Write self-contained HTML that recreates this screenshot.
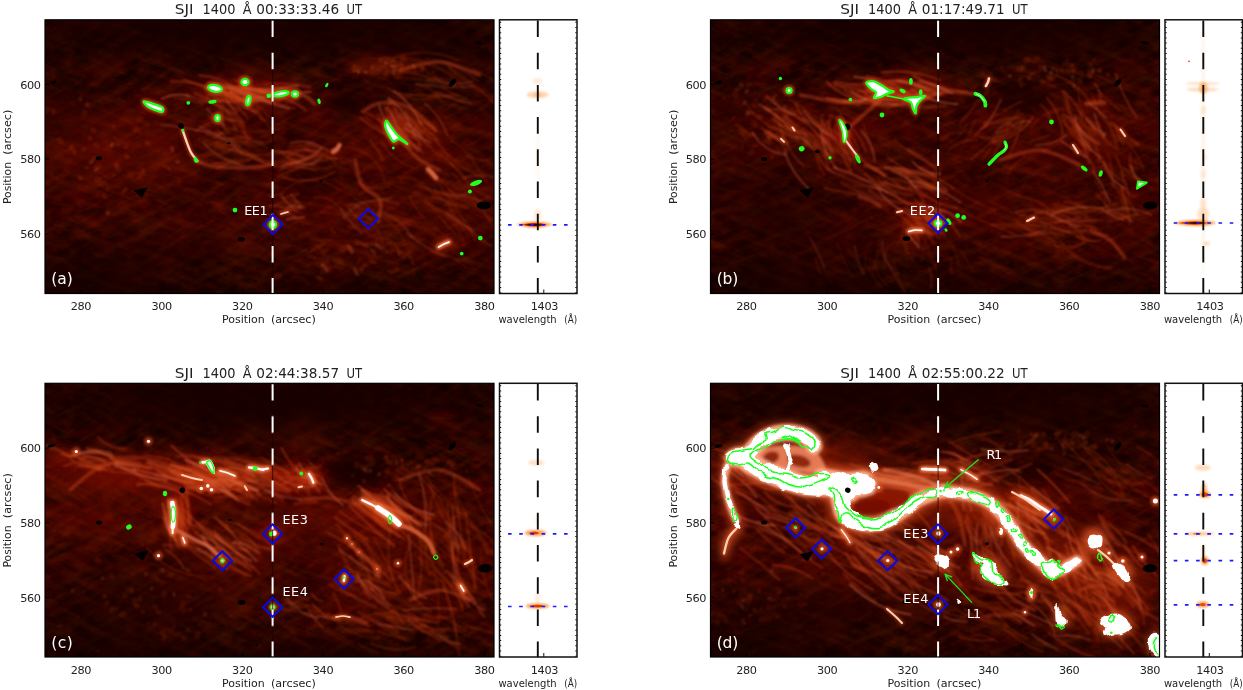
<!DOCTYPE html>
<html><head><meta charset="utf-8"><title>SJI 1400 figure</title>
<style>
html,body{margin:0;padding:0;background:#fff;overflow:hidden}
svg{display:block;font-family:"DejaVu Sans","Liberation Sans",sans-serif}
</style></head><body>
<svg width="1243" height="690" viewBox="0 0 1243 690">
<defs>
<clipPath id="clipI"><rect x="45.0" y="19.8" width="449.0" height="273.7"/></clipPath>
<clipPath id="clipS"><rect x="499.5" y="19.8" width="77.5" height="273.7"/></clipPath>
<linearGradient id="bg0" x1="0" y1="0" x2="0" y2="1"><stop offset="0" stop-color="#0f0000"/><stop offset="0.2" stop-color="#130000"/><stop offset="0.4" stop-color="#240000"/><stop offset="0.75" stop-color="#200000"/><stop offset="1" stop-color="#140000"/></linearGradient>
<filter id="bL" x="-30%" y="-30%" width="160%" height="160%"><feGaussianBlur stdDeviation="11"/></filter>
<filter id="bM" x="-20%" y="-20%" width="140%" height="140%"><feGaussianBlur stdDeviation="4.5"/></filter>
<filter id="bF" x="-10%" y="-10%" width="120%" height="120%"><feGaussianBlur stdDeviation="1.25"/></filter>
<filter id="bS" x="-10%" y="-10%" width="120%" height="120%"><feGaussianBlur stdDeviation="1.6"/></filter>
<filter id="bT" x="-5%" y="-5%" width="110%" height="110%"><feGaussianBlur stdDeviation="0.5"/></filter>
<filter id="bSp" x="-30%" y="-30%" width="160%" height="160%"><feGaussianBlur stdDeviation="1.3"/></filter>
<filter id="wigW" x="-5%" y="-5%" width="110%" height="110%"><feTurbulence type="fractalNoise" baseFrequency="0.09" numOctaves="2" seed="4" result="n"/><feDisplacementMap in="SourceGraphic" in2="n" scale="7" xChannelSelector="R" yChannelSelector="G"/><feGaussianBlur stdDeviation="0.6"/></filter>
<filter id="wigG" x="-5%" y="-5%" width="110%" height="110%"><feTurbulence type="fractalNoise" baseFrequency="0.075" numOctaves="1" seed="9" result="n"/><feDisplacementMap in="SourceGraphic" in2="n" scale="9" xChannelSelector="R" yChannelSelector="G"/></filter>
<filter id="tex" x="0" y="0" width="100%" height="100%"><feTurbulence type="fractalNoise" baseFrequency="0.08 0.12" numOctaves="3" seed="7"/><feColorMatrix values="0 0 0 0 0.5  0 0 0 0 0.015  0 0 0 0 0  1.8 0 0 0 -0.62"/></filter>
<filter id="tex2" x="0" y="0" width="100%" height="100%"><feTurbulence type="fractalNoise" baseFrequency="0.02 0.035" numOctaves="2" seed="21"/><feColorMatrix values="0 0 0 0 0.07  0 0 0 0 0.0  0 0 0 0 0  0 2.2 0 0 -0.9"/></filter>
<filter id="fib" x="0" y="0" width="100%" height="100%"><feTurbulence type="fractalNoise" baseFrequency="0.02 0.12" numOctaves="3" seed="3"/><feColorMatrix values="0 0 0 0 0.75  0 0 0 0 0.09  0 0 0 0 0.0  2.6 0 0 0 -1.12"/></filter>
<filter id="fib2" x="0" y="0" width="100%" height="100%"><feTurbulence type="fractalNoise" baseFrequency="0.022 0.13" numOctaves="3" seed="11"/><feColorMatrix values="0 0 0 0 0.75  0 0 0 0 0.09  0 0 0 0 0.0  2.6 0 0 0 -1.12"/></filter>
<radialGradient id="rg0c0000"><stop offset="0" stop-color="#0c0000" stop-opacity="1"/><stop offset="0.2" stop-color="#0c0000" stop-opacity="0.9"/><stop offset="0.4" stop-color="#0c0000" stop-opacity="0.66"/><stop offset="0.6" stop-color="#0c0000" stop-opacity="0.36"/><stop offset="0.8" stop-color="#0c0000" stop-opacity="0.12"/><stop offset="1" stop-color="#0c0000" stop-opacity="0"/></radialGradient><radialGradient id="rg160000"><stop offset="0" stop-color="#160000" stop-opacity="1"/><stop offset="0.2" stop-color="#160000" stop-opacity="0.9"/><stop offset="0.4" stop-color="#160000" stop-opacity="0.66"/><stop offset="0.6" stop-color="#160000" stop-opacity="0.36"/><stop offset="0.8" stop-color="#160000" stop-opacity="0.12"/><stop offset="1" stop-color="#160000" stop-opacity="0"/></radialGradient><radialGradient id="rga01200"><stop offset="0" stop-color="#a01200" stop-opacity="1"/><stop offset="0.2" stop-color="#a01200" stop-opacity="0.9"/><stop offset="0.4" stop-color="#a01200" stop-opacity="0.66"/><stop offset="0.6" stop-color="#a01200" stop-opacity="0.36"/><stop offset="0.8" stop-color="#a01200" stop-opacity="0.12"/><stop offset="1" stop-color="#a01200" stop-opacity="0"/></radialGradient><radialGradient id="rgb82404"><stop offset="0" stop-color="#b82404" stop-opacity="1"/><stop offset="0.2" stop-color="#b82404" stop-opacity="0.9"/><stop offset="0.4" stop-color="#b82404" stop-opacity="0.66"/><stop offset="0.6" stop-color="#b82404" stop-opacity="0.36"/><stop offset="0.8" stop-color="#b82404" stop-opacity="0.12"/><stop offset="1" stop-color="#b82404" stop-opacity="0"/></radialGradient>
</defs>
<rect width="1243" height="690" fill="#fff"/>
<g transform="translate(0,0)">
<g clip-path="url(#clipI)">
<rect x="45.0" y="19.8" width="449.0" height="273.7" fill="url(#bg0)"/><rect x="45.0" y="19.8" width="449.0" height="273.7" filter="url(#tex)" opacity="0.25"/><rect x="45.0" y="19.8" width="449.0" height="273.7" filter="url(#tex2)" opacity="0.6"/><g transform="rotate(18 270 156)"><rect x="-40" y="-120" width="640" height="560" filter="url(#fib)" opacity="0.12"/></g><g transform="rotate(-28 270 156)"><rect x="-40" y="-120" width="640" height="560" filter="url(#fib2)" opacity="0.1"/></g><g><ellipse cx="60" cy="290" rx="135" ry="39" fill="url(#rg0c0000)" opacity="0.6"/><ellipse cx="270" cy="296" rx="390" ry="18" fill="url(#rg0c0000)" opacity="0.5"/></g>
<g transform="translate(0,0)"><g><ellipse cx="250" cy="30" rx="450" ry="57" fill="url(#rg160000)" opacity="0.9"/><ellipse cx="70" cy="110" rx="75" ry="90" fill="url(#rg160000)" opacity="0.3"/><ellipse cx="445" cy="58" rx="112.5" ry="60" fill="url(#rg160000)" opacity="0.4"/><ellipse cx="110" cy="268" rx="225" ry="54" fill="url(#rg160000)" opacity="0.55"/><ellipse cx="380" cy="285" rx="210" ry="21" fill="url(#rg160000)" opacity="0.4"/><ellipse cx="250" cy="95" rx="105" ry="33" fill="url(#rga01200)" opacity="0.31"/><ellipse cx="400" cy="135" rx="82.5" ry="45" fill="url(#rga01200)" opacity="0.25"/><ellipse cx="120" cy="150" rx="112.5" ry="75" fill="url(#rga01200)" opacity="0.26"/><ellipse cx="330" cy="225" rx="180" ry="67.5" fill="url(#rga01200)" opacity="0.13"/><ellipse cx="440" cy="200" rx="75" ry="90" fill="url(#rga01200)" opacity="0.13"/></g>
<g filter="url(#bM)"><ellipse cx="347" cy="104" rx="18" ry="16" fill="#160000" opacity="0.6"/><ellipse cx="310" cy="185" rx="22" ry="14" fill="#160000" opacity="0.4"/><ellipse cx="385" cy="66" rx="40" ry="10" fill="#a01200" opacity="0.35"/><ellipse cx="255" cy="93" rx="40" ry="9" fill="#b41c00" opacity="0.42"/><ellipse cx="395" cy="132" rx="16" ry="10" fill="#b41c00" opacity="0.42" transform="rotate(45 395 132)"/><ellipse cx="215" cy="90" rx="14" ry="7" fill="#b41c00" opacity="0.35"/><ellipse cx="153" cy="107" rx="14" ry="6" fill="#b41c00" opacity="0.35" transform="rotate(20 153 107)"/><path d="M438.6 247.1C439.5 246.6 442.3 244.8 444 244C445.7 243.2 448.2 242.3 449 242" fill="none" stroke="#b83208" stroke-width="9.6" stroke-linecap="round" stroke-linejoin="round" opacity="0.7"/></g>
<g filter="url(#bF)"><path d="M183.5 79Q207 88.5 232 93.3M205 88.8Q223 87.7 237.8 98.1M174.2 99Q189.4 98.1 203.3 104.6M253.1 97Q274.1 101.6 294.5 108.6M206.5 88.2Q234.4 89.3 262.3 90.2M224.4 93.3Q237.5 104.6 254.5 100.9M234.9 80Q253.6 94 277.1 93.7M237 90.5Q247.1 99.1 260.4 98.1M198.8 101.8Q214.5 102.7 230 100.6M240 95.6Q256.2 100.6 272.1 94.8M259.2 90.7Q276 89.1 292.9 88.4" fill="none" stroke="#d04818" stroke-width="1.5" stroke-linecap="round" opacity="0.32"/><path d="M230.1 87.5Q244.2 89.6 258.5 89.4M255.4 92.2Q284 92.5 306.2 110.5M230.1 85.8Q257.4 87.9 284.2 93.8M238.2 98.9Q248.2 101.4 258.6 101.8M222.1 87.4Q237.6 92.5 252.8 86.3M199.4 74.9Q222.7 77.6 241.6 91.5M215 88.8Q228.7 92.2 241 99M214.8 98.2Q226.5 103.1 239.1 102.2M170.7 81.6Q193.5 79.3 213.1 91.2M194.5 92.8Q218.8 105.9 245.7 99.5M229.4 91.7Q243.7 87.5 256.1 95.7" fill="none" stroke="#d04818" stroke-width="2" stroke-linecap="round" opacity="0.40"/><path d="M208.6 82.5Q230.2 87.3 252.1 90.2M245.2 92.6Q258.8 96.3 272.2 101M226.4 91.9Q247.6 95.3 268.5 99.9M233.2 93.6Q257.8 88.7 280.3 99.9M206.9 95.5Q222.9 94.7 238.7 97.6M243 98.8Q269.9 90.1 297.3 97.2M242.6 86.4Q268 94.3 293.4 102.6M220.8 96.3Q245.7 102.4 271.2 99.5M243.3 88.1Q259.4 99.9 279.2 101.9M186.4 95.1Q214.3 107.5 241 92.8M264.9 83.8Q287.4 82.2 309.4 87" fill="none" stroke="#d04818" stroke-width="3" stroke-linecap="round" opacity="0.26"/><path d="M230.1 91.8Q248.4 94.6 266.7 97.4M259.9 91.4Q285.4 94.8 311 91.7M227.1 87.4Q251.4 93.4 274.2 103.9M245.3 89.1Q272.1 90 298.4 85.5M251.5 98Q270.3 103.8 289.3 108.6M161.6 98.9Q174.9 92.3 189.2 96.2" fill="none" stroke="#ec7446" stroke-width="1.5" stroke-linecap="round" opacity="0.50"/><path d="M255.8 97Q256.5 115.1 269.9 127.3M207.5 99.7Q222.8 107 230.3 122.3M207.3 113.8Q212.6 122.2 222.2 124.3M210.1 93.3Q223.3 108.5 224 128.6M237.9 96.7Q256.4 101.5 268.7 116.1" fill="none" stroke="#d04818" stroke-width="1.5" stroke-linecap="round" opacity="0.24"/><path d="M221 90Q236.3 102 247.5 118M224.5 94.2Q228.3 106.1 240 110.5M231.1 112.2Q241.2 116.2 244.5 126.5M217.6 99.5Q230 112.7 236.1 129.8M209.1 102.3Q221.4 105.8 231.8 113.2" fill="none" stroke="#d04818" stroke-width="2" stroke-linecap="round" opacity="0.30"/><path d="M231.2 94.5Q246 100.4 255.3 113.3M219.4 107.1Q240.2 116.4 246.8 138.1M209.8 116.8Q221.3 121.9 228.4 132.5M218.4 114.2Q229.1 120.6 241.4 122.8M236.6 96.8Q251.4 104.7 261.3 118.3" fill="none" stroke="#d04818" stroke-width="3" stroke-linecap="round" opacity="0.20"/><path d="M239 103.9Q247.2 109.6 257 111.9M226.6 101.8Q231.7 107.6 236.7 113.6M207.1 108.9Q214.6 117.9 224.2 124.7" fill="none" stroke="#ec7446" stroke-width="1.5" stroke-linecap="round" opacity="0.38"/><path d="M214.1 138.1Q232.4 139.8 250.1 134.8M219.6 133.3Q246.4 131.9 267.4 148.6M193.3 129.5Q207.5 131.4 220.5 137.4M199.6 163.5Q217.8 159 233.2 148.5M206 126Q231.2 122.7 251.5 138M223.9 128.9Q254.6 135.6 284.9 127.3M213.8 163.9Q231.3 160 249.3 159.9" fill="none" stroke="#d04818" stroke-width="1.5" stroke-linecap="round" opacity="0.22"/><path d="M205.9 133.7Q233.8 143.1 263.2 142M195.9 131.2Q215.6 115.1 240.4 121.1M215.1 143.2Q231.2 135.7 248.7 138.6M216.5 145.4Q241.6 151.5 264.8 163M212 162.6Q227.5 164.3 243.1 165.1M217 129.2Q238.4 149.1 264.5 161.9M277.9 153.8Q292.7 148.3 308.4 149.8" fill="none" stroke="#d04818" stroke-width="2" stroke-linecap="round" opacity="0.28"/><path d="M204.6 140.1Q220.3 146.9 237 143.4M190.3 154.7Q223.7 158.7 250.8 138.8M217.4 168.1Q233.4 161.8 250.5 160.1M198.8 139.4Q216.1 150.2 236.6 150M236.8 151.9Q258.2 159.6 279.1 150.6M227.9 139Q249.7 150.2 272.3 140.8M233.7 146.2Q258.7 164.4 289.4 168.4" fill="none" stroke="#d04818" stroke-width="3" stroke-linecap="round" opacity="0.18"/><path d="M199 126.4Q223.2 136 242.7 153.3M203.8 143.4Q218.8 159.2 239.9 164.1M160.8 124.3Q191.4 128.8 221.7 134.6" fill="none" stroke="#ec7446" stroke-width="1.5" stroke-linecap="round" opacity="0.35"/><path d="M285.3 161.7Q307.4 173.4 331.4 166.5M288.1 147.6Q304.9 143.2 321.5 148.4M299.4 144.6Q318.3 159.8 342.5 158.2M269.5 164Q281.5 160 294 159.4M283.2 160.4Q303.7 161.8 323.1 168.9M267.5 161.2Q290.1 163.2 312.9 164.3" fill="none" stroke="#d04818" stroke-width="1.5" stroke-linecap="round" opacity="0.24"/><path d="M285.4 163.4Q303.3 164.1 317.9 153.9M285.8 152Q297.9 151.8 306.3 160.5M282.4 176.9Q309.7 186.4 334.6 171.6M277.6 175.8Q296.1 168.1 315.5 162.9M287.2 156.5Q301.4 147.2 317.8 151.9M281 151.9Q288.9 160.6 300.5 160.6" fill="none" stroke="#d04818" stroke-width="2" stroke-linecap="round" opacity="0.30"/><path d="M274 150.6Q297 154.6 319.7 160.1M312.1 165Q323.6 158.2 337 158.3M278.8 171.3Q297.2 158.4 319.6 156.1M305.9 149.1Q323.4 149.9 335.4 162.6M282.8 166.2Q300.2 164.9 316.6 170.5M291 161.5Q314.4 161.7 333.8 148.6" fill="none" stroke="#d04818" stroke-width="3" stroke-linecap="round" opacity="0.20"/><path d="M295.6 163.4Q309.6 166.4 321.3 158.2M281 165.4Q304.4 163.2 322.4 148M290.4 143.3Q308.2 137.9 323.6 148.5M306 142.3Q317.7 144.7 328.2 150.1" fill="none" stroke="#ec7446" stroke-width="1.5" stroke-linecap="round" opacity="0.38"/><path d="M385.8 106.8Q396 118.8 403.8 132.6M389.7 102.4Q414.9 110.9 427.4 134.3M411.4 113.1Q421.3 118.1 429.1 126.1M391.7 101.7Q401.9 118.4 413.7 134.1M365.7 117.3Q382.9 130.1 397 146.1M396.4 125.4Q404.9 137.1 419.1 139.8M399.5 137Q410.6 144.7 421.7 152.6M400.8 112.7Q416.6 132.1 439.1 143.1M391.1 110.1Q408 128.8 432.6 134.4M381.5 141.6Q392.2 160.6 412.9 167.5M393.2 120.7Q400.8 144.9 424.6 153.6" fill="none" stroke="#d04818" stroke-width="1.5" stroke-linecap="round" opacity="0.27"/><path d="M394.6 109Q398.3 124.6 412.2 132.6M424.7 103.1Q441.1 116.4 447.9 136.3M395.5 113.4Q415.1 124.2 419.4 146.1M360.1 117.5Q379.1 134.3 403.6 141.1M414.8 127Q418.6 141.2 431.8 147.6M387.8 105.6Q393.3 118.5 405.1 126.2M377.7 119.2Q384.8 125.5 393.8 128.6M419.6 121.7Q430.1 122.8 436 131.4M388.9 116.2Q409.4 125.8 421.5 145M405.5 111.2Q412.5 123.6 424 132.1M385.9 107.6Q396.2 119 406.7 130.2" fill="none" stroke="#d04818" stroke-width="2" stroke-linecap="round" opacity="0.34"/><path d="M405.3 114.4Q421.2 124.7 435.1 137.4M365.1 112.6Q388 120.3 396.4 143.1M388.2 99.3Q398.4 115.6 409.4 131.4M384.8 108.2Q392.2 121.7 403.1 132.6M378 114.7Q385.4 124.5 397.3 127.9M370.5 141.1Q378.2 149.5 383.1 159.8M391.2 122.8Q402.8 131.6 415.6 138.9M386.5 115.2Q403.4 131.7 417.8 150.6M397.4 113.1Q414.5 118 421.2 134.5M417.9 120.5Q427 130.8 437.5 139.7M389.3 117.3Q398.7 134.1 410.4 149.4" fill="none" stroke="#d04818" stroke-width="3" stroke-linecap="round" opacity="0.22"/><path d="M403.8 128.4Q417.1 136 430.7 143M390.9 112.9Q399.7 136.5 421 149.8M393.6 90.8Q412.2 103.3 421.2 124M378.9 104.2Q384.4 126.6 404.1 138.7M405.6 123.5Q417.4 130.3 425.4 141.3M388.2 97.6Q408.2 112.2 414.6 136.2" fill="none" stroke="#ec7446" stroke-width="1.5" stroke-linecap="round" opacity="0.43"/><path d="M432.7 70.9Q443.7 94.2 468.8 99.6M413.4 79Q437.5 82.5 457.7 95.9M423.2 67.6Q434.7 81.7 452.7 84.1M393.8 91.9Q422.5 97.4 451.8 96.7M448.2 66.5Q473.2 82 493.9 102.8" fill="none" stroke="#d04818" stroke-width="1.5" stroke-linecap="round" opacity="0.18"/><path d="M388 88.5Q411.5 104.5 438.9 97M392.7 69.6Q424.2 74.8 454.3 85.3M394 57.5Q427.2 46.3 459.1 60.7M472.4 69.1Q493.6 77.4 509 94.1M407.2 94.9Q433 95.2 458.9 95.5" fill="none" stroke="#d04818" stroke-width="2" stroke-linecap="round" opacity="0.22"/><path d="M398 77.7Q426.1 80 454.2 79.2M401.6 57.8Q438.4 60.3 463.9 87M415.6 83.9Q433.1 86.9 442.3 102M426.5 58.9Q455.7 61.4 477.6 81M447.8 66Q471.2 91.9 505.2 99.6" fill="none" stroke="#d04818" stroke-width="3" stroke-linecap="round" opacity="0.14"/><path d="M416.4 83.9Q445 88.6 473.9 86.2M435.4 92Q452.3 99.9 470.7 102.9M426.9 79.4Q449.7 87.3 473 81.6" fill="none" stroke="#ec7446" stroke-width="1.5" stroke-linecap="round" opacity="0.28"/><path d="M443.5 205.7Q474.2 200.4 500.7 216.9M471.7 198.8Q479.3 215.1 496.7 220M447.8 193.8Q454.1 204.3 465.9 207.3M446.1 156.5Q463.4 181.5 487.8 199.7M430.9 220.8Q442.7 236 458 247.7M414.4 184.7Q443.7 194.5 473.5 202.7M409.1 196.2Q419.6 217.4 438.4 231.8M470.3 157.5Q479.4 170.6 487.9 184.1M450.9 140.9Q473.8 153.1 482 177.8M429.5 252Q452.1 252.8 467.7 269.1" fill="none" stroke="#d04818" stroke-width="1.5" stroke-linecap="round" opacity="0.18"/><path d="M418.8 185.6Q442.9 192.2 454.6 214.1M435.2 138.7Q451 164 478.5 175.3M432.4 197.6Q445.1 199.1 456.1 205.7M422.8 201Q446.2 211.6 464.5 229.7M433 150.8Q451.9 161.2 465.3 178.1M473.7 194.9Q484.6 212.1 495.3 229.2M428.5 169.3Q443.7 182.8 457.4 197.8M466.3 155.9Q477.2 159.9 488.6 161.2M445.4 211.9Q468.6 228.9 491.5 246.2M448.9 209.2Q457.9 221.8 471.4 229.3" fill="none" stroke="#d04818" stroke-width="2" stroke-linecap="round" opacity="0.22"/><path d="M435.2 176.5Q449.8 203.9 470.4 227.3M425.5 198.8Q441.1 220.2 460 238.6M433.1 194.4Q448.7 206 468 207.6M453.1 173.5Q461.1 181.8 465.6 192.4M437.3 210.7Q459 221.7 464.3 245.4M425.9 172.1Q443.5 180.9 460.7 190.2M450 201.8Q465.5 219 475.1 240.2M441.4 181.6Q469 182.3 491.2 198.7M437.8 159.5Q460.1 169.5 484.3 172.9M441 179.2Q470.2 188.4 500.4 192.7" fill="none" stroke="#d04818" stroke-width="3" stroke-linecap="round" opacity="0.14"/><path d="M406 232.3Q424.2 247.4 445.9 256.8M446.9 212.9Q459.4 222.6 472.9 230.8M434.5 189.9Q452.7 199.3 472.1 192.2M448.9 195.2Q466.6 194.5 482.8 201.6M463.9 177.5Q487.9 172.1 509.9 183" fill="none" stroke="#ec7446" stroke-width="1.5" stroke-linecap="round" opacity="0.28"/><path d="M350.6 160.2Q356.8 188.8 382.5 202.8M365.2 211Q393.4 216.2 404.8 242.5M338.5 200.8Q355.8 209.3 358.3 228.5M373.5 208.8Q400.6 221 430.2 224.1M309.9 240.1Q331 240.1 352.1 241.5M335.1 210.1Q354.9 228.4 379.7 238.7M361.5 177.2Q370.9 193.8 388.6 200.8" fill="none" stroke="#d04818" stroke-width="1.5" stroke-linecap="round" opacity="0.16"/><path d="M285.4 188.8Q312.5 171.4 339.2 189.3M357.6 183.1Q373.4 191.2 390.5 186.5M384.3 237.9Q398.1 241.7 399.4 256M314.1 197.4Q337 195.5 344.6 217.3M355.3 205.4Q373.4 218.9 382.3 239.6M346.2 204.1Q367.4 235.1 403.1 223.4M353.6 198.3Q369.2 202.9 376.1 217.7" fill="none" stroke="#d04818" stroke-width="2" stroke-linecap="round" opacity="0.20"/><path d="M355.2 205.5Q382.5 215.3 409.9 224.8M397.3 177.5Q418.4 175.3 431.2 192.3M350.6 204.3Q363.2 218.5 381.6 222.8M355.9 243.9Q383.3 244.5 410.7 244.1M344.7 147.5Q376.8 149.9 385.1 181M320.5 211.7Q344.3 215.1 368.3 217M359 194.3Q381 180.4 407 182.2" fill="none" stroke="#d04818" stroke-width="3" stroke-linecap="round" opacity="0.13"/><path d="M341.4 208.8Q349.9 222.4 361.6 233.4M348.7 204.9Q370.3 200.8 392.1 197.7M384.5 213.1Q402.9 220.8 412.8 238M343.9 217.2Q367.2 192.1 399.2 204" fill="none" stroke="#ec7446" stroke-width="1.5" stroke-linecap="round" opacity="0.25"/><path d="M113.3 175.1Q113.8 174.8 114.5 174.6M114.6 138.1Q115.6 138.7 116.6 139.3M85.6 167.9Q86.9 167.3 88.3 167.8M69.6 149.4Q70 148.5 70.5 147.6M52.9 113Q53.2 112 54.2 111.5M146.6 141.8Q147.3 142.7 147.4 143.8M163.7 165.6Q164.8 166.1 165.6 167M139.2 132.3Q140.1 132.2 140.9 132.2M53.7 110.5Q53.9 111.1 54.5 111.5M141.5 173.9Q142.7 173.6 143.9 173.3M179.1 182.1Q179.2 182.7 178.9 183.3M99 184.6Q99.5 184.8 100 185M107.3 188.4Q107.7 189 107.9 189.8M125.8 187.7Q125.9 188.9 126.9 189.7M113.1 125.7Q113.8 126.7 113.9 127.9" fill="none" stroke="#d04818" stroke-width="3" stroke-linecap="round" opacity="0.17"/><path d="M142.7 169.7Q142.7 170.6 143.3 171.2M71.3 146.5Q71.7 146.9 72.2 147.3M168.5 168.2Q169.4 168.9 169.6 169.9M122.9 192.4Q123.2 191.1 124.5 190.5M103.3 195.9Q104.1 196.6 105.1 196.7M89.6 137.8Q90.1 138 90.6 138.4M126.2 155.5Q127.2 156.4 127.7 157.6M82.8 149.7Q83.8 149.6 84.6 149.2M134.5 130.5Q135.3 129.3 136.8 129.1M116.3 164.8Q116.4 165.7 116.3 166.5M87.1 103.7Q87.3 104.6 87.2 105.4M79.1 177.4Q79.8 178.3 80.9 178.6M80.5 98.1Q80.3 99 80.9 99.8M94 157.5Q94.5 157.3 95.1 157.4M73.7 150.8Q74 151.6 74.6 152.2" fill="none" stroke="#d04818" stroke-width="3.9" stroke-linecap="round" opacity="0.21"/><path d="M130.3 174Q131.1 174.1 131.9 173.9M118.4 143.2Q119.4 142.6 120.5 142.6M102.8 184.1Q103.7 183.7 104.7 183.5M117.3 167.2Q118.2 168 119 168.9M96.6 179.7Q97.7 180 98.9 179.7M59.9 140.1Q60.2 141.1 60.9 142M125.8 144.6Q126.2 145.2 126.4 145.9M138.9 119.6Q139.8 119.5 140.8 119.5M93 130.7Q93.6 130.9 93.9 131.4M147.5 143.1Q148.3 143.5 149.3 143.4M97 166.7Q98.1 166 99.2 165.2M145.6 124.1Q146.6 124.4 147.6 124.4M95.4 145.4Q96 146.3 97.1 146.3M139 174.5Q139.3 174.9 139.4 175.6M84.6 112.6Q84.3 113.5 84.6 114.3" fill="none" stroke="#d04818" stroke-width="6" stroke-linecap="round" opacity="0.14"/><path d="M172 148.6Q172.2 149.7 172.5 150.8M107.3 212.4Q107.8 212.9 108 213.6M171.9 147.7Q172.4 148.7 172.8 149.7M111.5 146Q111.5 144.7 112.4 143.7M90.5 162.8Q91.3 161.7 92.3 160.9M176.9 161.6Q177.7 162.1 178.6 162.1M95.4 170.3Q96.1 169.2 97.4 168.9" fill="none" stroke="#ec7446" stroke-width="3" stroke-linecap="round" opacity="0.26"/><path d="M385.1 66.7Q385.5 67.5 386.1 68.2M390.1 66.1Q390.5 65.3 390.6 64.4M390.7 61Q391.3 61.1 391.9 61.4M385.2 62.4Q385.9 63 385.9 64M399.7 72.4Q400.4 72.7 400.7 73.3M399.7 68.9Q400.6 68.5 401.1 67.7M377.5 69Q378 68.8 378.6 69M389.1 71.3Q389.8 71.3 390.5 71.1M379.9 62Q380.5 62.3 381 62.6M387.3 58.5Q387.5 58.2 387.8 57.9M414.9 71.9Q415.6 72 416.3 72.2M381 66.5Q381.7 67 381.8 67.9" fill="none" stroke="#d04818" stroke-width="2.8" stroke-linecap="round" opacity="0.18"/><path d="M386.4 70.6Q387.1 71 387.9 71.4M353.8 66.6Q354.6 66.7 355.3 66.9M399.6 64Q399.9 63.6 400.3 63.5M384.4 74Q385.1 74.4 385.7 74.6M353.6 71.1Q353.8 70.7 354 70.2M394.7 70.7Q395.2 70.4 395.5 69.9M393.4 60.5Q394.1 61.2 395.1 61.4M391.3 66.6Q392.3 66.4 393.4 66.6M379.9 60.2Q380.3 60 380.7 59.8M371.8 66.1Q372.3 66.8 372.3 67.7M401.7 66Q402.2 65.6 402.4 64.9M422.3 66.8Q422.1 67.5 422.4 68.3" fill="none" stroke="#d04818" stroke-width="3.6" stroke-linecap="round" opacity="0.22"/><path d="M358 69.7Q359 69.4 359.5 68.6M422.1 70.3Q422.3 69.5 423 68.9M390.6 58.8Q390.6 59.6 390.9 60.3M374.6 67.3Q375.4 67.7 376.2 68M378.4 71.6Q378.6 71.2 379 70.9M373 68.8Q373.4 68.2 373.9 67.7M395.8 76.5Q396.7 76.3 397.6 76M381 66.9Q381.6 66.6 382.4 66.6M403 59.5Q403.1 58.9 403.5 58.5M383.4 58.6Q384.3 58.4 385.2 58.4M375.3 65.5Q376 65.5 376.6 65.9M373 71.3Q373.5 71 373.7 70.4" fill="none" stroke="#d04818" stroke-width="5.6" stroke-linecap="round" opacity="0.14"/><path d="M364.8 71.9Q365.6 71.6 366.4 72.1M385.2 63Q386.1 63.2 387.1 62.9M392.9 66.2Q393.4 66.6 394.1 66.4M396.2 66Q396.7 66.1 397.1 65.8M393.3 72.3Q393.5 72.7 393.7 73.1M412.9 65.5Q413.7 66.1 414.1 67.1M357.9 71Q358.4 71.9 358.7 72.9" fill="none" stroke="#ec7446" stroke-width="2.8" stroke-linecap="round" opacity="0.28"/><path d="M410.5 257.4Q412.5 260.3 413.2 263.7M357.3 262.7Q359.2 260.3 361.5 258.2M311.2 251.1Q312.7 250.1 314.2 249.3M307.8 256.3Q311.9 255.9 315.2 258.3M382 246.7Q385.7 248.4 387.5 252.1M330.9 228.1Q331.8 231 334.4 232.5M322.3 265.4Q325.9 263.6 328.3 260.5M387.9 242.4Q389.4 243.3 391.1 243.2M397.9 251.5Q400.5 252 402.6 253.6M348.4 226.1Q350.8 227.5 353.6 227.5" fill="none" stroke="#d04818" stroke-width="3" stroke-linecap="round" opacity="0.16"/><path d="M320.3 246.7Q321.3 245 323.2 244.4M391.5 272.7Q394.6 271.6 397.1 269.6M370.5 260.9Q373.1 261 375.1 262.7M388.5 270.9Q389.9 272 391.5 272.7M361.4 243.1Q363.7 245.6 367 246.3M317.8 277.5Q320.1 277.9 321.4 279.7M407.4 253.2Q409.3 253.2 410.7 251.9M361.3 269.9Q362.3 266 366 264.5M316.9 245.5Q318.9 246.6 319.7 248.8M355.4 241Q357.2 241 358.5 242.3" fill="none" stroke="#d04818" stroke-width="3.9" stroke-linecap="round" opacity="0.20"/><path d="M335.3 260.1Q337.7 260.6 340.2 261.1M367.9 244.1Q371.6 243.7 375.5 243.6M323.3 252.2Q324.5 250.7 326 249.6M342.2 249.2Q344 249.3 345.6 248.2M275.4 277Q277.4 275.7 279.8 275.2M322.3 271.5Q325.6 269.6 329.3 268.6M338 264.3Q340 265.5 342.3 265.1M346.1 247.4Q349.4 248.4 352.2 250.7M399.6 253.1Q402.4 253.6 403.7 256.1M318.2 264.3Q319.4 265.7 321.2 265.7" fill="none" stroke="#d04818" stroke-width="6" stroke-linecap="round" opacity="0.13"/><path d="M371.1 249.9Q373.5 250.5 374.5 252.9M322.1 264.5Q325.6 266.9 327.3 270.9M354.6 268.7Q355.7 271.7 357.3 274.5M348.4 245.7Q351.1 248.7 351.9 252.6M376.2 245.2Q379 246.9 381.5 248.9" fill="none" stroke="#ec7446" stroke-width="3" stroke-linecap="round" opacity="0.25"/><path d="M276.9 205.7Q287.6 207.8 297.8 211.9M275.5 203.4Q285.7 203 295.8 204.3M267.8 195.3Q276.5 196.7 284 192M280.6 193.7Q283.6 197.6 286.5 201.7" fill="none" stroke="#d04818" stroke-width="1.5" stroke-linecap="round" opacity="0.28"/><path d="M291.2 193.7Q296.2 200.9 301.4 208M280.6 196.3Q287.8 202.8 294.8 209.6M280.4 211Q291.5 211.9 301.4 206.8M269.1 205.7Q278.8 205.7 288.1 208.1" fill="none" stroke="#d04818" stroke-width="2" stroke-linecap="round" opacity="0.35"/><path d="M290.1 200.1Q298.5 201.4 304.7 207.3M284.6 198Q290.9 194.8 298 193.9M268.1 213.6Q275.1 220 283.7 223.9M285.5 210.7Q289.7 214.2 294.7 216.4" fill="none" stroke="#d04818" stroke-width="3" stroke-linecap="round" opacity="0.23"/><path d="M286.6 219.5Q295.2 217.5 304 217.3M287.9 207.2Q294.9 205.2 301.9 207.2" fill="none" stroke="#ec7446" stroke-width="1.5" stroke-linecap="round" opacity="0.44"/><path d="M428 169C428.7 169.7 430.7 171.5 432 173C433.3 174.5 435.3 177.2 436 178" fill="none" stroke="#ffd0b8" stroke-width="2.8" stroke-linecap="round" stroke-linejoin="round" opacity="0.95"/><path d="M333 152C333.7 151.5 335.9 150.2 337 149C338.1 147.8 339.1 145.7 339.5 145" fill="none" stroke="#ffd0b8" stroke-width="2.7" stroke-linecap="round" stroke-linejoin="round" opacity="0.95"/></g>
<g filter="url(#bS)"><path d="M182.5 130C183.1 131.7 184.6 136.2 186 140C187.4 143.8 189.1 149 191 152.5C192.9 156 196.4 159.6 197.5 161" fill="none" stroke="#c84010" stroke-width="4.6" stroke-linecap="round" stroke-linejoin="round" opacity="0.65"/><path d="M197.5 161C199.2 161.7 202.9 163.9 207.5 165C212.1 166.1 217.9 167.1 225 167.5C232.1 167.9 242.5 167.9 250 167.5C257.5 167.1 266.7 165.4 270 165" fill="none" stroke="#d04c1c" stroke-width="2.7" stroke-linecap="round" stroke-linejoin="round" opacity="0.6"/><path d="M438.6 247.1C439.5 246.6 442.3 244.8 444 244C445.7 243.2 448.2 242.3 449 242" fill="none" stroke="#ff8a5a" stroke-width="4.6" stroke-linecap="round" stroke-linejoin="round" opacity="0.9"/><path d="M428 169C428.7 169.7 430.7 171.5 432 173C433.3 174.5 435.3 177.2 436 178" fill="none" stroke="#c84010" stroke-width="5.1" stroke-linecap="round" stroke-linejoin="round" opacity="0.7"/><path d="M333 152C333.7 151.5 335.9 150.2 337 149C338.1 147.8 339.1 145.7 339.5 145" fill="none" stroke="#c84010" stroke-width="5" stroke-linecap="round" stroke-linejoin="round" opacity="0.7"/><path d="M222 92C224.2 92.8 231 95.2 235 97C239 98.8 244.2 102 246 103" fill="none" stroke="#d04c1c" stroke-width="2.7" stroke-linecap="round" stroke-linejoin="round" opacity="0.6"/><path d="M225 86C228.3 86.7 237.8 89 245 90C252.2 91 264.2 91.7 268 92" fill="none" stroke="#d04c1c" stroke-width="2.7" stroke-linecap="round" stroke-linejoin="round" opacity="0.6"/><path d="M290 92C292.5 92.7 300.8 94 305 96C309.2 98 313.3 102.7 315 104" fill="none" stroke="#d04c1c" stroke-width="2.7" stroke-linecap="round" stroke-linejoin="round" opacity="0.6"/><path d="M362 112C365 110.5 372.3 103.8 380 103C387.7 102.2 398.7 102.5 408 107C417.3 111.5 431.3 126.2 436 130" fill="none" stroke="#d04c1c" stroke-width="2.5" stroke-linecap="round" stroke-linejoin="round" opacity="0.6"/><path d="M400 70C406.7 68.7 426.7 61.2 440 62C453.3 62.8 473.3 72.8 480 75" fill="none" stroke="#d04c1c" stroke-width="2.5" stroke-linecap="round" stroke-linejoin="round" opacity="0.6"/><path d="M281 214C281.5 213.8 282.8 213.3 284 213C285.2 212.7 287.3 212.2 288 212" fill="none" stroke="#c84010" stroke-width="4" stroke-linecap="round" stroke-linejoin="round" opacity="0.65"/><path d="M405 145C407.5 147.5 414.2 155.8 420 160C425.8 164.2 436.7 168.3 440 170" fill="none" stroke="#d04c1c" stroke-width="2.5" stroke-linecap="round" stroke-linejoin="round" opacity="0.6"/><path d="M355 160C356.2 164.2 357.8 178.3 362 185C366.2 191.7 377.3 193.8 380 200C382.7 206.2 378.3 218.3 378 222" fill="none" stroke="#d04c1c" stroke-width="2.5" stroke-linecap="round" stroke-linejoin="round" opacity="0.6"/><path d="M143.8 101.3C144.7 100.9 149.9 102.8 153 103.8C156.1 104.8 161 106.1 162.5 107.5C164 108.9 163.4 111.7 162 112C160.6 112.3 156.4 110.5 154 109.6C151.6 108.6 149.2 107.7 147.5 106.3C145.8 104.9 142.9 101.7 143.8 101.3Z" fill="#ff8a5a" stroke="#d04a18" stroke-width="5" stroke-linejoin="round" opacity="0.8"/><ellipse cx="215" cy="88.3" rx="10" ry="6.3" fill="#d8541e" opacity="0.75" transform="rotate(10 215 88.3)"/><ellipse cx="245" cy="82" rx="6.6" ry="6.2" fill="#d8541e" opacity="0.75"/><ellipse cx="248.3" cy="100.5" rx="5" ry="7.8" fill="#d8541e" opacity="0.75" transform="rotate(12 248.3 100.5)"/><ellipse cx="217.5" cy="118" rx="5.2" ry="6" fill="#d8541e" opacity="0.75"/><ellipse cx="281" cy="93.8" rx="10.6" ry="5.3" fill="#d8541e" opacity="0.75" transform="rotate(-10 281 93.8)"/><ellipse cx="295" cy="94" rx="6" ry="5.6" fill="#d8541e" opacity="0.75"/><path d="M386.4 120.6C387.2 120.4 388.2 122.9 389.9 125.2C391.6 127.5 393.9 131.4 396.8 134.5C399.7 137.6 406.8 143 407.2 143.8C407.6 144.6 401.4 139.5 399.1 139.1C396.8 138.7 395 142.2 393.3 141.4C391.6 140.6 390.1 137 388.7 134.5C387.3 132 385.6 128.7 385.2 126.4C384.8 124.1 385.6 120.8 386.4 120.6Z" fill="#ff8a5a" stroke="#d04a18" stroke-width="5" stroke-linejoin="round" opacity="0.8"/><ellipse cx="272.9" cy="224.6" rx="6.2" ry="6.2" fill="#d8541e" opacity="0.75"/></g>
<g filter="url(#bT)"><path d="M182.5 130C183.1 131.7 184.6 136.2 186 140C187.4 143.8 189.1 149 191 152.5C192.9 156 196.4 159.6 197.5 161" fill="none" stroke="#ffd8c4" stroke-width="2.3" stroke-linecap="round" stroke-linejoin="round" opacity="0.95"/><path d="M438.6 247.1C439.5 246.6 442.3 244.8 444 244C445.7 243.2 448.2 242.3 449 242" fill="none" stroke="#fff" stroke-width="1.6" stroke-linecap="round" stroke-linejoin="round"/><path d="M281 214C281.5 213.8 282.8 213.3 284 213C285.2 212.7 287.3 212.2 288 212" fill="none" stroke="#ffd8c4" stroke-width="1.7" stroke-linecap="round" stroke-linejoin="round" opacity="0.95"/></g>
<g><ellipse cx="181" cy="126" rx="3" ry="2.5" fill="#000" transform="rotate(30 181 126)"/><ellipse cx="228.8" cy="143.3" rx="2" ry="1" fill="#000"/><ellipse cx="98.8" cy="158.3" rx="3" ry="2" fill="#000"/><ellipse cx="53.8" cy="82.5" rx="3" ry="1.5" fill="#000" transform="rotate(-15 53.8 82.5)"/><path d="M133.5 190.6L147.5 187.6L141.9 197.6L139.1 195.6Z" fill="#000"/><ellipse cx="241.3" cy="239.2" rx="3.5" ry="2.3" fill="#000"/><ellipse cx="255.8" cy="281" rx="1.2" ry="1" fill="#000"/><ellipse cx="452.5" cy="82.8" rx="5" ry="2.3" fill="#000" transform="rotate(-50 452.5 82.8)"/><ellipse cx="479.1" cy="42.9" rx="3" ry="1.4" fill="#000" transform="rotate(10 479.1 42.9)"/><ellipse cx="483.8" cy="205.4" rx="7" ry="4" fill="#000"/><ellipse cx="320.8" cy="181" rx="1.5" ry="1.5" fill="#000"/></g>
<g><path d="M143.8 101.3C144.7 100.9 149.9 102.8 153 103.8C156.1 104.8 161 106.1 162.5 107.5C164 108.9 163.4 111.7 162 112C160.6 112.3 156.4 110.5 154 109.6C151.6 108.6 149.2 107.7 147.5 106.3C145.8 104.9 142.9 101.7 143.8 101.3Z" fill="#fff" stroke="#1eff1e" stroke-width="2.3" stroke-linejoin="round"/><ellipse cx="188.3" cy="102.8" rx="1.9" ry="1.9" fill="#1eff1e"/><ellipse cx="215" cy="88.3" rx="7" ry="3.3" fill="#fff" stroke="#1eff1e" stroke-width="2.2" transform="rotate(10 215 88.3)"/><ellipse cx="212.5" cy="101.8" rx="4.2" ry="1.9" fill="#1eff1e" transform="rotate(-8 212.5 101.8)"/><ellipse cx="245" cy="82" rx="3.6" ry="3.2" fill="#fff" stroke="#1eff1e" stroke-width="2.2"/><ellipse cx="248.3" cy="100.5" rx="2" ry="4.8" fill="#fff" stroke="#1eff1e" stroke-width="2.2" transform="rotate(12 248.3 100.5)"/><ellipse cx="217.5" cy="118" rx="2.2" ry="3" fill="#fff" stroke="#1eff1e" stroke-width="2.2"/><ellipse cx="281" cy="93.8" rx="7.6" ry="2.3" fill="#fff" stroke="#1eff1e" stroke-width="2.2" transform="rotate(-10 281 93.8)"/><ellipse cx="268.8" cy="95.8" rx="2.4" ry="2.4" fill="#1eff1e"/><ellipse cx="295" cy="94" rx="3" ry="2.6" fill="#fff" stroke="#1eff1e" stroke-width="2.2"/><ellipse cx="195.8" cy="160" rx="1.9" ry="2.9" fill="#1eff1e" transform="rotate(-20 195.8 160)"/><ellipse cx="183" cy="130.5" rx="1.4" ry="1.4" fill="#1eff1e"/><ellipse cx="326.8" cy="85.1" rx="1.4" ry="2.4" fill="#1eff1e" transform="rotate(30 326.8 85.1)"/><ellipse cx="319.1" cy="101.3" rx="1.6" ry="2.9" fill="#1eff1e" transform="rotate(-15 319.1 101.3)"/><path d="M386.4 120.6C387.2 120.4 388.2 122.9 389.9 125.2C391.6 127.5 393.9 131.4 396.8 134.5C399.7 137.6 406.8 143 407.2 143.8C407.6 144.6 401.4 139.5 399.1 139.1C396.8 138.7 395 142.2 393.3 141.4C391.6 140.6 390.1 137 388.7 134.5C387.3 132 385.6 128.7 385.2 126.4C384.8 124.1 385.6 120.8 386.4 120.6Z" fill="#fff" stroke="#1eff1e" stroke-width="2.3" stroke-linejoin="round"/><ellipse cx="393.3" cy="148" rx="1.4" ry="1.4" fill="#1eff1e"/><ellipse cx="476.1" cy="182.9" rx="6.4" ry="2.4" fill="#1eff1e" transform="rotate(-20 476.1 182.9)"/><ellipse cx="469.9" cy="191.5" rx="2" ry="2" fill="#1eff1e"/><ellipse cx="480.3" cy="238.1" rx="2.4" ry="2.4" fill="#1eff1e"/><ellipse cx="461.7" cy="253.6" rx="1.9" ry="1.9" fill="#1eff1e"/><ellipse cx="235" cy="210.1" rx="2.4" ry="2.4" fill="#1eff1e"/><ellipse cx="272.9" cy="224.6" rx="3.2" ry="3.2" fill="#fff" stroke="#1eff1e" stroke-width="2.2"/></g></g>
</g>
<line x1="272.6" y1="19.8" x2="272.6" y2="293.5" stroke="#1a0300" stroke-width="1.2" opacity="0.6"/>
<line x1="272.6" y1="20.5" x2="272.6" y2="293.5" stroke="#fff" stroke-width="2" stroke-dasharray="16.6 15.6"/>
<g transform="translate(0,0)"><path d="M263.3 224.6L272.9 215L282.5 224.6L272.9 234.2Z" fill="none" stroke="#0a0ae6" stroke-width="2" stroke-linejoin="miter"/><path d="M358.7 218.8L368.3 209.2L377.9 218.8L368.3 228.4Z" fill="none" stroke="#0a0ae6" stroke-width="2" stroke-linejoin="miter"/><text x="244.2" y="214.8" font-size="12.8" fill="#fff" textLength="23.5" lengthAdjust="spacing">EE1</text></g>
<rect x="45.0" y="19.8" width="449.0" height="273.7" fill="none" stroke="#000" stroke-width="1.2"/>
<rect x="499.5" y="19.8" width="77.5" height="273.7" fill="#fff" stroke="none"/>
<g clip-path="url(#clipS)"><g transform="translate(0,0)"><g filter="url(#bSp)"><ellipse cx="537.6" cy="81.1" rx="5" ry="3" fill="#ff8a28" opacity="0.18"/><ellipse cx="537.6" cy="94.8" rx="11" ry="3.5" fill="#ff8a28" opacity="0.35"/><ellipse cx="537.6" cy="94.8" rx="4" ry="2.5" fill="#ff8a28" opacity="0.3"/><ellipse cx="537.8" cy="215" rx="4" ry="6" fill="#ff8a28" opacity="0.18"/><ellipse cx="537.8" cy="160" rx="2" ry="30" fill="#ff8a28" opacity="0.06"/><path d="M516 224.6Q535 218.2 553 224.6Q535 231 516 224.6Z" fill="#ff8a28" opacity="0.9"/></g><g filter="url(#bT)"><path d="M522 224.7Q535 220.9 547 224.7Q535 228.5 522 224.7Z" fill="#d63a00" opacity="1"/><path d="M524.5 224.8Q534.5 222.6 543.5 224.8Q534.5 227 524.5 224.8Z" fill="#3a0400" opacity="1"/></g><line x1="508" y1="224.8" x2="568" y2="224.8" stroke="#1a1aff" stroke-width="1.7" stroke-dasharray="3.6 7.6"/></g></g>
<line x1="537.8" y1="20.5" x2="537.8" y2="293.5" stroke="#0c0c0c" stroke-width="1.9" stroke-dasharray="16.6 15.6"/>
<rect x="499.5" y="19.8" width="77.5" height="273.7" fill="none" stroke="#111" stroke-width="1.5"/>
<line x1="500.5" y1="21.8" x2="500.5" y2="293.5" stroke="#111" stroke-width="1.4" stroke-dasharray="1 4.2"/>
<line x1="576.0" y1="21.8" x2="576.0" y2="293.5" stroke="#111" stroke-width="1.4" stroke-dasharray="1 4.2"/>
<line x1="543.8" y1="289.5" x2="543.8" y2="293.5" stroke="#111" stroke-width="1"/>
<text x="174.8" y="14.4" font-size="13.6" text-anchor="start" fill="#222" textLength="18.8" lengthAdjust="spacingAndGlyphs">SJI</text>
<text x="202.6" y="14.4" font-size="13.6" text-anchor="start" fill="#222" textLength="33" lengthAdjust="spacingAndGlyphs">1400</text>
<text x="242.8" y="14.4" font-size="13.6" text-anchor="start" fill="#222" textLength="8.8" lengthAdjust="spacingAndGlyphs">Å</text>
<text x="256.3" y="14.4" font-size="13.6" text-anchor="start" fill="#222" textLength="82.8" lengthAdjust="spacingAndGlyphs">00:33:33.46</text>
<text x="346.6" y="14.4" font-size="13.6" text-anchor="start" fill="#222" textLength="15.6" lengthAdjust="spacingAndGlyphs">UT</text>
<text x="41" y="88.6" font-size="11.3" text-anchor="end" fill="#222" textLength="20.8" lengthAdjust="spacing">600</text>
<line x1="45.0" y1="84.6" x2="49.0" y2="84.6" stroke="#000" stroke-width="1"/>
<text x="41" y="163.3" font-size="11.3" text-anchor="end" fill="#222" textLength="20.8" lengthAdjust="spacing">580</text>
<line x1="45.0" y1="159.3" x2="49.0" y2="159.3" stroke="#000" stroke-width="1"/>
<text x="41" y="238" font-size="11.3" text-anchor="end" fill="#222" textLength="20.8" lengthAdjust="spacing">560</text>
<line x1="45.0" y1="234" x2="49.0" y2="234" stroke="#000" stroke-width="1"/>
<text x="81.1" y="310.3" font-size="11.3" text-anchor="middle" fill="#222" textLength="20.8" lengthAdjust="spacing">280</text>
<line x1="81.1" y1="293.5" x2="81.1" y2="289.5" stroke="#000" stroke-width="1"/>
<text x="161.8" y="310.3" font-size="11.3" text-anchor="middle" fill="#222" textLength="20.8" lengthAdjust="spacing">300</text>
<line x1="161.8" y1="293.5" x2="161.8" y2="289.5" stroke="#000" stroke-width="1"/>
<text x="242.5" y="310.3" font-size="11.3" text-anchor="middle" fill="#222" textLength="20.8" lengthAdjust="spacing">320</text>
<line x1="242.5" y1="293.5" x2="242.5" y2="289.5" stroke="#000" stroke-width="1"/>
<text x="323.2" y="310.3" font-size="11.3" text-anchor="middle" fill="#222" textLength="20.8" lengthAdjust="spacing">340</text>
<line x1="323.2" y1="293.5" x2="323.2" y2="289.5" stroke="#000" stroke-width="1"/>
<text x="403.9" y="310.3" font-size="11.3" text-anchor="middle" fill="#222" textLength="20.8" lengthAdjust="spacing">360</text>
<line x1="403.9" y1="293.5" x2="403.9" y2="289.5" stroke="#000" stroke-width="1"/>
<text x="484.6" y="310.3" font-size="11.3" text-anchor="middle" fill="#222" textLength="20.8" lengthAdjust="spacing">380</text>
<line x1="484.6" y1="293.5" x2="484.6" y2="289.5" stroke="#000" stroke-width="1"/>
<text x="222" y="323.4" font-size="11" text-anchor="start" fill="#222" textLength="42.8" lengthAdjust="spacingAndGlyphs">Position</text>
<text x="270.9" y="323.4" font-size="11" text-anchor="start" fill="#222" textLength="45" lengthAdjust="spacingAndGlyphs">(arcsec)</text>
<g transform="translate(11.4,204) rotate(-90)"><text x="0" y="0" font-size="11" fill="#222" textLength="42" lengthAdjust="spacingAndGlyphs">Position</text><text x="49.3" y="0" font-size="11" fill="#222" textLength="45" lengthAdjust="spacingAndGlyphs">(arcsec)</text></g>
<text x="544.6" y="310.3" font-size="11.3" text-anchor="middle" fill="#222" textLength="27.6" lengthAdjust="spacing">1403</text>
<text x="498.4" y="323.4" font-size="11" text-anchor="start" fill="#222" textLength="58.3" lengthAdjust="spacingAndGlyphs">wavelength</text>
<text x="564.2" y="323.4" font-size="11" text-anchor="start" fill="#222" textLength="12.9" lengthAdjust="spacingAndGlyphs">(Å)</text>
<text x="51.2" y="284.4" font-size="15.5" text-anchor="start" fill="#fff" textLength="21.5" lengthAdjust="spacing">(a)</text>
</g>
<g transform="translate(665.5,0)">
<g clip-path="url(#clipI)">
<rect x="45.0" y="19.8" width="449.0" height="273.7" fill="url(#bg0)"/><rect x="45.0" y="19.8" width="449.0" height="273.7" filter="url(#tex)" opacity="0.25"/><rect x="45.0" y="19.8" width="449.0" height="273.7" filter="url(#tex2)" opacity="0.6"/><g transform="rotate(22 270 156)"><rect x="-40" y="-120" width="640" height="560" filter="url(#fib)" opacity="0.12"/></g><g transform="rotate(-24 270 156)"><rect x="-40" y="-120" width="640" height="560" filter="url(#fib2)" opacity="0.1"/></g><g><ellipse cx="60" cy="290" rx="135" ry="39" fill="url(#rg0c0000)" opacity="0.6"/><ellipse cx="270" cy="296" rx="390" ry="18" fill="url(#rg0c0000)" opacity="0.5"/></g>
<g transform="translate(-665.5,0)"><g><ellipse cx="940" cy="30" rx="450" ry="54" fill="url(#rg160000)" opacity="0.9"/><ellipse cx="775" cy="215" rx="112.5" ry="82.5" fill="url(#rg160000)" opacity="0.55"/><ellipse cx="830" cy="275" rx="240" ry="39" fill="url(#rg160000)" opacity="0.5"/><ellipse cx="1080" cy="282" rx="150" ry="24" fill="url(#rg160000)" opacity="0.4"/><ellipse cx="725" cy="110" rx="45" ry="90" fill="url(#rg160000)" opacity="0.3"/><ellipse cx="900" cy="92" rx="90" ry="30" fill="url(#rga01200)" opacity="0.31"/><ellipse cx="840" cy="135" rx="75" ry="45" fill="url(#rga01200)" opacity="0.17"/><ellipse cx="1080" cy="130" rx="105" ry="60" fill="url(#rga01200)" opacity="0.17"/><ellipse cx="930" cy="215" rx="75" ry="45" fill="url(#rga01200)" opacity="0.17"/><ellipse cx="1050" cy="220" rx="135" ry="60" fill="url(#rga01200)" opacity="0.11"/><ellipse cx="760" cy="110" rx="60" ry="60" fill="url(#rga01200)" opacity="0.08"/></g>
<g filter="url(#bM)"><ellipse cx="1022" cy="97" rx="24" ry="14" fill="#160000" opacity="0.6"/><ellipse cx="852" cy="53" rx="60" ry="10" fill="#160000" opacity="0.35"/><ellipse cx="895" cy="92" rx="34" ry="9" fill="#b41c00" opacity="0.45"/><ellipse cx="935" cy="89" rx="12" ry="6" fill="#b41c00" opacity="0.35"/><ellipse cx="1095" cy="104" rx="14" ry="5" fill="#b41c00" opacity="0.35"/><ellipse cx="925" cy="222" rx="22" ry="14" fill="#b41c00" opacity="0.32"/><ellipse cx="845" cy="132" rx="8" ry="12" fill="#b41c00" opacity="0.32"/><path d="M908.7 231.5C909.8 231.2 912.8 230.2 915 230C917.2 229.8 920.6 230.3 921.7 230.4" fill="none" stroke="#b83208" stroke-width="9.6" stroke-linecap="round" stroke-linejoin="round" opacity="0.7"/></g>
<g filter="url(#bF)"><path d="M898.5 89Q917 93.8 934.9 100.3M897.3 102.3Q914 96.7 931.4 99.6M868 91.8Q883.1 90.7 898.1 88.2M883.9 93.7Q906.1 95.2 928.4 96.3M840.4 86.5Q857.5 85.1 874 89.6M856.7 95.6Q884.8 105.8 910.8 90.9M881.8 94.8Q899.3 93.1 916.8 94.3M871.6 98.4Q884.5 101.3 897.5 99.5M833.2 98.5Q854 102.4 875.1 103.2M887.3 108.6Q902.3 100.9 918.5 105.9M889.4 85.3Q909.7 98.2 933.6 96.3M815.5 98.4Q841.4 107.7 867.7 99.3" fill="none" stroke="#d04818" stroke-width="1.5" stroke-linecap="round" opacity="0.36"/><path d="M826.7 98.2Q850.3 105.8 873 95.6M848.5 96.7Q858 103.4 869.6 103.4M872.9 103.8Q888.5 109.4 904.2 103.7M886.7 81.3Q912.7 78 935.1 91.7M826.7 82Q850 104.5 882.1 99.4M883.9 91.9Q910.9 104 938.9 94.1M913.2 75.9Q938.5 89.6 967.2 91.9M864.4 94.2Q887.4 103.9 910.3 94M866.6 75.8Q888.7 80.6 908.1 92.4M881.7 72.4Q911.9 68.4 940 80.1M858.5 91.2Q875.6 93.5 891.8 87.8M834.5 82.1Q854.1 86.3 873.8 83.1" fill="none" stroke="#d04818" stroke-width="2" stroke-linecap="round" opacity="0.45"/><path d="M876.4 83.6Q896.6 76.4 916.5 84.6M891.6 80.1Q919.3 86.5 947.3 91.4M870.3 87.9Q896.1 77.4 922.6 86.3M871.4 106.2Q890.1 97.1 910.6 100.8M885.5 99.2Q899.7 105 914.9 102.4M835.6 84.9Q863.7 92.5 892.8 94.4M895 82.1Q908.5 83.9 922 85.4M844.6 90.2Q864.7 103.2 888.1 98M915.7 88Q927.8 92.7 940.8 94.3M890.7 91.8Q908 101.1 927.5 98.9M867.8 88.2Q886.5 94.2 906.2 93.1M887.2 102.5Q916.1 109.7 945.7 105.8" fill="none" stroke="#d04818" stroke-width="3" stroke-linecap="round" opacity="0.29"/><path d="M843.2 101.1Q855.4 103.1 867.2 99.8M853.8 77.1Q876.2 78.1 893.6 92.1M918.9 80.9Q936.4 85.2 952.5 93.1M897.1 80.5Q914.2 83.1 929.6 91.3M911.3 89Q932.1 103.3 957.4 103.9M851.1 91Q871.8 105.8 897.1 104M896.5 96.5Q908.3 100.5 919.5 94.9" fill="none" stroke="#ec7446" stroke-width="1.5" stroke-linecap="round" opacity="0.56"/><path d="M863.7 123.2Q864.6 133.2 870.2 141.5M823.7 137.8Q835 152.6 851.4 161.2M842.3 137.4Q846.2 150.1 850.5 162.7M814.7 115Q828.1 125.1 835.1 140.3M829.9 114.2Q827.3 139 844 157.4M815.3 140.1Q813.5 159.5 824.7 175.6M814.8 131.1Q824.6 142.5 826.9 157.3M836.7 108.6Q850.2 126 848.7 147.9" fill="none" stroke="#d04818" stroke-width="1.5" stroke-linecap="round" opacity="0.28"/><path d="M832.3 129.7Q844.5 137.2 850.4 150.2M819.6 128.6Q842.6 138.5 851.2 162M835.6 124.6Q834 136.1 841.1 145.3M827.2 120.9Q833.6 143.9 851.8 159.4M795.4 103.6Q806.5 126.6 826.8 142M843.3 122.9Q852 143 855.3 164.7M817.8 154.9Q822.7 166.9 833.9 173.3M841.4 137.2Q841 156.7 851.7 173" fill="none" stroke="#d04818" stroke-width="2" stroke-linecap="round" opacity="0.35"/><path d="M779.7 123.7Q784.8 148.6 803.4 165.8M802.6 129.8Q814.3 147.6 833.6 157M831.2 115.3Q857.2 124.7 865.5 151M802.7 128.7Q824 143 828.3 168.3M824.7 125.4Q829.7 135 830.4 145.8M785.3 115.1Q797.5 134.8 814.9 150.2M821.8 114.8Q821.7 134.7 832.6 151.3M839.4 120.1Q852.9 132.5 858.1 150" fill="none" stroke="#d04818" stroke-width="3" stroke-linecap="round" opacity="0.23"/><path d="M784.5 151.6Q791.7 173.6 808.9 189.1M861.1 130.6Q872.9 143.7 875 161.3M821 129.5Q822.6 143.1 832.8 152.2M803.7 110.9Q813.5 124.8 827.3 134.6M821 130.7Q822.8 152.7 837.2 169.4" fill="none" stroke="#ec7446" stroke-width="1.5" stroke-linecap="round" opacity="0.44"/><path d="M771.6 108.8Q790.2 111.1 805.2 122.4M777.8 128.7Q791.6 140.4 808.8 146.3M767.4 131.2Q777.8 140.8 792 141.2M806.6 114.8Q817.2 122.2 827.7 129.5M747.3 105.7Q761.4 126.5 786.2 130.7M788.6 131.2Q812 130.4 830.5 144.7M771.1 118Q789 132.2 809.4 142.4" fill="none" stroke="#d04818" stroke-width="1.5" stroke-linecap="round" opacity="0.26"/><path d="M784.7 117.1Q801.1 124.9 806.8 142M779.2 124.4Q793 129.8 806.9 134.6M797.9 118.1Q819 122.5 833.1 138.9M782.4 115.8Q790 129.1 804 135.4M763.9 106.4Q773.1 114.5 783.5 121.1M760.8 127.9Q777.8 136 787.4 152.2M768.2 126.7Q783.8 131.2 797.8 139.2" fill="none" stroke="#d04818" stroke-width="2" stroke-linecap="round" opacity="0.33"/><path d="M765.3 109.4Q789.2 107.7 806.7 124M789.5 99Q808.3 109.1 820.1 127M773.2 99.1Q780.5 110.9 794.3 112.3M804.1 133.4Q809 142.9 818.6 147.6M774.4 119.3Q786.9 129.8 799 140.7M736.1 124.7Q745.1 128.6 749.5 137.3M774.6 113.7Q785.8 124 797.7 133.3" fill="none" stroke="#d04818" stroke-width="3" stroke-linecap="round" opacity="0.21"/><path d="M752.6 132.6Q763.8 151.9 785.9 154.8M795.3 136Q806.4 139.3 812.9 148.8M758.8 104.2Q777.6 114.2 791 130.7M767.2 96.4Q779.1 109.5 795.8 115.1" fill="none" stroke="#ec7446" stroke-width="1.5" stroke-linecap="round" opacity="0.41"/><path d="M895.5 172.1Q916 176.4 933.7 187.6M882.6 183.7Q905.3 185.5 925 196.7M893.7 139.7Q915.8 157.9 941.8 170M862.6 174Q877.1 181.4 893.1 184.5M898.7 199.6Q911.1 204.1 923.1 209.7M922.9 181.2Q930.9 196.1 947.6 198.8M853.5 186.2Q885.4 183.4 908 206M858.6 178.5Q886.3 181.2 904 202.7M907.7 172.6Q920.3 186.5 938.7 189.7M885.1 181.1Q895.2 188.5 907.7 188.7" fill="none" stroke="#d04818" stroke-width="1.5" stroke-linecap="round" opacity="0.29"/><path d="M876.8 169.8Q888.2 178.1 900.1 185.7M894.6 166.7Q909.9 170.4 921.6 181M889.9 193Q903.9 202.3 919.7 208M864.9 173.8Q885.9 194.3 913.2 205.4M905.8 174.5Q924 202.6 957 208.2M872.8 168.3Q895.4 166.9 916 176.2M892.9 178.8Q913.4 184.7 934 190.4M919.9 167.2Q936.8 177.7 953.7 188.2M917.2 181.4Q932 185.5 946.5 191M887.4 157.5Q909.2 171.2 930.8 185.3" fill="none" stroke="#d04818" stroke-width="2" stroke-linecap="round" opacity="0.36"/><path d="M844.5 149.8Q861.4 158.2 875.7 170.5M885.6 182.8Q898.1 188.9 912 189.6M899.3 172.6Q927 170.6 947.1 189.7M908 149.3Q925.9 159 940 173.6M878.8 180.8Q893 194.2 912.6 195M827 168.7Q853.1 182.7 881.8 189.9M909.5 187Q927.9 183.7 943 194.6M841.2 182.7Q868 198.8 899.1 202.4M869.1 190.4Q891.4 205.8 918.4 203.3M824.8 188.4Q847.3 193.1 870.1 196.6" fill="none" stroke="#d04818" stroke-width="3" stroke-linecap="round" opacity="0.23"/><path d="M910.9 180.8Q938 186.4 960.6 202.3M891.8 170.8Q907.2 175.2 915.8 188.8M912.4 161.4Q923.4 174.4 940.4 173.9M877.9 188.9Q893.8 211.5 920.5 218.6M833.5 167.3Q862.2 176.7 887.7 192.9" fill="none" stroke="#ec7446" stroke-width="1.5" stroke-linecap="round" opacity="0.45"/><path d="M949.6 142.4Q962.5 137 966.7 123.6M992.1 135.4Q1006.7 129.9 1021.3 124.5M963.2 142.5Q977.7 136.7 985.8 123.2M981.7 160.2Q993.3 148.2 996.1 131.7M965.7 141.8Q970.6 130.8 975.5 119.8M1008 174Q1013.8 162.7 1024.9 156.4M1031.2 128.3Q1041 113.3 1058.4 108.7" fill="none" stroke="#d04818" stroke-width="1.5" stroke-linecap="round" opacity="0.22"/><path d="M993.4 141.7Q1018.8 138.2 1033.1 116.9M1009.6 154.9Q1017.9 136.4 1024.2 117.1M980.8 137.1Q1002 141.3 1018.7 127.6M993.8 155.8Q999.6 141.9 1008.8 130M971 159.5Q988.3 146 1002.7 129.3M981.5 129.1Q999 116.6 1020.4 118.2M1003.8 110.5Q1012.4 105.8 1021.3 101.6" fill="none" stroke="#d04818" stroke-width="2" stroke-linecap="round" opacity="0.28"/><path d="M994.4 143.8Q1007.1 127.9 1018.8 111.3M960.2 123.7Q973.4 106.5 988.1 90.7M984.9 121.7Q1005.1 125.9 1022 114.1M977.1 133.1Q985.6 122.6 996.6 114.6M942.2 139.2Q950.2 132 960.9 132.7M949.5 149.3Q961.1 138.9 976.5 140M1029.7 141.8Q1039.5 138.8 1049.2 135.6" fill="none" stroke="#d04818" stroke-width="3" stroke-linecap="round" opacity="0.18"/><path d="M1035.7 145.1Q1052.9 145.9 1066.3 135.1M984.8 126.8Q994.4 113.9 1001 99.2M996.2 132.5Q1001.2 124.8 1010.1 122.5M1011.8 125.9Q1020.4 120.2 1030.5 121.6" fill="none" stroke="#ec7446" stroke-width="1.5" stroke-linecap="round" opacity="0.35"/><path d="M1063.1 89.8Q1065.7 115.1 1080.3 135.9M1079.2 110.8Q1088.3 120.7 1099.8 127.6M1062.6 114.1Q1074.8 119 1081.4 130.2M1098.1 90.2Q1108.8 100.7 1119.8 110.8M1080.5 126.8Q1082.2 136.5 1087.8 144.7M1091.9 93Q1095.6 110.1 1106.7 123.5M1078.2 88.2Q1078.7 112.5 1095 130.6M1062 121Q1077.9 134.9 1090.4 151.9M1108.8 123.5Q1118.4 125.9 1123.5 134.4M1070.3 116.6Q1072.4 132.5 1082.6 144.9" fill="none" stroke="#d04818" stroke-width="1.5" stroke-linecap="round" opacity="0.27"/><path d="M1046.7 97.4Q1060.8 113.4 1062.8 134.6M1074.6 126Q1088.4 134.7 1090.3 150.8M1075.4 147.9Q1086.2 152.1 1089.3 163.3M1074.9 129.5Q1087.3 142.9 1088.2 161.2M1115.6 73.6Q1122.6 97.3 1136.9 117.5M1115.6 125Q1117.4 135.4 1123.6 143.9M1066.1 92.3Q1067.2 111.2 1077.5 127.1M1077.5 130.5Q1083.5 150.5 1094.5 168.3M1094.8 83.6Q1101.3 91.3 1100.6 101.3M1062 91.5Q1077.7 100.6 1081.9 118.2" fill="none" stroke="#d04818" stroke-width="2" stroke-linecap="round" opacity="0.34"/><path d="M1061.9 115.7Q1069.6 134.9 1086.3 147.1M1090.7 121.6Q1100.7 138 1116.5 149M1080.2 121.7Q1096.5 138.5 1099.3 161.8M1107.4 121Q1114.3 134.5 1117.8 149.2M1056.2 75.6Q1078 83.3 1090.3 103M1111.1 122.4Q1124.3 134.1 1138.3 144.8M1040.8 104.8Q1049.5 111 1050.6 121.7M1081.5 121.1Q1086.2 129.7 1095.2 133.8M1063.8 114.8Q1082 128.5 1096.3 146.2M1074.7 115.4Q1086.9 130.1 1105.5 134.5" fill="none" stroke="#d04818" stroke-width="3" stroke-linecap="round" opacity="0.22"/><path d="M1075.3 117.9Q1079.7 143.4 1101.2 157.9M1085.9 118.8Q1094 128.5 1104.9 134.6M1094.3 113.6Q1097.8 126.2 1104.5 137.5M1061.2 140.9Q1073.4 149.8 1086.3 157.5M1089.5 103.6Q1098.6 110 1106.2 118M1074.6 119Q1081.9 136.4 1099.3 144" fill="none" stroke="#ec7446" stroke-width="1.5" stroke-linecap="round" opacity="0.43"/><path d="M1078.3 221.3Q1108.8 221.8 1138 213.1M1056 222.1Q1077.5 218.8 1096.5 229.1M1106.6 222.8Q1127.2 217 1148.1 212.2M950.4 186.8Q971.5 201.5 995.6 210.4M1011.2 212.6Q1039.5 216.5 1058.1 238.3M988.6 200.3Q1011.7 212.5 1035.8 222.6M967.9 214.2Q991.9 224.7 1016 235.2M1014.1 219.7Q1026.8 227.5 1038.7 236.6M1053.5 204.7Q1077.5 205.7 1093.7 223.5M1030.2 214.5Q1048.6 225.8 1069.1 232.5M1050 216.3Q1067.2 206.2 1087 208.2" fill="none" stroke="#d04818" stroke-width="1.5" stroke-linecap="round" opacity="0.24"/><path d="M1042.5 223.5Q1061.5 222.7 1079.7 217.3M1071.9 220.5Q1084.3 221.8 1096.7 219.7M1063.8 201.5Q1076 203.1 1086.7 209.3M1034.2 213.7Q1056.3 207.8 1078.2 214.3M991.6 225.1Q1019.2 222.9 1046.5 227M1050.3 227Q1068 235.7 1086.9 230M1100.8 212Q1119.1 208.9 1132.7 221.5M1057.6 218.4Q1075.5 224.3 1086 239.9M1028.6 236.3Q1046.1 230.5 1064 235.1M1015.7 211.9Q1043.4 205.7 1069.4 217.4M1077 236.5Q1087.8 242.4 1100 240.7" fill="none" stroke="#d04818" stroke-width="2" stroke-linecap="round" opacity="0.30"/><path d="M1069.1 226.9Q1082.9 223.7 1096.3 228.2M1056.7 209.8Q1087.5 215.7 1116.6 203.7M1060.9 242.2Q1080.6 267 1112.2 267.9M1035.6 211.9Q1053.2 214.1 1069.8 220M1032.4 216.7Q1048.2 218 1063.5 222.2M1107.2 213.2Q1120.3 213.3 1131.3 220.3M1049.2 210Q1061 206 1073.1 209.6M1069.7 225.3Q1087.3 234.5 1107.2 235.3M1001.6 228.1Q1031.2 222.9 1054.4 241.8M1017 195.6Q1037.9 198.3 1053 212.9M1055.3 245.4Q1070.2 250.9 1083.9 243" fill="none" stroke="#d04818" stroke-width="3" stroke-linecap="round" opacity="0.20"/><path d="M1046.3 212.6Q1062 221.6 1079.4 226.4M1052.1 214.3Q1076.7 202.9 1103.3 208.5M1108.1 210.5Q1130.5 205 1151.4 215M1001.1 237Q1024.1 237 1046 230.1M1100.6 207.5Q1110.6 216.6 1123.9 219.6" fill="none" stroke="#ec7446" stroke-width="1.5" stroke-linecap="round" opacity="0.38"/><path d="M921.4 201Q925.8 218 942 225M925.6 229.6Q928.3 237 933.8 242.6M915.6 189.6Q927.3 202.3 929.4 219.5M935.9 212Q951.7 220.9 960.2 236.9M911.8 225.1Q922.9 233.7 936.9 233.5M914.6 199Q923.5 211.1 937.2 217.2M921.3 208Q923.7 214.7 929.3 219" fill="none" stroke="#d04818" stroke-width="1.5" stroke-linecap="round" opacity="0.34"/><path d="M923.4 215.6Q930.7 226.3 941.3 233.7M920.3 212.8Q935.6 223.3 954.1 223.3M916.5 223.2Q924.3 227.7 931.2 233.5M904.5 208.1Q910.6 212.2 917.8 214.4M911.1 208.4Q923.5 213.4 932.1 223.9M929.6 205.5Q934.9 221.6 938.5 238.2M913.3 218.7Q925 226.7 939.3 227" fill="none" stroke="#d04818" stroke-width="2" stroke-linecap="round" opacity="0.42"/><path d="M917.9 217.6Q928.1 218.2 935.6 225.1M938 203.5Q938.9 211.5 942.4 218.8M918.5 228.8Q925.6 232.1 932.7 235.5M922 206.4Q926.6 214.1 931.1 221.8M900.3 215.6Q909.8 222.8 916.5 232.7M923.3 209.4Q938.1 218.2 944 234.4M912 227.2Q916.9 234.4 919 242.8" fill="none" stroke="#d04818" stroke-width="3" stroke-linecap="round" opacity="0.27"/><path d="M929.1 208.7Q947.9 208.3 961 221.7M919.4 204.2Q936 208.6 946.4 222.2M909.5 236.4Q915 241.6 919.3 247.8" fill="none" stroke="#ec7446" stroke-width="1.5" stroke-linecap="round" opacity="0.53"/><path d="M1122.9 137.9Q1138.1 151.9 1144.2 171.5M1116.5 180.7Q1123.4 191.2 1134.4 197.2M1094.5 180.7Q1100.6 193 1111.8 200.9M1104.7 192.9Q1104.5 203.1 1107.5 212.9M1108.2 153.7Q1112.7 169.7 1113.1 186.2" fill="none" stroke="#d04818" stroke-width="1.5" stroke-linecap="round" opacity="0.24"/><path d="M1124.2 178.9Q1126.1 187.4 1129.3 195.5M1123.6 167.2Q1131 176.8 1142.4 181M1120.8 187.1Q1128.2 205.2 1129.7 224.6M1115.9 156.6Q1123.2 168.3 1123.2 182.2M1099.5 155.9Q1108.2 174.5 1126.8 183.3" fill="none" stroke="#d04818" stroke-width="2" stroke-linecap="round" opacity="0.30"/><path d="M1130.5 153.4Q1127.6 169.2 1138.5 181.1M1108.1 172.3Q1118.4 190.2 1128.1 208.5M1111.2 183.6Q1127 196.5 1136.9 214.1M1122.5 186.7Q1121.1 199.6 1125 212M1097.1 194.7Q1103.6 201.6 1109.1 209.3" fill="none" stroke="#d04818" stroke-width="3" stroke-linecap="round" opacity="0.20"/><path d="M1103.5 161.4Q1108.7 180 1125.9 188.9M1092.7 171Q1103.4 185.7 1109.7 202.7M1130.7 165.5Q1134 178.4 1145.8 184.7" fill="none" stroke="#ec7446" stroke-width="1.5" stroke-linecap="round" opacity="0.38"/><path d="M754 145.7Q755.4 145.5 756.7 145.9M771.5 156.5Q771.9 157.3 772.5 158M723.1 98.1Q723.6 98.2 724.1 98.4M775.4 135.1Q775.9 134.4 776.5 133.8M753.9 104.5Q754.2 105.8 754.4 107.1M776.1 109.1Q776.9 109.1 777.7 108.7M732.8 118.5Q733.5 117.8 734 116.9M769.2 131.6Q769.9 131.4 770.5 131.7M775 117.5Q775.4 116.6 776.2 116M755 99.9Q756 100.6 757.1 100.7M742.4 146.2Q742.2 147.6 742.3 148.9M745.2 138.1Q746 139.1 746.4 140.4" fill="none" stroke="#d04818" stroke-width="3" stroke-linecap="round" opacity="0.14"/><path d="M767.4 142.3Q768.7 142.5 769.4 143.7M764.4 141Q764.8 142 765.7 142.4M751.3 133.7Q752.4 134.2 753.7 133.9M746.3 113.7Q747.1 113.7 747.8 113.9M781.5 136.8Q782.3 136.9 783.1 137.2M773.8 97.2Q774.2 95.8 775.3 95M742.7 134.3Q743.3 135.3 744.3 135.7M769.7 137.7Q769.8 138.5 770.3 139M764.6 99Q765.3 98.6 766 98.2M758.9 116.1Q760 116.5 760.7 117.3M736.4 89.5Q737.4 88.5 738.7 88.1M751.2 112Q751.9 112.6 752.8 112.8" fill="none" stroke="#d04818" stroke-width="3.9" stroke-linecap="round" opacity="0.18"/><path d="M777.5 123.9Q777.2 124.9 777 126M750.1 153.2Q750.8 152.2 752 151.7M803.8 144Q805.2 144.2 806.4 143.6M740.6 130.8Q741.2 131.7 741.6 132.6M753.5 123.3Q754.5 123.8 755.1 124.6M748.5 84.4Q749 84.6 749.6 84.8M734.9 95Q735.5 95.9 736.5 96.1M785.6 113.5Q786.6 114.4 788 114.7M797.5 113.3Q798.1 113.7 798.8 113.5M778.4 147.9Q778.4 148.7 779 149.3M774.9 120.3Q775.9 120.8 777.1 120.8M788 124.1Q788.8 124.4 789.5 124.1" fill="none" stroke="#d04818" stroke-width="6" stroke-linecap="round" opacity="0.12"/><path d="M767.3 136.7Q768.5 137.3 768.9 138.6M743.8 104Q744.8 103.3 745 102.1M746.1 91.9Q746.7 90.9 747.5 90M740.4 84.5Q741.4 84.9 742 85.8M767.8 110Q768.4 110.2 769.1 110.2M785.2 106.3Q784.6 107 784.6 107.8M747.8 111.4Q748.3 112.6 748.6 113.8" fill="none" stroke="#ec7446" stroke-width="3" stroke-linecap="round" opacity="0.22"/><path d="M1032.7 61.9Q1033.2 62 1033.6 61.7M1039.5 65.3Q1039.9 66 1039.8 66.7M990.6 73.9Q991.1 73.6 991.6 73.8M1008.3 76.7Q1008.4 76.1 1008.7 75.6M1061.1 69.7Q1061.7 70.3 1062.3 71M1067.1 59.2Q1067.7 59.5 1067.8 60.2M1088 76.5Q1088.7 75.8 1089.3 75M1099.2 70.9Q1099.6 71.4 1099.6 72M1093.8 60Q1094.5 60.3 1095.2 60.4M1050.1 73Q1050.7 73.1 1051.1 73.4M1029.8 61.1Q1029.8 60.2 1029.9 59.4M1032.6 74Q1032.8 73.2 1033.1 72.5M1068.1 70.5Q1068.6 70.6 1069 70.9M1029.4 73.1Q1029.8 73.1 1030.2 73.2M1001.3 67.3Q1001.9 66.6 1002.9 66.6" fill="none" stroke="#d04818" stroke-width="2.8" stroke-linecap="round" opacity="0.17"/><path d="M1041.5 81Q1042.6 80.9 1043.4 81.6M1090.1 77.4Q1090.7 76.9 1090.9 76.2M1052.7 68.9Q1052.8 68.4 1053.1 68.1M1028 78.8Q1028.7 78.3 1029.5 77.7M1021.8 67.4Q1021.7 68.3 1022 69.1M1070.3 66.1Q1071.3 66.5 1072.3 65.9M1107.4 74Q1108.2 74.4 1108.7 75.1M1049 78.6Q1049.6 78.1 1050.4 78M1079.6 82.8Q1080.2 82.2 1080.7 81.4M1099.3 70.7Q1100.1 70.5 1100.5 69.9M1090.5 64.5Q1090.5 65.1 1090.7 65.6M1072.1 70.9Q1072.6 71.2 1073.2 71M1047.1 77.4Q1047.3 76.7 1047.9 76.4M1056.4 70.1Q1056.8 71.1 1056.9 72.2M1071.6 64.2Q1072 64.6 1072.2 65.1" fill="none" stroke="#d04818" stroke-width="3.6" stroke-linecap="round" opacity="0.21"/><path d="M1080.2 72.9Q1080.9 73.3 1081.5 73.7M1020.1 80.7Q1020.4 81.3 1020.8 81.7M1021.5 83.8Q1021.7 84.4 1021.9 84.9M1036.4 58.9Q1037.1 58.2 1037.4 57.4M1018.6 68.1Q1018.7 68.8 1018.9 69.5M1024 67.7Q1023.9 68.4 1024.2 68.9M1074.1 70.5Q1074.3 71.3 1074.8 72M1026.4 60.7Q1026.8 59.9 1027 59M1089.2 73.8Q1089.6 74.1 1090.1 74.3M1051.2 77.6Q1051.3 78.7 1052.2 79.2M1042.5 68.9Q1042.7 68.1 1043.2 67.6M1064.8 63.7Q1065.6 64.2 1066.5 64.1M1089.4 70.7Q1089.7 71.4 1090 72.1M993.3 78.8Q993.5 79.3 993.7 79.8M1052.4 77.6Q1052.4 76.7 1052.6 75.8" fill="none" stroke="#d04818" stroke-width="5.6" stroke-linecap="round" opacity="0.14"/><path d="M1050.1 72.6Q1050.9 72.9 1051.7 72.4M1045.7 70.3Q1045.8 70.7 1045.8 71.2M1093 71.5Q1093.2 70.5 1093.2 69.5M1073.5 85.3Q1074 86 1074.5 86.7M1072.4 77.8Q1072.6 77.3 1072.8 76.9M1009.8 75.9Q1010.3 76.2 1010.8 76.6M1044.4 67.1Q1044.4 67.7 1044.8 68.1" fill="none" stroke="#ec7446" stroke-width="2.8" stroke-linecap="round" opacity="0.26"/><path d="M875.1 264.7Q877.8 278.8 889.7 286.9M923.4 239.9Q933.3 252.7 936.7 268.5M864.1 251.5Q866.9 260.2 864 268.9M903.6 221.6Q904 234.4 897.3 245.3M925.3 238.3Q927.9 252 936.5 263.2M959.6 249.3Q967.8 259.9 972.8 272.3M837.6 243.5Q842 261.3 852.6 276.2" fill="none" stroke="#d04818" stroke-width="2" stroke-linecap="round" opacity="0.10"/><path d="M885.3 259.6Q894.4 274.5 902.8 289.6M894.1 260.5Q893.3 268.5 899 274.2M895.2 272.9Q901.5 282.1 905.1 292.6M887.8 247.5Q883 257.6 884.4 268.7M901.4 238.8Q906 250.7 913.1 261.3M951 258.5Q949.9 266.2 952 273.7M815.3 258.8Q817.7 265.9 820 273.1" fill="none" stroke="#d04818" stroke-width="2.6" stroke-linecap="round" opacity="0.13"/><path d="M923.5 244.8Q924.4 252.8 921.3 260.2M848.6 250.2Q854.9 256.1 856.8 264.6M944.7 237.2Q956 247.2 958.3 262.2M906.4 238Q905.8 248.5 906.6 258.9M868.6 267.9Q872.6 277.3 879.3 284.9M879.6 238.1Q879.7 253.9 873.2 268.4M922.6 245.3Q931 257.8 937.6 271.3" fill="none" stroke="#d04818" stroke-width="4" stroke-linecap="round" opacity="0.08"/><path d="M882.8 239.7Q880.6 257.5 893.3 270M809.7 237.5Q818.6 251.9 824.3 267.8M929.4 268Q933.1 277.7 931 287.9M854.7 245.7Q857 260.8 863.9 274.3" fill="none" stroke="#ec7446" stroke-width="2" stroke-linecap="round" opacity="0.16"/></g>
<g filter="url(#bS)"><path d="M792.5 127.5L794.5 130.5" fill="none" stroke="#c84010" stroke-width="4.4" stroke-linecap="round" stroke-linejoin="round" opacity="0.65"/><path d="M781 138.8L784 141.8" fill="none" stroke="#c84010" stroke-width="4.2" stroke-linecap="round" stroke-linejoin="round" opacity="0.65"/><path d="M765 132C766.7 132.8 771.2 135 775 137C778.8 139 785.8 142.8 788 144" fill="none" stroke="#d04c1c" stroke-width="2.5" stroke-linecap="round" stroke-linejoin="round" opacity="0.6"/><path d="M845.7 140.4C846.8 141.8 849.8 146.1 852 149C854.2 151.9 857.6 156.3 858.7 157.8" fill="none" stroke="#c84010" stroke-width="4.3" stroke-linecap="round" stroke-linejoin="round" opacity="0.65"/><path d="M908.7 231.5C909.8 231.2 912.8 230.2 915 230C917.2 229.8 920.6 230.3 921.7 230.4" fill="none" stroke="#ff8a5a" stroke-width="4.6" stroke-linecap="round" stroke-linejoin="round" opacity="0.9"/><path d="M897 212.2L902 211" fill="none" stroke="#c84010" stroke-width="4.4" stroke-linecap="round" stroke-linejoin="round" opacity="0.65"/><path d="M858.7 196.7C860.6 197.2 866.4 198.4 870 200C873.6 201.6 878.7 205.4 880.4 206.5" fill="none" stroke="#d04c1c" stroke-width="2.7" stroke-linecap="round" stroke-linejoin="round" opacity="0.6"/><path d="M865.2 165.2C866.8 165.8 871.7 167.2 875 169C878.3 170.8 883.2 174.8 884.8 176" fill="none" stroke="#d04c1c" stroke-width="2.7" stroke-linecap="round" stroke-linejoin="round" opacity="0.6"/><path d="M885 167C889.2 167.7 901.7 169.5 910 171C918.3 172.5 930.8 175.2 935 176" fill="none" stroke="#d04c1c" stroke-width="2.7" stroke-linecap="round" stroke-linejoin="round" opacity="0.6"/><path d="M985.9 86C986.2 85.3 987.5 83.2 988 82C988.5 80.8 988.8 79.1 989 78.5" fill="none" stroke="#c84010" stroke-width="4.8" stroke-linecap="round" stroke-linejoin="round" opacity="0.65"/><path d="M1086 104C1087.5 103.8 1091.8 103.2 1095 103C1098.2 102.8 1103.3 102.6 1105 102.5" fill="none" stroke="#d04c1c" stroke-width="3.5" stroke-linecap="round" stroke-linejoin="round" opacity="0.6"/><path d="M1120.5 129.5L1125 136" fill="none" stroke="#c84010" stroke-width="4.4" stroke-linecap="round" stroke-linejoin="round" opacity="0.65"/><path d="M1073 145L1078 153" fill="none" stroke="#c84010" stroke-width="4.4" stroke-linecap="round" stroke-linejoin="round" opacity="0.65"/><path d="M1027 221C1027.7 220.7 1029.8 219.6 1031 219C1032.2 218.4 1033.5 217.8 1034 217.5" fill="none" stroke="#c84010" stroke-width="4.4" stroke-linecap="round" stroke-linejoin="round" opacity="0.65"/><path d="M800 95C805 95.8 820 98.5 830 100C840 101.5 855 103.3 860 104" fill="none" stroke="#d04c1c" stroke-width="2.5" stroke-linecap="round" stroke-linejoin="round" opacity="0.6"/><path d="M880 100C876.7 103 865.3 113.3 860 118C854.7 122.7 850 126.3 848 128" fill="none" stroke="#d04c1c" stroke-width="2.5" stroke-linecap="round" stroke-linejoin="round" opacity="0.6"/><path d="M925 96C929.2 95.3 941.7 92.3 950 92C958.3 91.7 970.8 93.7 975 94" fill="none" stroke="#d04c1c" stroke-width="2.7" stroke-linecap="round" stroke-linejoin="round" opacity="0.6"/><path d="M1000 160C1006.7 158.3 1026.7 149.2 1040 150C1053.3 150.8 1073.3 162.5 1080 165" fill="none" stroke="#d04c1c" stroke-width="2.5" stroke-linecap="round" stroke-linejoin="round" opacity="0.6"/><path d="M1090 230C1093.3 231.7 1104.2 235.3 1110 240C1115.8 244.7 1122.5 255 1125 258" fill="none" stroke="#d04c1c" stroke-width="2.5" stroke-linecap="round" stroke-linejoin="round" opacity="0.6"/><ellipse cx="789.1" cy="90.4" rx="5.4" ry="5.4" fill="#d8541e" opacity="0.75"/><path d="M866.3 82.8C866.7 81.5 871.2 80.8 873.9 81.3C876.6 81.8 880.1 84.6 882.6 86.1C885.1 87.6 887.3 89.5 889.1 90.4C890.9 91.3 893.9 91 893.5 91.5C893.1 92 889.2 92.8 887 93.7C884.8 94.6 882.6 96.3 880.4 97C878.2 97.7 874.6 98.7 873.9 98C873.2 97.3 876.5 94 876.1 92.6C875.7 91.1 873.3 90.9 871.7 89.3C870.1 87.7 865.9 84.1 866.3 82.8Z" fill="#ff8a5a" stroke="#d04a18" stroke-width="5" stroke-linejoin="round" opacity="0.8"/><path d="M904.3 98.7C905.4 97.8 913.9 97.5 917.4 97C920.9 96.5 924.6 95.2 925 95.9C925.4 96.6 921.1 99.5 919.6 101.3C918.1 103.1 916.9 104.7 916.3 106.7C915.6 108.7 916.2 112.9 915.7 113.3C915.2 113.7 913.8 110.7 913 108.9C912.2 107.1 912.4 104.1 910.9 102.4C909.4 100.7 903.2 99.6 904.3 98.7Z" fill="#ff8a5a" stroke="#d04a18" stroke-width="5" stroke-linejoin="round" opacity="0.8"/><path d="M839.1 120.4C839.1 118.8 841.1 120.1 842.4 122C843.7 123.9 846.2 128.6 846.7 131.7C847.2 134.8 846.2 138.8 845.7 140.4C845.2 142 844 142.9 843.5 141.5C843 140.1 843.1 135.2 842.4 131.7C841.7 128.2 839.1 122 839.1 120.4Z" fill="#ff8a5a" stroke="#d04a18" stroke-width="5" stroke-linejoin="round" opacity="0.8"/><ellipse cx="938" cy="223.3" rx="6.4" ry="5.6" fill="#d8541e" opacity="0.75"/></g>
<g filter="url(#bT)"><path d="M792.5 127.5L794.5 130.5" fill="none" stroke="#ffd8c4" stroke-width="2.1" stroke-linecap="round" stroke-linejoin="round" opacity="0.95"/><path d="M781 138.8L784 141.8" fill="none" stroke="#ffd8c4" stroke-width="1.9" stroke-linecap="round" stroke-linejoin="round" opacity="0.95"/><path d="M845.7 140.4C846.8 141.8 849.8 146.1 852 149C854.2 151.9 857.6 156.3 858.7 157.8" fill="none" stroke="#ffd8c4" stroke-width="2" stroke-linecap="round" stroke-linejoin="round" opacity="0.95"/><path d="M908.7 231.5C909.8 231.2 912.8 230.2 915 230C917.2 229.8 920.6 230.3 921.7 230.4" fill="none" stroke="#fff" stroke-width="1.6" stroke-linecap="round" stroke-linejoin="round"/><path d="M897 212.2L902 211" fill="none" stroke="#ffd8c4" stroke-width="2.1" stroke-linecap="round" stroke-linejoin="round" opacity="0.95"/><path d="M985.9 86C986.2 85.3 987.5 83.2 988 82C988.5 80.8 988.8 79.1 989 78.5" fill="none" stroke="#ffd8c4" stroke-width="2.5" stroke-linecap="round" stroke-linejoin="round" opacity="0.95"/><path d="M1120.5 129.5L1125 136" fill="none" stroke="#ffd8c4" stroke-width="2.1" stroke-linecap="round" stroke-linejoin="round" opacity="0.95"/><path d="M1073 145L1078 153" fill="none" stroke="#ffd8c4" stroke-width="2.1" stroke-linecap="round" stroke-linejoin="round" opacity="0.95"/><path d="M1027 221C1027.7 220.7 1029.8 219.6 1031 219C1032.2 218.4 1033.5 217.8 1034 217.5" fill="none" stroke="#ffd8c4" stroke-width="2.1" stroke-linecap="round" stroke-linejoin="round" opacity="0.95"/></g>
<g><ellipse cx="847.8" cy="126.7" rx="2.6" ry="3.4" fill="#000" transform="rotate(-20 847.8 126.7)"/><ellipse cx="718.5" cy="82.4" rx="4" ry="1.8" fill="#000" transform="rotate(-15 718.5 82.4)"/><ellipse cx="764.1" cy="159.1" rx="3" ry="2" fill="#000"/><path d="M799.5 190.4L813.5 187.4L807.9 197.4L805.1 195.4Z" fill="#000"/><ellipse cx="906.5" cy="238.7" rx="3.8" ry="2.4" fill="#000"/><ellipse cx="1117.8" cy="82.8" rx="5" ry="2.3" fill="#000" transform="rotate(-50 1117.8 82.8)"/><ellipse cx="1145" cy="42.6" rx="3.5" ry="1.3" fill="#000" transform="rotate(10 1145 42.6)"/><ellipse cx="1150" cy="205.4" rx="7" ry="4" fill="#000"/><ellipse cx="987" cy="180.9" rx="1.4" ry="1.4" fill="#000"/><ellipse cx="817" cy="151.5" rx="2.5" ry="1.5" fill="#000"/></g>
<g><ellipse cx="780.4" cy="78.5" rx="1.7" ry="1.7" fill="#1eff1e"/><ellipse cx="789.1" cy="90.4" rx="2.4" ry="2.4" fill="#fff" stroke="#1eff1e" stroke-width="2.2"/><ellipse cx="850.4" cy="99.6" rx="1.9" ry="1.9" fill="#1eff1e"/><path d="M866.3 82.8C866.7 81.5 871.2 80.8 873.9 81.3C876.6 81.8 880.1 84.6 882.6 86.1C885.1 87.6 887.3 89.5 889.1 90.4C890.9 91.3 893.9 91 893.5 91.5C893.1 92 889.2 92.8 887 93.7C884.8 94.6 882.6 96.3 880.4 97C878.2 97.7 874.6 98.7 873.9 98C873.2 97.3 876.5 94 876.1 92.6C875.7 91.1 873.3 90.9 871.7 89.3C870.1 87.7 865.9 84.1 866.3 82.8Z" fill="#fff" stroke="#1eff1e" stroke-width="2.3" stroke-linejoin="round"/><path d="M887 95.9C888.5 96.2 893.1 97 896 97.5C898.9 98 902.9 98.8 904.3 99.1" fill="none" stroke="#1eff1e" stroke-width="1.6" stroke-linecap="round" stroke-linejoin="round"/><path d="M904.3 98.7C905.4 97.8 913.9 97.5 917.4 97C920.9 96.5 924.6 95.2 925 95.9C925.4 96.6 921.1 99.5 919.6 101.3C918.1 103.1 916.9 104.7 916.3 106.7C915.6 108.7 916.2 112.9 915.7 113.3C915.2 113.7 913.8 110.7 913 108.9C912.2 107.1 912.4 104.1 910.9 102.4C909.4 100.7 903.2 99.6 904.3 98.7Z" fill="#fff" stroke="#1eff1e" stroke-width="2.3" stroke-linejoin="round"/><ellipse cx="910.9" cy="81.3" rx="1.9" ry="3.4" fill="#1eff1e"/><ellipse cx="902.6" cy="90.9" rx="3.4" ry="1.9" fill="#1eff1e" transform="rotate(30 902.6 90.9)"/><ellipse cx="920.7" cy="92.2" rx="1.9" ry="2.9" fill="#1eff1e"/><ellipse cx="882" cy="115" rx="2.4" ry="2.4" fill="#1eff1e"/><path d="M839.1 120.4C839.1 118.8 841.1 120.1 842.4 122C843.7 123.9 846.2 128.6 846.7 131.7C847.2 134.8 846.2 138.8 845.7 140.4C845.2 142 844 142.9 843.5 141.5C843 140.1 843.1 135.2 842.4 131.7C841.7 128.2 839.1 122 839.1 120.4Z" fill="#fff" stroke="#1eff1e" stroke-width="1.6" stroke-linejoin="round"/><ellipse cx="801.7" cy="148.7" rx="2.9" ry="2.6" fill="#1eff1e" transform="rotate(-20 801.7 148.7)"/><ellipse cx="830" cy="157.7" rx="1.7" ry="1.7" fill="#1eff1e"/><ellipse cx="857.9" cy="159" rx="1.9" ry="4.9" fill="#1eff1e" transform="rotate(-25 857.9 159)"/><path d="M975.4 93.7C976.2 94.1 978.8 94.6 980.4 95.9C982 97.2 984 99.7 984.8 101.3C985.6 102.9 985.3 105 985.4 105.7" fill="none" stroke="#1eff1e" stroke-width="3.8" stroke-linecap="round" stroke-linejoin="round"/><path d="M976.5 94.2C977.1 94.5 979.1 95 980.4 96.2C981.7 97.4 983.6 100.5 984.3 101.3" fill="none" stroke="#fff" stroke-width="0.9" stroke-linecap="round" stroke-linejoin="round"/><ellipse cx="1051.5" cy="122" rx="2.4" ry="2.4" fill="#1eff1e"/><path d="M1005 142.2C1005.2 143 1006.8 145.5 1006.5 147C1006.2 148.5 1004.8 149.9 1003.3 151.3C1001.8 152.7 1000.2 153.1 997.8 155.2C995.4 157.3 990.5 162.6 989.1 164.1" fill="none" stroke="#1eff1e" stroke-width="3.4" stroke-linecap="round" stroke-linejoin="round"/><path d="M1005.5 144C1005.6 144.6 1006.3 146.4 1006 147.5C1005.7 148.6 1003.9 150 1003.5 150.5" fill="none" stroke="#fff" stroke-width="0.8" stroke-linecap="round" stroke-linejoin="round"/><ellipse cx="1084.2" cy="168.5" rx="3.9" ry="1.9" fill="#1eff1e" transform="rotate(38 1084.2 168.5)"/><ellipse cx="1100.7" cy="173.5" rx="1.9" ry="3.4" fill="#1eff1e" transform="rotate(15 1100.7 173.5)"/><path d="M1138 181.5L1146.7 182.6L1137 188.7Z" fill="#fff" stroke="#1eff1e" stroke-width="2" stroke-linejoin="round"/><ellipse cx="957.6" cy="215.7" rx="2.4" ry="2.4" fill="#1eff1e"/><ellipse cx="963.7" cy="217.4" rx="2.4" ry="2.4" fill="#1eff1e"/><ellipse cx="948.9" cy="221.7" rx="1.9" ry="3.6" fill="#1eff1e" transform="rotate(-30 948.9 221.7)"/><ellipse cx="946" cy="230" rx="1.4" ry="1.9" fill="#1eff1e" transform="rotate(-30 946 230)"/><ellipse cx="938" cy="223.3" rx="3.4" ry="2.6" fill="#fff" stroke="#1eff1e" stroke-width="2"/></g></g>
</g>
<line x1="272.6" y1="19.8" x2="272.6" y2="293.5" stroke="#1a0300" stroke-width="1.2" opacity="0.6"/>
<line x1="272.6" y1="20.5" x2="272.6" y2="293.5" stroke="#fff" stroke-width="2" stroke-dasharray="16.6 15.6"/>
<g transform="translate(-665.5,0)"><path d="M928.4 223.3L938 213.7L947.6 223.3L938 232.9Z" fill="none" stroke="#0a0ae6" stroke-width="2" stroke-linejoin="miter"/><text x="909.8" y="214.8" font-size="12.8" fill="#fff" textLength="25.4" lengthAdjust="spacing">EE2</text></g>
<rect x="45.0" y="19.8" width="449.0" height="273.7" fill="none" stroke="#000" stroke-width="1.2"/>
<rect x="499.5" y="19.8" width="77.5" height="273.7" fill="#fff" stroke="none"/>
<g clip-path="url(#clipS)"><g transform="translate(-665.5,0)"><g filter="url(#bSp)"><ellipse cx="1203.3" cy="150" rx="1.6" ry="125" fill="#ff8a28" opacity="0.12"/><ellipse cx="1202.3" cy="83.5" rx="17" ry="1.6" fill="#ff8a28" opacity="0.25"/><ellipse cx="1202.3" cy="89.5" rx="16" ry="2" fill="#ff8a28" opacity="0.3"/><ellipse cx="1203.3" cy="88" rx="4.5" ry="6" fill="#ff8a28" opacity="0.5"/><ellipse cx="1203.3" cy="110" rx="3" ry="4" fill="#ff8a28" opacity="0.15"/><ellipse cx="1205.3" cy="157.6" rx="3" ry="3" fill="#ff8a28" opacity="0.1"/><ellipse cx="1203.3" cy="174" rx="3.5" ry="4" fill="#ff8a28" opacity="0.12"/><ellipse cx="1203.3" cy="203" rx="3.5" ry="5" fill="#ff8a28" opacity="0.16"/><ellipse cx="1206.3" cy="243.5" rx="3.5" ry="2" fill="#ff8a28" opacity="0.3"/><ellipse cx="1203.3" cy="214" rx="6" ry="7" fill="#ff8a28" opacity="0.25"/><path d="M1173 223Q1198 217 1217 223Q1198 229 1173 223Z" fill="#ff8a28" opacity="0.9"/></g><g filter="url(#bT)"><ellipse cx="1189" cy="61.3" rx="0.9" ry="0.9" fill="#d63a00" opacity="0.9"/><path d="M1178 223Q1197 219.4 1208 223Q1197 226.6 1178 223Z" fill="#d63a00" opacity="1"/><path d="M1186.5 223Q1197 220.8 1205 223Q1197 225.2 1186.5 223Z" fill="#3a0400" opacity="1"/></g><line x1="1173.7" y1="223" x2="1234" y2="223" stroke="#1a1aff" stroke-width="1.7" stroke-dasharray="3.6 7.6"/></g></g>
<line x1="537.8" y1="20.5" x2="537.8" y2="293.5" stroke="#0c0c0c" stroke-width="1.9" stroke-dasharray="16.6 15.6"/>
<rect x="499.5" y="19.8" width="77.5" height="273.7" fill="none" stroke="#111" stroke-width="1.5"/>
<line x1="500.5" y1="21.8" x2="500.5" y2="293.5" stroke="#111" stroke-width="1.4" stroke-dasharray="1 4.2"/>
<line x1="576.0" y1="21.8" x2="576.0" y2="293.5" stroke="#111" stroke-width="1.4" stroke-dasharray="1 4.2"/>
<line x1="543.8" y1="289.5" x2="543.8" y2="293.5" stroke="#111" stroke-width="1"/>
<text x="174.8" y="14.4" font-size="13.6" text-anchor="start" fill="#222" textLength="18.8" lengthAdjust="spacingAndGlyphs">SJI</text>
<text x="202.6" y="14.4" font-size="13.6" text-anchor="start" fill="#222" textLength="33" lengthAdjust="spacingAndGlyphs">1400</text>
<text x="242.8" y="14.4" font-size="13.6" text-anchor="start" fill="#222" textLength="8.8" lengthAdjust="spacingAndGlyphs">Å</text>
<text x="256.3" y="14.4" font-size="13.6" text-anchor="start" fill="#222" textLength="82.8" lengthAdjust="spacingAndGlyphs">01:17:49.71</text>
<text x="346.6" y="14.4" font-size="13.6" text-anchor="start" fill="#222" textLength="15.6" lengthAdjust="spacingAndGlyphs">UT</text>
<text x="41" y="88.6" font-size="11.3" text-anchor="end" fill="#222" textLength="20.8" lengthAdjust="spacing">600</text>
<line x1="45.0" y1="84.6" x2="49.0" y2="84.6" stroke="#000" stroke-width="1"/>
<text x="41" y="163.3" font-size="11.3" text-anchor="end" fill="#222" textLength="20.8" lengthAdjust="spacing">580</text>
<line x1="45.0" y1="159.3" x2="49.0" y2="159.3" stroke="#000" stroke-width="1"/>
<text x="41" y="238" font-size="11.3" text-anchor="end" fill="#222" textLength="20.8" lengthAdjust="spacing">560</text>
<line x1="45.0" y1="234" x2="49.0" y2="234" stroke="#000" stroke-width="1"/>
<text x="81.1" y="310.3" font-size="11.3" text-anchor="middle" fill="#222" textLength="20.8" lengthAdjust="spacing">280</text>
<line x1="81.1" y1="293.5" x2="81.1" y2="289.5" stroke="#000" stroke-width="1"/>
<text x="161.8" y="310.3" font-size="11.3" text-anchor="middle" fill="#222" textLength="20.8" lengthAdjust="spacing">300</text>
<line x1="161.8" y1="293.5" x2="161.8" y2="289.5" stroke="#000" stroke-width="1"/>
<text x="242.5" y="310.3" font-size="11.3" text-anchor="middle" fill="#222" textLength="20.8" lengthAdjust="spacing">320</text>
<line x1="242.5" y1="293.5" x2="242.5" y2="289.5" stroke="#000" stroke-width="1"/>
<text x="323.2" y="310.3" font-size="11.3" text-anchor="middle" fill="#222" textLength="20.8" lengthAdjust="spacing">340</text>
<line x1="323.2" y1="293.5" x2="323.2" y2="289.5" stroke="#000" stroke-width="1"/>
<text x="403.9" y="310.3" font-size="11.3" text-anchor="middle" fill="#222" textLength="20.8" lengthAdjust="spacing">360</text>
<line x1="403.9" y1="293.5" x2="403.9" y2="289.5" stroke="#000" stroke-width="1"/>
<text x="484.6" y="310.3" font-size="11.3" text-anchor="middle" fill="#222" textLength="20.8" lengthAdjust="spacing">380</text>
<line x1="484.6" y1="293.5" x2="484.6" y2="289.5" stroke="#000" stroke-width="1"/>
<text x="222" y="323.4" font-size="11" text-anchor="start" fill="#222" textLength="42.8" lengthAdjust="spacingAndGlyphs">Position</text>
<text x="270.9" y="323.4" font-size="11" text-anchor="start" fill="#222" textLength="45" lengthAdjust="spacingAndGlyphs">(arcsec)</text>
<g transform="translate(11.4,204) rotate(-90)"><text x="0" y="0" font-size="11" fill="#222" textLength="42" lengthAdjust="spacingAndGlyphs">Position</text><text x="49.3" y="0" font-size="11" fill="#222" textLength="45" lengthAdjust="spacingAndGlyphs">(arcsec)</text></g>
<text x="544.6" y="310.3" font-size="11.3" text-anchor="middle" fill="#222" textLength="27.6" lengthAdjust="spacing">1403</text>
<text x="498.4" y="323.4" font-size="11" text-anchor="start" fill="#222" textLength="58.3" lengthAdjust="spacingAndGlyphs">wavelength</text>
<text x="564.2" y="323.4" font-size="11" text-anchor="start" fill="#222" textLength="12.9" lengthAdjust="spacingAndGlyphs">(Å)</text>
<text x="51.2" y="284.4" font-size="15.5" text-anchor="start" fill="#fff" textLength="21.5" lengthAdjust="spacing">(b)</text>
</g>
<g transform="translate(0,363.5)">
<g clip-path="url(#clipI)">
<rect x="45.0" y="19.8" width="449.0" height="273.7" fill="url(#bg0)"/><rect x="45.0" y="19.8" width="449.0" height="273.7" filter="url(#tex)" opacity="0.25"/><rect x="45.0" y="19.8" width="449.0" height="273.7" filter="url(#tex2)" opacity="0.6"/><g transform="rotate(24 270 156)"><rect x="-40" y="-120" width="640" height="560" filter="url(#fib)" opacity="0.12"/></g><g transform="rotate(-30 270 156)"><rect x="-40" y="-120" width="640" height="560" filter="url(#fib2)" opacity="0.1"/></g><g><ellipse cx="60" cy="290" rx="135" ry="39" fill="url(#rg0c0000)" opacity="0.6"/><ellipse cx="270" cy="296" rx="390" ry="18" fill="url(#rg0c0000)" opacity="0.5"/></g>
<g transform="translate(0,-363.5)"><g><ellipse cx="270" cy="400" rx="450" ry="66" fill="url(#rg160000)" opacity="0.95"/><ellipse cx="120" cy="610" rx="180" ry="82.5" fill="url(#rg160000)" opacity="0.55"/><ellipse cx="300" cy="650" rx="330" ry="24" fill="url(#rg160000)" opacity="0.45"/><ellipse cx="200" cy="480" rx="135" ry="42" fill="url(#rga01200)" opacity="0.31"/><ellipse cx="100" cy="475" rx="105" ry="39" fill="url(#rga01200)" opacity="0.3"/><ellipse cx="110" cy="520" rx="105" ry="36" fill="url(#rga01200)" opacity="0.22"/><ellipse cx="330" cy="520" rx="135" ry="60" fill="url(#rga01200)" opacity="0.22"/><ellipse cx="420" cy="560" rx="105" ry="75" fill="url(#rga01200)" opacity="0.17"/><ellipse cx="230" cy="560" rx="90" ry="60" fill="url(#rga01200)" opacity="0.17"/><ellipse cx="360" cy="600" rx="120" ry="45" fill="url(#rga01200)" opacity="0.14"/><ellipse cx="305" cy="440" rx="45" ry="36" fill="url(#rga01200)" opacity="0.16"/><ellipse cx="130" cy="470" rx="142.5" ry="27" fill="url(#rga01200)" opacity="0.25"/></g>
<g filter="url(#bM)"><ellipse cx="356" cy="473" rx="28" ry="16" fill="#160000" opacity="0.85"/><ellipse cx="305" cy="585" rx="20" ry="14" fill="#160000" opacity="0.4"/><ellipse cx="215" cy="477" rx="40" ry="10" fill="#b41c00" opacity="0.49"/><ellipse cx="180" cy="515" rx="12" ry="22" fill="#b41c00" opacity="0.49"/><ellipse cx="385" cy="513" rx="26" ry="12" fill="#b41c00" opacity="0.49" transform="rotate(35 385 513)"/><ellipse cx="295" cy="478" rx="28" ry="14" fill="#b41c00" opacity="0.5"/><ellipse cx="62" cy="455" rx="16" ry="8" fill="#b41c00" opacity="0.35"/><ellipse cx="272" cy="535" rx="14" ry="10" fill="#b41c00" opacity="0.32"/><ellipse cx="440" cy="418" rx="14" ry="4" fill="#a01200" opacity="0.35"/><path d="M202.4 462.4C203 462.3 204.9 462 206 462C207.1 462 208.4 462.2 208.9 462.2" fill="none" stroke="#b83208" stroke-width="10.6" stroke-linecap="round" stroke-linejoin="round" opacity="0.7"/><path d="M249.1 467.4C250.2 467.6 253.6 468 256 468.4C258.4 468.8 262.1 469.6 263.3 469.8" fill="none" stroke="#b83208" stroke-width="10.4" stroke-linecap="round" stroke-linejoin="round" opacity="0.7"/><path d="M219.8 470.7C221.2 471.1 225.5 472.1 228 473C230.5 473.9 233.8 475.5 235 476" fill="none" stroke="#b83208" stroke-width="9.5" stroke-linecap="round" stroke-linejoin="round" opacity="0.7"/><path d="M172.3 503C172.5 504.5 173.3 508.8 173.5 512C173.7 515.2 173.4 519.5 173.3 522C173.2 524.5 172.9 526.2 172.8 527" fill="none" stroke="#b83208" stroke-width="12.6" stroke-linecap="round" stroke-linejoin="round" opacity="0.7"/><path d="M172.8 524L172.6 533" fill="none" stroke="#b83208" stroke-width="10" stroke-linecap="round" stroke-linejoin="round" opacity="0.7"/><path d="M182.8 537.5L184.8 543" fill="none" stroke="#b83208" stroke-width="9.4" stroke-linecap="round" stroke-linejoin="round" opacity="0.7"/><path d="M262.2 469.6L268 468.5" fill="none" stroke="#b83208" stroke-width="10" stroke-linecap="round" stroke-linejoin="round" opacity="0.7"/><path d="M309 474C309.4 474.7 310.8 476.6 311.5 478C312.2 479.4 313 481.8 313.3 482.6" fill="none" stroke="#b83208" stroke-width="10.2" stroke-linecap="round" stroke-linejoin="round" opacity="0.7"/><path d="M362.2 500C364.7 501.3 372.7 504.9 377.4 507.6C382.1 510.3 388.2 514.8 390.4 516.3" fill="none" stroke="#b83208" stroke-width="10.2" stroke-linecap="round" stroke-linejoin="round" opacity="0.7"/><path d="M378 508C380.1 509.4 386.9 513.6 390.4 516.3C393.9 519 397.6 522.7 399 524" fill="none" stroke="#b83208" stroke-width="13.5" stroke-linecap="round" stroke-linejoin="round" opacity="0.7"/><path d="M460.5 585.5L463.8 591" fill="none" stroke="#b83208" stroke-width="9.5" stroke-linecap="round" stroke-linejoin="round" opacity="0.7"/><path d="M344.5 576L343.8 581" fill="none" stroke="#b83208" stroke-width="10.2" stroke-linecap="round" stroke-linejoin="round" opacity="0.7"/></g>
<g filter="url(#bF)"><path d="M109.7 458.5Q121.6 459.1 133.4 458.4M108.7 455.4Q122.6 461.7 137.5 458.9M72.4 452.7Q88.6 470.2 112.4 470M64.1 455.7Q85 455.2 100.2 469.4M91 462.4Q103.1 467.4 116.1 468.5M74.9 466.6Q85.1 464.7 94.6 468.7M70.1 451.2Q86 455.6 102 459.4" fill="none" stroke="#d04818" stroke-width="1.5" stroke-linecap="round" opacity="0.32"/><path d="M70.6 459.7Q86.9 468.4 105.3 469.1M86.5 448Q103.4 451 116.5 462.2M64.2 466.1Q84.2 457.8 105.5 462.2M76.7 463.6Q89.9 462.5 102.1 467.6M114.8 464.9Q126.5 463.5 136.2 470.3M61.1 453.8Q83.7 455.9 100.1 471.4M77 457.5Q92.5 455 107.2 460.8" fill="none" stroke="#d04818" stroke-width="2" stroke-linecap="round" opacity="0.40"/><path d="M97.8 465.3Q116.4 461.2 134.9 465.1M79.1 465.6Q93 467.4 106.7 470.1M31.7 446.6Q52.3 442.7 68.3 456.2M87.3 451.3Q99.7 452.1 111.5 456M98 437.6Q109.4 448.9 125.5 449.1M112.3 459.7Q126.2 461.1 140.1 463.2M84.2 457.6Q99.1 455.8 109.6 466.5" fill="none" stroke="#d04818" stroke-width="3" stroke-linecap="round" opacity="0.26"/><path d="M116.8 461.8Q128.1 465.2 139.9 466.9M115 462.7Q124.1 469 134.9 470.8M69.7 457Q89.7 446.8 111.3 452.9M70.6 456.1Q92.2 449.8 113.9 455.7" fill="none" stroke="#ec7446" stroke-width="1.5" stroke-linecap="round" opacity="0.50"/><path d="M203.7 473.3Q230.1 494.5 263.1 487.7M211 471.5Q234.7 466.6 253.5 481.8M185.7 484Q203.4 498.7 226.4 496.8M109.6 471.9Q147 471.6 179 491M210.2 491.1Q223.8 491.9 235.7 498.5M167.9 458.2Q187.5 475.7 212.5 483.7M169.1 471.9Q195.9 479.5 223.6 481.2M192.3 464.1Q214.7 495.5 253.2 498.5M218.8 460.6Q232.6 462.1 243.1 471.1M134.8 467Q153.4 465.3 167.7 477.4M173.2 470.4Q184.6 477.5 196 484.5M187 474Q221.6 480.8 252 498.7M184.4 474.4Q197.1 484.4 213.3 483M180.2 453.1Q208.1 459.4 235.7 466.8M145.7 455.3Q169.6 457.5 190.4 469.6M137.3 482.7Q164.9 487.4 192.2 493.8M224.8 496.6Q238.2 496 250.3 501.7" fill="none" stroke="#d04818" stroke-width="1.5" stroke-linecap="round" opacity="0.36"/><path d="M187.5 466.1Q215 485.1 248.3 487M175.6 477.8Q195.1 483.5 213.9 491M211 472.7Q236.7 476.2 252.9 496.3M177.9 470.4Q207.9 495.8 246.3 487.8M216.5 472.4Q235 481.4 253 491.4M170.7 464.1Q199.8 472 228.3 481.9M225.2 459.6Q259.4 470.7 289.2 490.9M170.1 471Q187.3 467.7 202.7 476M155.2 475.2Q179.6 478.9 200.5 491.8M199.6 474.7Q234.8 472.1 260.9 495.9M204.1 487.7Q221.9 486.7 236 497.6M171.6 445.7Q195.2 468.8 227.1 477.3M146.4 480.4Q158.9 484.8 171.2 489.6M136.5 485.4Q161.3 480.3 182.1 494.6M157 471.3Q186.4 479.7 214.4 491.8M168.5 468.5Q191 492 223.6 491.4M172.4 474.3Q207.7 481 241.8 491.8" fill="none" stroke="#d04818" stroke-width="2" stroke-linecap="round" opacity="0.45"/><path d="M188.9 462.1Q222.1 471.1 246.6 495.3M224.4 463.2Q239.6 462.8 250.1 473.8M214.5 457.6Q247.7 457.6 276.6 473.8M165.2 481.9Q188.9 491.4 210.9 504.3M156.7 467.1Q167.9 479.7 184.4 483.2M110.3 458.9Q147.8 450.8 179.2 472.7M205.3 472.1Q229 477.5 248.6 491.8M193.6 473.8Q227.3 482.1 257.4 499.4M191.8 467.2Q216.5 474.7 241.5 481.3M135.4 457.3Q172.3 459 197.2 486.1M150.7 466.6Q180.6 476 211.3 481.9M204.5 462.7Q219.8 475.1 239.2 478.9M176.3 456.2Q209.8 456.3 242 465.6M134.8 472.1Q146.2 482.8 161.5 486.3M172.5 466.4Q200.5 468.1 225.3 481.3M192.4 477Q208.5 480.4 218.9 493.3M186.9 461.7Q205.8 472.4 226.1 480.6" fill="none" stroke="#d04818" stroke-width="3" stroke-linecap="round" opacity="0.29"/><path d="M197 476.2Q218.4 487.9 238.9 500.9M133.8 469.2Q163.1 475.7 192.2 483.2M179 474.7Q204 474.1 225.1 487.7M204.7 462.9Q220.6 479.7 242.9 486.1M184.9 459.8Q210.5 468.6 230.6 486.5M114.5 465.5Q139.9 476.4 167.1 480.5M205.1 481.7Q233.9 474.9 258.5 491.3M170.3 464.9Q202.5 472.8 229.7 491.8M209.2 480.1Q219.5 490.2 233 494.8" fill="none" stroke="#ec7446" stroke-width="1.5" stroke-linecap="round" opacity="0.56"/><path d="M174 508.1Q178.1 521.4 178.9 535.3M174.5 499.4Q175.6 513.5 183.4 525.3M182.2 516.9Q180.5 528.2 180.6 539.6M178.8 507.8Q182.6 520.7 176.7 532.7M181.1 516.7Q187.8 529.1 187 543.1M187.5 491.2Q187.7 509.5 189.3 527.6" fill="none" stroke="#d04818" stroke-width="1.5" stroke-linecap="round" opacity="0.32"/><path d="M183.5 494.6Q189.3 507.3 188.6 521.2M182.5 503.6Q182.1 514.4 188.1 523.3M183.7 509.5Q181.3 517 183.3 524.6M167.2 512.9Q165.6 530.6 177.8 543.6M177.9 507.2Q183.8 524.8 183.3 543.2M184.7 497.4Q188.8 510.5 191.6 524" fill="none" stroke="#d04818" stroke-width="2" stroke-linecap="round" opacity="0.40"/><path d="M182.9 492.1Q177.2 511.4 186.9 529M164.5 511Q170.4 523 177.9 534.2M168 499.9Q179.9 512.7 181.9 530.1M186.4 478.8Q184.5 492.6 189 505.8M170.3 528.3Q175.7 536.5 178.9 545.6M174.3 516.3Q167.8 532.3 171.4 549.1" fill="none" stroke="#d04818" stroke-width="3" stroke-linecap="round" opacity="0.26"/><path d="M162.8 503.2Q165.2 523.9 176.3 541.7M168.2 499.1Q167 515.5 177 528.6M163.9 517.1Q165.6 528 173 536.1" fill="none" stroke="#ec7446" stroke-width="1.5" stroke-linecap="round" opacity="0.50"/><path d="M200.3 534.2Q208.9 553.9 229.2 560.6M202.7 532.9Q214.8 537.9 227.2 542.3M146.9 547.4Q167.7 573.6 201 576.4M222.5 523.6Q247.4 530.2 260.9 552.1M180.4 542.9Q204.3 547.5 224.4 561.1M220.3 520.5Q251.6 524.8 273.5 547.5M227.1 529.6Q246.5 532.9 257.4 549.4M185.6 539Q205.3 547.7 217.3 565.6M220.5 542.4Q231.8 562.2 253.9 567.9M186.7 518.2Q198.4 543.2 225.5 548.8M199.5 525.7Q226.8 539.6 247.1 562.5" fill="none" stroke="#d04818" stroke-width="1.5" stroke-linecap="round" opacity="0.30"/><path d="M188.1 522.3Q209.5 532.1 221.5 552.4M226.1 524.7Q238.1 545.6 260.8 553.7M211.4 553.2Q233.8 556.7 251.3 571M214.4 530.9Q226.4 547.4 246.7 550.6M165 549.7Q177.4 555.9 183.8 568.2M183.1 509.2Q200.8 526 217.5 543.9M209.4 532.8Q219.3 543.4 233.5 546.1M197.3 540.9Q216.7 550 237.7 554.5M237.7 523.3Q247.8 532.1 259.5 538.5M216.1 517.2Q224.1 527.4 234.2 535.5M203.7 537.4Q221 564.5 250.9 576.1" fill="none" stroke="#d04818" stroke-width="2" stroke-linecap="round" opacity="0.38"/><path d="M241 537.6Q254.6 547 270.9 549.1M215.2 536.2Q239.5 552.4 259.6 573.6M195.9 532.6Q204.8 541.8 214.1 550.5M186.6 541Q215.2 543.2 235 563.9M163.4 545.1Q195 543.3 219.1 563.7M167.9 528.7Q189.6 550.4 215.1 567.6M197.4 522.8Q222.1 538 247.7 551.6M214 517Q224.3 525.1 233.8 534.2M197.2 523.3Q210.5 536.1 228.8 539.1M215.9 547.7Q231.4 556.2 247.2 564.2M210.4 558.3Q228.2 566.3 245.8 574.8" fill="none" stroke="#d04818" stroke-width="3" stroke-linecap="round" opacity="0.25"/><path d="M202.7 537.1Q207.7 551.2 221.9 555.7M214.4 534.9Q230.9 551 251.7 561M232 542.8Q246.9 541.5 257.7 551.8M235 541.2Q246.8 549.9 256.6 560.9M201.9 536Q221.2 542.8 231.8 560.3M197.2 549.1Q214.6 556.1 227.4 569.7" fill="none" stroke="#ec7446" stroke-width="1.5" stroke-linecap="round" opacity="0.47"/><path d="M237.8 478.7Q259.7 481.2 281.8 480.8M288.3 472.6Q296.6 477.4 306 478.5M273.2 470.8Q283 476 293.5 472.8M246.1 493.8Q262.3 495.5 276.5 503.5M259.8 483.9Q276.6 486.9 291.1 496M256.4 494.5Q266.8 491.6 277.6 491.6M300 471.4Q309.8 474 319.8 475.5M237.7 479Q255.1 479.1 272.4 477.1" fill="none" stroke="#d04818" stroke-width="1.5" stroke-linecap="round" opacity="0.29"/><path d="M228.6 494.1Q239 499.8 249.6 505.2M216.4 473.2Q228.1 478.5 240.8 477.1M241.3 473.2Q262.4 485.8 286.9 483.6M245.1 473.7Q260.7 475 274 483.4M246.4 478.9Q258.6 486.2 272.9 486.2M245.2 471.7Q252.8 480.9 264.8 480.4M261.7 458Q274.7 466.2 289 472.2M242.9 477.8Q256.7 476.8 270.4 474.5" fill="none" stroke="#d04818" stroke-width="2" stroke-linecap="round" opacity="0.36"/><path d="M230.4 467Q239.5 470.1 248.8 472.5M249.9 468.3Q268.4 463.1 285.6 471.7M244.3 477.7Q263.3 489.6 283.2 499.8M251.5 487Q271 489.3 290.6 491.1M263.9 473Q275.9 477.9 288.8 477.7M242.2 477.3Q253.9 480.2 263.9 487.1M229.6 471.9Q252.8 471.2 275.9 473.9M249.9 485.3Q270.9 482.5 291 489" fill="none" stroke="#d04818" stroke-width="3" stroke-linecap="round" opacity="0.23"/><path d="M277.8 476.5Q293.2 488.5 312.6 486.7M218.4 472.5Q237 483.9 257.7 490.5M229.7 486.1Q243.2 479 258.1 482.2M226.4 468.3Q242.1 466.5 254.7 475.8M264.2 489.3Q281.1 498.2 300.2 498.9" fill="none" stroke="#ec7446" stroke-width="1.5" stroke-linecap="round" opacity="0.45"/><path d="M293.5 481.8Q303.9 483.2 310.3 491.4M307 467.7Q314.8 470.1 321.7 465.6M297.1 474.8Q307.1 466.9 319.8 466.8M299.5 471Q307.9 480.9 320.6 483.7M310.9 472Q318.7 486.1 331.9 495.5M307.9 459.6Q311.7 465.3 317.2 469.5" fill="none" stroke="#d04818" stroke-width="1.5" stroke-linecap="round" opacity="0.32"/><path d="M281.2 447.7Q289.1 462.9 301.4 475M285.7 472.3Q292.9 480 303.1 482.3M284.2 482.4Q291.6 480.1 299.1 478.1M293 477.2Q301.3 480.7 309.2 476.2M300.8 469.9Q310.5 480.2 320.1 490.6M285.6 477Q297.4 480.6 309.5 483.2" fill="none" stroke="#d04818" stroke-width="2" stroke-linecap="round" opacity="0.40"/><path d="M292.4 469.7Q301.4 473.4 304.1 482.9M295.2 484.3Q304.4 486.2 309.1 494.4M292.8 476.9Q308.9 480.7 319.9 493M290.9 480Q292.8 486.8 297.9 491.6M294.2 503.9Q305.3 502.5 316.5 502M300.4 479.6Q310.1 480.1 315.6 488" fill="none" stroke="#d04818" stroke-width="3" stroke-linecap="round" opacity="0.26"/><path d="M321.7 478.2Q329 494.5 343.2 505.3M299 462.8Q305.9 478.6 322.1 484.6M296.7 466.1Q298.3 474.2 305.3 478.5M296.3 468.8Q301.5 473.7 306.5 478.9" fill="none" stroke="#ec7446" stroke-width="1.5" stroke-linecap="round" opacity="0.50"/><path d="M361 493.2Q377.8 508.7 394 524.9M361.3 505.4Q374.1 519.7 392.8 523.5M386.3 491.9Q395.2 501.9 407.3 507.7M350.1 499.1Q368.6 513.5 387.7 527.1M379.1 503.9Q391.2 512.7 405.3 517.6M365.3 501Q380.3 525 404.6 539.3M339.3 511Q359.4 526.8 383.4 535.9M379.9 492.2Q399.2 507.9 418.4 523.5M361.6 489Q386.5 502.8 408.6 520.7" fill="none" stroke="#d04818" stroke-width="1.5" stroke-linecap="round" opacity="0.40"/><path d="M373.1 516Q379.7 525.9 390.2 531.4M383.7 496.6Q401.7 516 426.5 525.3M365 503.8Q374.4 515.8 389.4 518.4M357.8 485.7Q381.6 501.1 403.8 518.5M366.5 501.2Q395.8 502.5 412.6 526.5M375 493.9Q396.1 499.8 406.1 519.3M377.8 496.7Q398.9 508.8 417 525.1M366.3 496.4Q396 505.8 414.3 531M384 489.1Q405.3 507.4 430.8 518.9" fill="none" stroke="#d04818" stroke-width="2" stroke-linecap="round" opacity="0.50"/><path d="M377.6 500.6Q391.1 510.5 406 518.3M352.1 498Q373 520.9 399.8 536.6M335.2 517.6Q350.2 528.6 365.5 539M376.6 509.7Q386.6 522 402 525.4M349.2 505.5Q370.2 527.3 394.2 545.8M353.6 496.4Q376.2 511.1 396.7 528.6M379 503.9Q391.8 510.8 404.6 517.8M363.8 495.6Q380.6 510.2 401.5 517.7M353.4 504.5Q372.3 521.9 397.7 526.3" fill="none" stroke="#d04818" stroke-width="3" stroke-linecap="round" opacity="0.33"/><path d="M387.3 495.5Q394.9 511.9 412.3 516.7M372.4 501.5Q398.9 510.1 421.8 526M361.6 490.3Q379.2 502.1 391.5 519.3M395.2 493.6Q411.1 510.6 434 514.9" fill="none" stroke="#ec7446" stroke-width="1.5" stroke-linecap="round" opacity="0.62"/><path d="M461.4 511.9Q480.9 527.8 487.7 552M481.7 537Q492.4 561.4 518.4 567.8M468.3 477.3Q478.8 507 497.2 532.7M441.2 541.3Q462.9 565.3 486.8 587M453 487.2Q469.3 522.2 489.1 555.3M480.9 548.3Q480 576.2 493.3 600.7M432.2 562.4Q441 594 438.2 626.7M447.4 528.8Q455.4 565.9 464.1 602.8M437.9 496.8Q450.3 519.9 462 543.4M418 522.7Q435.3 553 468.1 564.8M422.6 488.4Q426.4 521.5 425.1 554.8M442.1 582Q453.9 608.9 457.4 638.2M419.9 558.3Q450.7 576.2 463.1 609.5M430.2 482.9Q459.9 512 486.9 543.7" fill="none" stroke="#d04818" stroke-width="1.5" stroke-linecap="round" opacity="0.22"/><path d="M453.7 516.4Q451.8 532.1 454.4 547.6M428.1 520Q446.7 530.5 458.6 548.3M392.3 523Q381.3 559.8 399.7 593.5M401.8 530.4Q414.3 546.3 430.4 558.5M399.3 480.4Q405.5 509.8 432.6 522.8M450.7 523.2Q447.5 566.9 474.9 601.1M434.1 491.3Q421.1 530.4 443.3 565.1M465.7 513.5Q470.5 550.3 474.9 587M421.2 477.4Q430.8 490.3 443.1 500.6M407.9 587.1Q415.7 602.7 430.7 611.7M454.2 473.7Q454 495.7 458.1 517.2M414.3 513.5Q426 552.8 418.6 593.2M447.7 503.2Q448.7 535.6 456.7 566.9M458.3 501.6Q458.7 529.2 465.3 555.9" fill="none" stroke="#d04818" stroke-width="2" stroke-linecap="round" opacity="0.27"/><path d="M418.6 557.2Q426.7 572.6 442 581.1M460.2 546.3Q452.4 578.4 462.9 609.7M463.6 540.2Q476.4 564 475.2 591M427.6 476.3Q434.9 504.3 450.1 529.1M419.4 533.4Q431.9 576 469.5 599.8M410.3 542.9Q399.8 567.5 411.2 591.6M471.6 526.6Q495.9 537 504 562.1M447.8 527.2Q463.7 554 474.9 582.9M427.4 540.6Q424.1 557.9 430 574.4M431.4 531.5Q431.6 554 445 572.2M426.8 523.6Q461.9 533.4 476 567M445.5 534.9Q452.5 559.6 461.7 583.5M390.9 486.7Q403.5 515.9 423.5 540.7M443.9 586.1Q454.8 619.9 459.3 655.2" fill="none" stroke="#d04818" stroke-width="3" stroke-linecap="round" opacity="0.18"/><path d="M446.1 522.2Q460.3 532.5 465.5 549.2M418.9 475Q429.1 501.2 425.2 529.2M446.4 570.4Q469.3 590.5 484.1 617.3M450 573.2Q460.4 598 484.5 610M452.2 506.4Q455 529.1 457.7 551.8M453.3 541.7Q448.9 577.4 469.4 607M408.7 534.6Q411.8 566.9 414.6 599.3" fill="none" stroke="#ec7446" stroke-width="1.5" stroke-linecap="round" opacity="0.34"/><path d="M357.6 560.7Q371.4 572.3 371.7 590.4M348.8 544.5Q369.2 560.9 371.7 586.9M343.8 566.2Q361.8 573.9 366.6 592.8M363.1 540.2Q374.8 551.8 383.4 565.7M354 533.2Q361.2 555.3 370.1 576.7M371.5 562.5Q381.2 564.7 388.6 571.1M386.3 566.8Q394.5 571.5 403.3 574.7M373.5 536.9Q385.2 557.3 393.5 579.3M357.7 550.6Q366.3 559.8 378.7 561" fill="none" stroke="#d04818" stroke-width="1.5" stroke-linecap="round" opacity="0.26"/><path d="M339.7 588.4Q357.2 599.3 376.1 607.5M361.7 556.9Q378.2 567.4 391.9 581.3M328.5 533.3Q348.4 543.2 366.3 556.1M368.2 579.6Q374.1 595.9 388.7 605.4M355.9 581.1Q370.8 586 380.1 598.7M353 576.1Q367.5 583.4 382.7 589.2M357.4 571.8Q359.6 586.9 370.2 598M367.6 557.1Q370.8 569.3 381.7 575.4M356.6 578.1Q374.4 591.2 396.3 594" fill="none" stroke="#d04818" stroke-width="2" stroke-linecap="round" opacity="0.33"/><path d="M333.1 593Q338.5 601.8 341.3 611.7M350.5 570.7Q370.2 576.9 389.2 584.8M371.5 589.2Q390.9 602.6 403.1 622.7M338.4 545Q345.6 564.2 357.4 580.9M336.4 524Q352.3 542.2 362.9 563.8M367 538.3Q368.3 560.6 386.3 573.8M349.8 556.1Q356.6 562.3 362.2 569.6M358.9 538.5Q379.5 554.8 379.1 581.1M330.1 584.3Q341.1 593.7 355.3 595.8" fill="none" stroke="#d04818" stroke-width="3" stroke-linecap="round" opacity="0.21"/><path d="M357.3 575.3Q368.6 595.9 388.4 608.3M399 575.7Q410 590.9 427 598.6M363.9 579.2Q377.8 585.1 384.5 598.7M338.9 549.5Q359.1 564.6 380.5 577.8" fill="none" stroke="#ec7446" stroke-width="1.5" stroke-linecap="round" opacity="0.41"/><path d="M421 625.8Q438.6 631 451 644.6M411.4 624.9Q426.3 635.2 444.3 632.9M374.6 612.4Q399.9 623 427.3 620.4M385.8 617.9Q395.5 623.6 405 629.6M327.8 612.6Q347.4 637.8 379.3 638.6M357.8 643.5Q367.2 650.3 378.6 652.9M439.6 615.7Q450.6 620.4 460.4 627M407.9 624.8Q436.1 627.1 456.1 647.1M386.7 603.3Q416.5 612.8 436.7 636.7" fill="none" stroke="#d04818" stroke-width="1.5" stroke-linecap="round" opacity="0.22"/><path d="M371.3 643.6Q392.8 653.2 415.5 647.1M407.8 619.8Q422.9 631.9 440.4 640.5M360.3 618.9Q387 607.1 413.7 619.2M389.5 610.4Q402.4 617 416.9 616.8M370.2 618.5Q385.2 623.8 398.3 632.8M325.7 615.6Q347.6 620.3 369.3 625.5M357.8 611.6Q381.5 627.2 406.4 640.8M385.2 616.5Q411.7 616.6 437.5 623M414.7 620.6Q430.2 631.4 448.8 628.5" fill="none" stroke="#d04818" stroke-width="2" stroke-linecap="round" opacity="0.27"/><path d="M378.2 631.6Q394 636.8 410.4 639.3M408.3 618.1Q423.8 636 447.4 636.6M421.6 631.7Q443.5 630.1 465.4 629.9M342.1 631.2Q355.7 633.3 368.8 629.5M454.6 626.6Q478.8 625.5 500.4 636.3M336.6 628.4Q355.2 629.4 373.7 631.2M425.1 615.3Q437.1 618.4 449.4 617.2M387.9 618.5Q405.8 622.7 423.9 625.6M404.5 622.8Q416.9 616.7 430 621.1" fill="none" stroke="#d04818" stroke-width="3" stroke-linecap="round" opacity="0.18"/><path d="M402.9 610.2Q429.6 607 456.4 609M437.8 635.7Q447.9 643 460.4 643.9M316.9 615.7Q329 617.7 340.8 621M377.9 623.9Q394.7 627.1 411.6 630" fill="none" stroke="#ec7446" stroke-width="1.5" stroke-linecap="round" opacity="0.34"/><path d="M132.2 591.5Q132.5 591 132.7 590.5M197.9 548Q199 548.3 200.1 548.8M96.3 651.4Q97.7 651.5 98.7 650.5M119.6 615.3Q120.2 614.9 120.9 615M173.6 626Q173.7 626.6 174 627M147.5 622.9Q147.6 623.5 148 623.9M257.5 551.3Q257 552.5 257.1 553.8M162.6 582Q162.9 583.4 162.2 584.6M131.6 572.9Q132.8 573.3 133.4 574.5M199 626Q199.6 625.6 200 625.1M78.2 616.3Q78.1 616.9 77.9 617.5M102.4 543.5Q102.7 544.7 103.7 545.4M210.5 578.1Q211.4 578 212.2 577.6M153.8 625.2Q154.4 624 155 623M83.5 591.1Q83.6 591.8 83.4 592.5M187.5 629.7Q188.6 630.5 189.8 631.1M111 612.5Q111.8 612.6 112.3 613.3" fill="none" stroke="#d04818" stroke-width="3" stroke-linecap="round" opacity="0.12"/><path d="M189.9 609.4Q190.6 609.4 191.1 609.7M163.6 638.6Q164.2 637.7 165.2 637.3M135.4 605.8Q136.5 606.3 137.7 605.9M111.1 609.8Q112 609.1 112.4 608M156.6 579.9Q158 580.1 159 580.9M159.7 570.9Q160.5 570.7 161 570.2M115.4 609.2Q116 608.8 116.7 608.7M139.8 597.8Q140.3 599 140.2 600.2M219.8 589Q220.3 589.9 221.2 590.4M107.2 602.8Q107.2 603.4 107 604M157.7 611.9Q158.8 612.5 160.1 612.6M187.4 596.4Q188.7 596 189.9 596.5M131.7 588.5Q131 589.8 131.6 591.2M271.3 601.5Q272.1 602 272.8 602.7M104.7 595.9Q104.7 596.4 104.7 597M141.7 611.2Q142.8 611.1 143.6 611.8M58.9 626.1Q60.2 625.7 61.5 625.7" fill="none" stroke="#d04818" stroke-width="3.9" stroke-linecap="round" opacity="0.15"/><path d="M111.5 575.2Q111.4 575.8 111.5 576.4M125.3 594Q125.2 594.6 124.9 595.2M127.9 591.2Q128.4 590.7 128.4 590M222.3 664.4Q222.8 663.4 223.8 662.9M203.5 578.1Q204.2 577.5 205 577.2M153.8 605.8Q154.9 606.4 156.1 606.7M182.2 609.3Q183.3 609.3 184.1 610M183.7 638.6Q184 638.1 184.4 637.7M169.4 575.2Q170.6 575.4 171.7 575M134.8 600.1Q134.9 601.3 134.7 602.4M162.9 631.3Q163.8 632.6 163.3 634M154.6 574.2Q155.4 574.2 156 573.6M164.4 593.6Q164 594.6 164 595.7M198.1 633.3Q197.6 634.6 197.2 635.9M97.6 560.4Q98.2 560.8 98.8 561M182.4 603.8Q183 603.4 183.5 602.9M123.3 613.3Q123.6 614.3 123.4 615.3" fill="none" stroke="#d04818" stroke-width="6" stroke-linecap="round" opacity="0.10"/><path d="M186.7 569.7Q188.1 569.8 189 570.9M151.3 588.9Q151.5 588.1 152.1 587.6M102 578.5Q102.6 578.5 103.2 578.5M72 591.2Q72.4 590.4 73 589.9M205.3 613.5Q205.1 614.4 204.9 615.3M162.6 569Q162.7 570.1 163.5 570.8M146 573.7Q145.9 574.3 145.7 574.8M39.8 609.3Q40.3 608.9 40.5 608.3M173.6 593.5Q173.9 594.7 174.6 595.8" fill="none" stroke="#ec7446" stroke-width="3" stroke-linecap="round" opacity="0.19"/><path d="M401.3 461.5Q401.7 460.8 401.8 460M419.4 466.4Q419.8 465.8 420 465.2M406.8 467.8Q406.9 468.2 407.4 468.4M385.6 458.7Q386 458.5 386.4 458.3M402.4 464Q402.3 464.9 402.4 465.7M337.6 453Q338.2 453.2 338.8 453.5M407 476.9Q407.1 476 407.5 475.3M405.1 469.7Q406.1 469.6 407.1 469.6M403 473.8Q403.6 473.5 404.2 473.5M424.6 476.1Q425.3 476.8 425.6 477.7M387 460.9Q387.5 460.8 387.8 461.1M352.4 476.7Q352.9 475.9 353.3 474.9M385.1 456.7Q385.3 457.3 385.2 458M390.2 462.5Q390.8 462.9 390.8 463.6M466.9 470.2Q466.7 471 466.9 471.7" fill="none" stroke="#d04818" stroke-width="2.8" stroke-linecap="round" opacity="0.16"/><path d="M425.9 461Q426.6 460.9 427 460.4M397 479.7Q397.9 479.2 398.8 478.8M401.8 467.1Q402.5 467.6 403.1 468.2M448.2 462.3Q448.8 462 449.1 461.4M401.8 459.2Q401.7 459.7 402 460.2M363.6 480.5Q364.3 480.9 364.5 481.7M419.8 474.3Q420 474.9 420.2 475.5M365.1 470.4Q366.2 470.5 366.8 471.4M424.7 468.7Q425.1 467.8 426 467.4M386.4 456.5Q386.8 456.4 387.2 456.6M431.8 474.8Q432.6 475.1 433.4 475.2M450.9 464.6Q451.9 464.1 453 464.2M361.6 467.8Q362.1 466.9 362.1 465.8M417.2 466.7Q417.4 467.6 417.3 468.4M365.9 466.5Q366.7 466.5 367.4 466.1" fill="none" stroke="#d04818" stroke-width="3.6" stroke-linecap="round" opacity="0.20"/><path d="M356.7 465.5Q357.2 464.8 357.4 463.9M367.1 458.7Q368 458.6 368.5 457.9M418.2 466Q418.8 466.8 419.3 467.8M428.3 464Q428.4 464.5 428.3 465M398.1 470.6Q398.9 471.1 399.3 471.9M370.7 463.8Q371.7 463.6 372.7 463.5M371.4 458.2Q371.5 458.9 371.6 459.6M432.7 462.7Q432.4 463.5 432.9 464.3M408.7 464.2Q409.7 464.1 410.5 463.5M436 461.2Q436.6 460.7 437.2 460.2M394.4 478.9Q394.9 477.9 396 477.5M409 472.7Q409.7 473.2 409.8 474.2M387.4 471.6Q387.8 470.8 387.6 470M413.1 470Q413.4 469.4 413.9 469M452.4 467.3Q452.8 466.5 453.6 466" fill="none" stroke="#d04818" stroke-width="5.6" stroke-linecap="round" opacity="0.13"/><path d="M364.2 469.1Q364.8 469.4 365.4 469.8M396.7 462.1Q396.7 462.7 397 463.2M378.9 474.9Q379.1 474.1 379.8 473.6M429.4 472.2Q429.4 472.9 430 473.4M396.3 461.6Q396.8 462.4 396.9 463.4M370.3 470.1Q370.5 470.7 370.4 471.3M388.3 485.5Q388.6 485.2 389 485" fill="none" stroke="#ec7446" stroke-width="2.8" stroke-linecap="round" opacity="0.25"/><path d="M278.1 606.2Q288.6 602.5 299.6 600.8M286.6 602.7Q297.6 604.2 308.7 605M291.1 607.9Q300.3 608.5 309.1 606.1" fill="none" stroke="#d04818" stroke-width="1.5" stroke-linecap="round" opacity="0.28"/><path d="M312.2 604.3Q318.9 611.3 326.8 616.8M308.8 610.4Q314 620.4 322.8 627.3M311.9 593.9Q315.6 600.2 322.8 601.4" fill="none" stroke="#d04818" stroke-width="2" stroke-linecap="round" opacity="0.35"/><path d="M284 599.1Q288.3 602.6 291.9 606.8M291.3 589.5Q298.1 597.7 308.6 599.9M282.9 608.3Q289.6 611.7 297.1 610.6" fill="none" stroke="#d04818" stroke-width="3" stroke-linecap="round" opacity="0.23"/><path d="M299.7 611.4Q308.5 615.3 317.7 618.3M286.9 597.5Q290.8 605.3 299.2 607.8" fill="none" stroke="#ec7446" stroke-width="1.5" stroke-linecap="round" opacity="0.44"/><path d="M176 530C178.7 531.3 186.5 535.2 192 538C197.5 540.8 204.3 543.8 209 547C213.7 550.2 218.2 555.3 220 557" fill="none" stroke="#ffc0a4" stroke-width="1.6" stroke-linecap="round" stroke-linejoin="round" opacity="0.75"/><path d="M400 525C402 525.8 407.4 527 412 529.6C416.6 532.2 423.8 536.4 427.4 540.4C431 544.4 432.8 551.3 433.9 553.5" fill="none" stroke="#ffd0b8" stroke-width="2" stroke-linecap="round" stroke-linejoin="round" opacity="0.95"/></g>
<g filter="url(#bS)"><ellipse cx="148.5" cy="441.3" rx="4.1" ry="4.1" fill="#d8501c" opacity="0.7"/><ellipse cx="76.3" cy="451.5" rx="4.1" ry="4.1" fill="#d8501c" opacity="0.7"/><path d="M202.4 462.4C203 462.3 204.9 462 206 462C207.1 462 208.4 462.2 208.9 462.2" fill="none" stroke="#ff8a5a" stroke-width="5.6" stroke-linecap="round" stroke-linejoin="round" opacity="0.9"/><path d="M249.1 467.4C250.2 467.6 253.6 468 256 468.4C258.4 468.8 262.1 469.6 263.3 469.8" fill="none" stroke="#ff8a5a" stroke-width="5.4" stroke-linecap="round" stroke-linejoin="round" opacity="0.9"/><ellipse cx="201.3" cy="488.5" rx="4.3" ry="4.3" fill="#d8501c" opacity="0.7"/><ellipse cx="207.8" cy="485.9" rx="4.3" ry="4.3" fill="#d8501c" opacity="0.7"/><ellipse cx="211.5" cy="489.8" rx="4.3" ry="4.3" fill="#d8501c" opacity="0.7"/><path d="M244.8 486.2L247 490" fill="none" stroke="#c84010" stroke-width="4.3" stroke-linecap="round" stroke-linejoin="round" opacity="0.65"/><path d="M148 462C151.3 463.2 161.5 466.5 168 469C174.5 471.5 180 475 187 477C194 479 202.7 479.9 210 481C217.3 482.1 227.2 483.2 230.7 483.7" fill="none" stroke="#d04c1c" stroke-width="3.5" stroke-linecap="round" stroke-linejoin="round" opacity="0.6"/><path d="M182 475C183.7 475.5 188.7 477.2 192 478C195.3 478.8 200.3 479.7 202 480" fill="none" stroke="#c84010" stroke-width="4.2" stroke-linecap="round" stroke-linejoin="round" opacity="0.65"/><path d="M219.8 470.7C221.2 471.1 225.5 472.1 228 473C230.5 473.9 233.8 475.5 235 476" fill="none" stroke="#ff8a5a" stroke-width="4.5" stroke-linecap="round" stroke-linejoin="round" opacity="0.9"/><path d="M187.2 488C188.5 487.9 192.5 487.5 195 487.5C197.5 487.5 201.2 487.9 202.4 488" fill="none" stroke="#d04c1c" stroke-width="3.3" stroke-linecap="round" stroke-linejoin="round" opacity="0.6"/><path d="M172.3 503C172.5 504.5 173.3 508.8 173.5 512C173.7 515.2 173.4 519.5 173.3 522C173.2 524.5 172.9 526.2 172.8 527" fill="none" stroke="#ff8a5a" stroke-width="7.6" stroke-linecap="round" stroke-linejoin="round" opacity="0.9"/><path d="M172.8 524L172.6 533" fill="none" stroke="#ff8a5a" stroke-width="5" stroke-linecap="round" stroke-linejoin="round" opacity="0.9"/><path d="M182.8 537.5L184.8 543" fill="none" stroke="#ff8a5a" stroke-width="4.4" stroke-linecap="round" stroke-linejoin="round" opacity="0.9"/><ellipse cx="158.5" cy="555.7" rx="4.1" ry="4.1" fill="#d8501c" opacity="0.7"/><path d="M174 529.6C177 531 186.2 535.1 192 538C197.8 540.9 204 543.5 209 547C214 550.5 219.8 557 222 559" fill="none" stroke="#d04c1c" stroke-width="3.3" stroke-linecap="round" stroke-linejoin="round" opacity="0.6"/><path d="M262.2 469.6L268 468.5" fill="none" stroke="#ff8a5a" stroke-width="5" stroke-linecap="round" stroke-linejoin="round" opacity="0.9"/><path d="M309 474C309.4 474.7 310.8 476.6 311.5 478C312.2 479.4 313 481.8 313.3 482.6" fill="none" stroke="#ff8a5a" stroke-width="5.2" stroke-linecap="round" stroke-linejoin="round" opacity="0.9"/><path d="M298.5 487.3L302 486.5" fill="none" stroke="#c84010" stroke-width="4.2" stroke-linecap="round" stroke-linejoin="round" opacity="0.65"/><path d="M362.2 500C364.7 501.3 372.7 504.9 377.4 507.6C382.1 510.3 388.2 514.8 390.4 516.3" fill="none" stroke="#ff8a5a" stroke-width="5.2" stroke-linecap="round" stroke-linejoin="round" opacity="0.9"/><path d="M378 508C380.1 509.4 386.9 513.6 390.4 516.3C393.9 519 397.6 522.7 399 524" fill="none" stroke="#ff8a5a" stroke-width="8.5" stroke-linecap="round" stroke-linejoin="round" opacity="0.9"/><path d="M400 525C402 525.8 407.4 527 412 529.6C416.6 532.2 423.8 536.4 427.4 540.4C431 544.4 432.8 551.3 433.9 553.5" fill="none" stroke="#d04c1c" stroke-width="3.3" stroke-linecap="round" stroke-linejoin="round" opacity="0.6"/><path d="M400 525C402 525.8 407.4 527 412 529.6C416.6 532.2 423.8 536.4 427.4 540.4C431 544.4 432.8 551.3 433.9 553.5" fill="none" stroke="#c84010" stroke-width="4.3" stroke-linecap="round" stroke-linejoin="round" opacity="0.7"/><path d="M460.5 585.5L463.8 591" fill="none" stroke="#ff8a5a" stroke-width="4.5" stroke-linecap="round" stroke-linejoin="round" opacity="0.9"/><ellipse cx="398" cy="563.3" rx="3.7" ry="3.7" fill="#d8501c" opacity="0.7"/><ellipse cx="347" cy="538.3" rx="3.6" ry="3.6" fill="#d8501c" opacity="0.7"/><path d="M347 538.3C348.4 540.1 352.8 545.9 355.7 549C358.6 552.1 360.5 553.4 364.3 556.7C368.1 560 376.5 565.6 378.5 568.7C380.5 571.8 376.7 574.1 376.3 575.2" fill="none" stroke="#d04c1c" stroke-width="3.3" stroke-linecap="round" stroke-linejoin="round" opacity="0.6"/><ellipse cx="352" cy="544" rx="3.2" ry="3.2" fill="#d8501c" opacity="0.7"/><ellipse cx="359" cy="552" rx="3.1" ry="3.1" fill="#d8501c" opacity="0.7"/><ellipse cx="377" cy="569" rx="3.3" ry="3.3" fill="#d8501c" opacity="0.7"/><path d="M333.9 617.6C335.4 617.3 340.1 616 343 616C345.9 616 347.4 616.4 351.3 617.6C355.2 618.8 364 622.1 366.5 623" fill="none" stroke="#d04c1c" stroke-width="3.3" stroke-linecap="round" stroke-linejoin="round" opacity="0.6"/><path d="M336 617C337.2 616.8 340.7 616 343 616C345.3 616 348.8 617 350 617.2" fill="none" stroke="#c84010" stroke-width="4" stroke-linecap="round" stroke-linejoin="round" opacity="0.65"/><path d="M465 564C465.7 563.7 467.8 562.7 469 562C470.2 561.3 471.5 560.3 472 560" fill="none" stroke="#c84010" stroke-width="4.4" stroke-linecap="round" stroke-linejoin="round" opacity="0.65"/><path d="M150 468C145 467 129.2 461.7 120 462C110.8 462.3 103.3 465.3 95 470C86.7 474.7 74.2 486.7 70 490" fill="none" stroke="#d04c1c" stroke-width="2.5" stroke-linecap="round" stroke-linejoin="round" opacity="0.6"/><path d="M300 500C305 499.7 320 497.2 330 498C340 498.8 355 503.8 360 505" fill="none" stroke="#d04c1c" stroke-width="2.5" stroke-linecap="round" stroke-linejoin="round" opacity="0.6"/><path d="M400 480C406.7 478.3 426.7 468.3 440 470C453.3 471.7 473.3 486.7 480 490" fill="none" stroke="#d04c1c" stroke-width="2.5" stroke-linecap="round" stroke-linejoin="round" opacity="0.6"/><path d="M410 600C415 598.3 430 590 440 590C450 590 465 598.3 470 600" fill="none" stroke="#d04c1c" stroke-width="2.5" stroke-linecap="round" stroke-linejoin="round" opacity="0.6"/><ellipse cx="274" cy="533.2" rx="5.1" ry="5.1" fill="#d8501c" opacity="0.7"/><ellipse cx="222.6" cy="560.5" rx="4.1" ry="4.1" fill="#d8501c" opacity="0.7"/><ellipse cx="273" cy="606.8" rx="4.7" ry="4.7" fill="#d8501c" opacity="0.7"/><path d="M344.5 576L343.8 581" fill="none" stroke="#ff8a5a" stroke-width="5.2" stroke-linecap="round" stroke-linejoin="round" opacity="0.9"/></g>
<g filter="url(#bT)"><ellipse cx="148.5" cy="441.3" rx="1.6" ry="1.6" fill="#fff"/><ellipse cx="76.3" cy="451.5" rx="1.6" ry="1.6" fill="#fff"/><path d="M202.4 462.4C203 462.3 204.9 462 206 462C207.1 462 208.4 462.2 208.9 462.2" fill="none" stroke="#fff" stroke-width="2.6" stroke-linecap="round" stroke-linejoin="round"/><path d="M249.1 467.4C250.2 467.6 253.6 468 256 468.4C258.4 468.8 262.1 469.6 263.3 469.8" fill="none" stroke="#fff" stroke-width="2.4" stroke-linecap="round" stroke-linejoin="round"/><ellipse cx="201.3" cy="488.5" rx="1.8" ry="1.8" fill="#fff"/><ellipse cx="207.8" cy="485.9" rx="1.8" ry="1.8" fill="#fff"/><ellipse cx="211.5" cy="489.8" rx="1.8" ry="1.8" fill="#fff"/><path d="M244.8 486.2L247 490" fill="none" stroke="#ffd8c4" stroke-width="2" stroke-linecap="round" stroke-linejoin="round" opacity="0.95"/><path d="M182 475C183.7 475.5 188.7 477.2 192 478C195.3 478.8 200.3 479.7 202 480" fill="none" stroke="#ffd8c4" stroke-width="1.9" stroke-linecap="round" stroke-linejoin="round" opacity="0.95"/><path d="M219.8 470.7C221.2 471.1 225.5 472.1 228 473C230.5 473.9 233.8 475.5 235 476" fill="none" stroke="#fff" stroke-width="1.5" stroke-linecap="round" stroke-linejoin="round"/><path d="M172.3 503C172.5 504.5 173.3 508.8 173.5 512C173.7 515.2 173.4 519.5 173.3 522C173.2 524.5 172.9 526.2 172.8 527" fill="none" stroke="#fff" stroke-width="4.6" stroke-linecap="round" stroke-linejoin="round"/><path d="M172.8 524L172.6 533" fill="none" stroke="#fff" stroke-width="2" stroke-linecap="round" stroke-linejoin="round"/><path d="M182.8 537.5L184.8 543" fill="none" stroke="#fff" stroke-width="1.4" stroke-linecap="round" stroke-linejoin="round"/><ellipse cx="158.5" cy="555.7" rx="1.6" ry="1.6" fill="#fff"/><path d="M262.2 469.6L268 468.5" fill="none" stroke="#fff" stroke-width="2" stroke-linecap="round" stroke-linejoin="round"/><path d="M309 474C309.4 474.7 310.8 476.6 311.5 478C312.2 479.4 313 481.8 313.3 482.6" fill="none" stroke="#fff" stroke-width="2.2" stroke-linecap="round" stroke-linejoin="round"/><path d="M298.5 487.3L302 486.5" fill="none" stroke="#ffd8c4" stroke-width="1.9" stroke-linecap="round" stroke-linejoin="round" opacity="0.95"/><path d="M362.2 500C364.7 501.3 372.7 504.9 377.4 507.6C382.1 510.3 388.2 514.8 390.4 516.3" fill="none" stroke="#fff" stroke-width="2.2" stroke-linecap="round" stroke-linejoin="round"/><path d="M378 508C380.1 509.4 386.9 513.6 390.4 516.3C393.9 519 397.6 522.7 399 524" fill="none" stroke="#fff" stroke-width="5.5" stroke-linecap="round" stroke-linejoin="round"/><path d="M460.5 585.5L463.8 591" fill="none" stroke="#fff" stroke-width="1.5" stroke-linecap="round" stroke-linejoin="round"/><ellipse cx="398" cy="563.3" rx="1.2" ry="1.2" fill="#fff"/><ellipse cx="347" cy="538.3" rx="1.1" ry="1.1" fill="#fff"/><ellipse cx="352" cy="544" rx="0.7" ry="0.7" fill="#ffc8b0"/><ellipse cx="359" cy="552" rx="0.6" ry="0.6" fill="#ffc8b0"/><ellipse cx="377" cy="569" rx="0.8" ry="0.8" fill="#ffc8b0"/><path d="M336 617C337.2 616.8 340.7 616 343 616C345.3 616 348.8 617 350 617.2" fill="none" stroke="#ffd8c4" stroke-width="1.7" stroke-linecap="round" stroke-linejoin="round" opacity="0.95"/><path d="M465 564C465.7 563.7 467.8 562.7 469 562C470.2 561.3 471.5 560.3 472 560" fill="none" stroke="#ffd8c4" stroke-width="2.1" stroke-linecap="round" stroke-linejoin="round" opacity="0.95"/><path d="M205.7 461C206.3 460.1 209.1 459 210.5 459.9C211.9 460.8 213.6 464 214.3 466.3C215 468.6 215.3 473 214.7 473.8C214.1 474.6 211.8 472.6 210.5 471.2C209.2 469.8 207.6 467.2 206.8 465.5C206 463.8 205.1 461.9 205.7 461Z" fill="#fff"/><ellipse cx="274" cy="533.2" rx="2.6" ry="2.6" fill="#fff"/><ellipse cx="222.6" cy="560.5" rx="1.6" ry="1.6" fill="#ffc8b0"/><ellipse cx="273" cy="606.8" rx="2.2" ry="2.2" fill="#ffc8b0"/><path d="M344.5 576L343.8 581" fill="none" stroke="#fff" stroke-width="2.2" stroke-linecap="round" stroke-linejoin="round"/></g>
<g><ellipse cx="182.4" cy="490.2" rx="2.8" ry="2.8" fill="#000" transform="rotate(30 182.4 490.2)"/><ellipse cx="51.3" cy="445.7" rx="4" ry="1.5" fill="#000" transform="rotate(-15 51.3 445.7)"/><ellipse cx="99.1" cy="522.4" rx="3" ry="2" fill="#000"/><path d="M134.5 553.7L148.5 550.7L142.9 560.7L140.1 558.7Z" fill="#000"/><ellipse cx="241.5" cy="602.4" rx="3.8" ry="2.4" fill="#000"/><ellipse cx="256.7" cy="644.8" rx="1.2" ry="1" fill="#000"/><ellipse cx="452.4" cy="446.3" rx="5" ry="2.3" fill="#000" transform="rotate(-50 452.4 446.3)"/><ellipse cx="479.6" cy="405.4" rx="3.5" ry="1.3" fill="#000" transform="rotate(10 479.6 405.4)"/><ellipse cx="485" cy="568.3" rx="7" ry="4" fill="#000"/><ellipse cx="321.5" cy="544.1" rx="1.6" ry="1.4" fill="#000"/><ellipse cx="230" cy="520" rx="2" ry="1" fill="#000"/></g>
<g><path d="M206.7 462C207.1 461.3 208.9 460.2 210 460.9C211.1 461.6 212.7 464.3 213.3 466.3C213.9 468.3 214.1 472.1 213.7 472.8C213.3 473.5 212.1 472 211.1 470.7C210.1 469.4 208.5 466.6 207.8 465.2C207.1 463.8 206.3 462.7 206.7 462Z" fill="none" stroke="#1eff1e" stroke-width="1.6" stroke-linecap="round" stroke-linejoin="round"/><ellipse cx="200.2" cy="462.6" rx="1.2" ry="1.2" fill="#1eff1e"/><ellipse cx="255.2" cy="468.5" rx="2.4" ry="2.4" fill="#1eff1e"/><ellipse cx="165" cy="493.5" rx="2.2" ry="2.8" fill="#1eff1e"/><path d="M173.3 506.5C174 507 175.3 509.8 175.6 512C175.8 514.2 175.3 518.3 174.8 520C174.3 521.7 173.2 522.7 172.6 522C172 521.3 171.5 518.2 171.3 516C171.1 513.8 171.3 510.6 171.6 509C171.9 507.4 172.6 506 173.3 506.5Z" fill="none" stroke="#1eff1e" stroke-width="1.1" stroke-linecap="round" stroke-linejoin="round"/><ellipse cx="128.9" cy="527" rx="2.9" ry="2.4" fill="#1eff1e" transform="rotate(-30 128.9 527)"/><ellipse cx="301.3" cy="473.5" rx="1.9" ry="1.9" fill="#1eff1e"/><path d="M390 515.2C390.6 515.2 391.8 518.5 391.8 520C391.8 521.5 390.6 524 390 524C389.4 524 388 521.5 388 520C388 518.5 389.4 515.2 390 515.2Z" fill="none" stroke="#1eff1e" stroke-width="1.1" stroke-linecap="round" stroke-linejoin="round"/><path d="M435.7 555C436.4 555 437.9 556.5 437.9 557.2C437.9 557.9 436.4 559.4 435.7 559.4C435 559.4 433.5 557.9 433.5 557.2C433.5 556.5 435 555 435.7 555Z" fill="none" stroke="#1eff1e" stroke-width="1.2" stroke-linecap="round" stroke-linejoin="round"/><path d="M222.4 558.7C223.1 558.7 224.4 560 224.4 560.7C224.4 561.4 223.1 562.7 222.4 562.7C221.7 562.7 220.4 561.4 220.4 560.7C220.4 560 221.7 558.7 222.4 558.7Z" fill="none" stroke="#1eff1e" stroke-width="1.2" stroke-linecap="round" stroke-linejoin="round"/><ellipse cx="271" cy="534" rx="1.9" ry="2.4" fill="#1eff1e"/><path d="M272.6 604.7C273.4 604.7 275.1 606.4 275.1 607.2C275.1 608 273.4 609.7 272.6 609.7C271.8 609.7 270.1 608 270.1 607.2C270.1 606.4 271.8 604.7 272.6 604.7Z" fill="none" stroke="#1eff1e" stroke-width="1.3" stroke-linecap="round" stroke-linejoin="round"/><ellipse cx="343.5" cy="577.5" rx="1.2" ry="1.2" fill="#1eff1e"/></g></g>
</g>
<line x1="272.6" y1="19.8" x2="272.6" y2="293.5" stroke="#1a0300" stroke-width="1.2" opacity="0.6"/>
<line x1="272.6" y1="20.5" x2="272.6" y2="293.5" stroke="#fff" stroke-width="2" stroke-dasharray="16.6 15.6"/>
<g transform="translate(0,-363.5)"><path d="M263 533.9L272.6 524.3L282.2 533.9L272.6 543.5Z" fill="none" stroke="#0a0ae6" stroke-width="2" stroke-linejoin="miter"/><path d="M263 607.2L272.6 597.6L282.2 607.2L272.6 616.8Z" fill="none" stroke="#0a0ae6" stroke-width="2" stroke-linejoin="miter"/><path d="M212.8 560.7L222.4 551.1L232 560.7L222.4 570.3Z" fill="none" stroke="#0a0ae6" stroke-width="2" stroke-linejoin="miter"/><path d="M334.5 579.1L344.1 569.5L353.7 579.1L344.1 588.7Z" fill="none" stroke="#0a0ae6" stroke-width="2" stroke-linejoin="miter"/><text x="282.4" y="524.1" font-size="12.8" fill="#fff" textLength="25.4" lengthAdjust="spacing">EE3</text><text x="282.4" y="595.9" font-size="12.8" fill="#fff" textLength="25.4" lengthAdjust="spacing">EE4</text></g>
<rect x="45.0" y="19.8" width="449.0" height="273.7" fill="none" stroke="#000" stroke-width="1.2"/>
<rect x="499.5" y="19.8" width="77.5" height="273.7" fill="#fff" stroke="none"/>
<g clip-path="url(#clipS)"><g transform="translate(0,-363.5)"><g filter="url(#bSp)"><ellipse cx="536.3" cy="462.7" rx="8" ry="3" fill="#ff8a28" opacity="0.25"/><ellipse cx="537.5" cy="520" rx="2" ry="6" fill="#ff8a28" opacity="0.12"/><ellipse cx="535.5" cy="533" rx="11" ry="3.2" fill="#ff8a28" opacity="0.75"/><ellipse cx="537.6" cy="606" rx="12" ry="2.8" fill="#ff8a28" opacity="0.75"/><ellipse cx="537.6" cy="598" rx="3" ry="5" fill="#ff8a28" opacity="0.15"/></g><g filter="url(#bT)"><path d="M528.5 533Q534.5 529.8 539.5 533Q534.5 536.2 528.5 533Z" fill="#d63a00" opacity="0.95"/><path d="M529.5 606.2Q537.5 603.4 544.5 606.2Q537.5 609 529.5 606.2Z" fill="#d63a00" opacity="0.95"/></g><line x1="508" y1="533.8" x2="568" y2="533.8" stroke="#1a1aff" stroke-width="1.7" stroke-dasharray="3.6 7.6"/><line x1="508" y1="606.5" x2="568" y2="606.5" stroke="#1a1aff" stroke-width="1.7" stroke-dasharray="3.6 7.6"/></g></g>
<line x1="537.8" y1="20.5" x2="537.8" y2="293.5" stroke="#0c0c0c" stroke-width="1.9" stroke-dasharray="16.6 15.6"/>
<rect x="499.5" y="19.8" width="77.5" height="273.7" fill="none" stroke="#111" stroke-width="1.5"/>
<line x1="500.5" y1="21.8" x2="500.5" y2="293.5" stroke="#111" stroke-width="1.4" stroke-dasharray="1 4.2"/>
<line x1="576.0" y1="21.8" x2="576.0" y2="293.5" stroke="#111" stroke-width="1.4" stroke-dasharray="1 4.2"/>
<line x1="543.8" y1="289.5" x2="543.8" y2="293.5" stroke="#111" stroke-width="1"/>
<text x="174.8" y="14.4" font-size="13.6" text-anchor="start" fill="#222" textLength="18.8" lengthAdjust="spacingAndGlyphs">SJI</text>
<text x="202.6" y="14.4" font-size="13.6" text-anchor="start" fill="#222" textLength="33" lengthAdjust="spacingAndGlyphs">1400</text>
<text x="242.8" y="14.4" font-size="13.6" text-anchor="start" fill="#222" textLength="8.8" lengthAdjust="spacingAndGlyphs">Å</text>
<text x="256.3" y="14.4" font-size="13.6" text-anchor="start" fill="#222" textLength="82.8" lengthAdjust="spacingAndGlyphs">02:44:38.57</text>
<text x="346.6" y="14.4" font-size="13.6" text-anchor="start" fill="#222" textLength="15.6" lengthAdjust="spacingAndGlyphs">UT</text>
<text x="41" y="88.6" font-size="11.3" text-anchor="end" fill="#222" textLength="20.8" lengthAdjust="spacing">600</text>
<line x1="45.0" y1="84.6" x2="49.0" y2="84.6" stroke="#000" stroke-width="1"/>
<text x="41" y="163.3" font-size="11.3" text-anchor="end" fill="#222" textLength="20.8" lengthAdjust="spacing">580</text>
<line x1="45.0" y1="159.3" x2="49.0" y2="159.3" stroke="#000" stroke-width="1"/>
<text x="41" y="238" font-size="11.3" text-anchor="end" fill="#222" textLength="20.8" lengthAdjust="spacing">560</text>
<line x1="45.0" y1="234" x2="49.0" y2="234" stroke="#000" stroke-width="1"/>
<text x="81.1" y="310.3" font-size="11.3" text-anchor="middle" fill="#222" textLength="20.8" lengthAdjust="spacing">280</text>
<line x1="81.1" y1="293.5" x2="81.1" y2="289.5" stroke="#000" stroke-width="1"/>
<text x="161.8" y="310.3" font-size="11.3" text-anchor="middle" fill="#222" textLength="20.8" lengthAdjust="spacing">300</text>
<line x1="161.8" y1="293.5" x2="161.8" y2="289.5" stroke="#000" stroke-width="1"/>
<text x="242.5" y="310.3" font-size="11.3" text-anchor="middle" fill="#222" textLength="20.8" lengthAdjust="spacing">320</text>
<line x1="242.5" y1="293.5" x2="242.5" y2="289.5" stroke="#000" stroke-width="1"/>
<text x="323.2" y="310.3" font-size="11.3" text-anchor="middle" fill="#222" textLength="20.8" lengthAdjust="spacing">340</text>
<line x1="323.2" y1="293.5" x2="323.2" y2="289.5" stroke="#000" stroke-width="1"/>
<text x="403.9" y="310.3" font-size="11.3" text-anchor="middle" fill="#222" textLength="20.8" lengthAdjust="spacing">360</text>
<line x1="403.9" y1="293.5" x2="403.9" y2="289.5" stroke="#000" stroke-width="1"/>
<text x="484.6" y="310.3" font-size="11.3" text-anchor="middle" fill="#222" textLength="20.8" lengthAdjust="spacing">380</text>
<line x1="484.6" y1="293.5" x2="484.6" y2="289.5" stroke="#000" stroke-width="1"/>
<text x="222" y="323.4" font-size="11" text-anchor="start" fill="#222" textLength="42.8" lengthAdjust="spacingAndGlyphs">Position</text>
<text x="270.9" y="323.4" font-size="11" text-anchor="start" fill="#222" textLength="45" lengthAdjust="spacingAndGlyphs">(arcsec)</text>
<g transform="translate(11.4,204) rotate(-90)"><text x="0" y="0" font-size="11" fill="#222" textLength="42" lengthAdjust="spacingAndGlyphs">Position</text><text x="49.3" y="0" font-size="11" fill="#222" textLength="45" lengthAdjust="spacingAndGlyphs">(arcsec)</text></g>
<text x="544.6" y="310.3" font-size="11.3" text-anchor="middle" fill="#222" textLength="27.6" lengthAdjust="spacing">1403</text>
<text x="498.4" y="323.4" font-size="11" text-anchor="start" fill="#222" textLength="58.3" lengthAdjust="spacingAndGlyphs">wavelength</text>
<text x="564.2" y="323.4" font-size="11" text-anchor="start" fill="#222" textLength="12.9" lengthAdjust="spacingAndGlyphs">(Å)</text>
<text x="51.2" y="284.4" font-size="15.5" text-anchor="start" fill="#fff" textLength="21.5" lengthAdjust="spacing">(c)</text>
</g>
<g transform="translate(665.5,363.5)">
<g clip-path="url(#clipI)">
<rect x="45.0" y="19.8" width="449.0" height="273.7" fill="url(#bg0)"/><rect x="45.0" y="19.8" width="449.0" height="273.7" filter="url(#tex)" opacity="0.25"/><rect x="45.0" y="19.8" width="449.0" height="273.7" filter="url(#tex2)" opacity="0.6"/><g transform="rotate(20 270 156)"><rect x="-40" y="-120" width="640" height="560" filter="url(#fib)" opacity="0.12"/></g><g transform="rotate(-26 270 156)"><rect x="-40" y="-120" width="640" height="560" filter="url(#fib2)" opacity="0.1"/></g><g><ellipse cx="60" cy="290" rx="135" ry="39" fill="url(#rg0c0000)" opacity="0.6"/><ellipse cx="270" cy="296" rx="390" ry="18" fill="url(#rg0c0000)" opacity="0.5"/></g>
<g transform="translate(-665.5,-363.5)"><g><ellipse cx="940" cy="396" rx="450" ry="57" fill="url(#rg160000)" opacity="0.9"/><ellipse cx="800" cy="620" rx="180" ry="75" fill="url(#rg160000)" opacity="0.55"/><ellipse cx="1100" cy="430" rx="120" ry="60" fill="url(#rg160000)" opacity="0.45"/><ellipse cx="800" cy="465" rx="135" ry="45" fill="url(#rgb82404)" opacity="0.5"/><ellipse cx="890" cy="500" rx="105" ry="45" fill="url(#rgb82404)" opacity="0.5"/><ellipse cx="990" cy="510" rx="90" ry="45" fill="url(#rgb82404)" opacity="0.45"/><ellipse cx="1060" cy="560" rx="90" ry="52.5" fill="url(#rgb82404)" opacity="0.45"/><ellipse cx="1110" cy="600" rx="75" ry="67.5" fill="url(#rgb82404)" opacity="0.4"/><ellipse cx="960" cy="570" rx="60" ry="45" fill="url(#rga01200)" opacity="0.22"/><ellipse cx="850" cy="560" rx="120" ry="45" fill="url(#rga01200)" opacity="0.2"/><ellipse cx="735" cy="510" rx="21" ry="75" fill="url(#rga01200)" opacity="0.28"/><ellipse cx="1040" cy="500" rx="60" ry="27" fill="url(#rga01200)" opacity="0.22"/><ellipse cx="960" cy="470" rx="60" ry="21" fill="url(#rga01200)" opacity="0.22"/></g>
<g filter="url(#bM)"><ellipse cx="1022" cy="475" rx="26" ry="14" fill="#160000" opacity="0.5"/><path d="M751 451C752.7 449.2 757 443.3 761 440.5C765 437.7 770.2 435.3 775 434C779.8 432.7 785.3 432.2 790 432.5C794.7 432.8 799.3 434 803 435.5C806.7 437 810.2 439.8 812 441.5C813.8 443.2 813.7 445.2 814 446" fill="none" stroke="#e05a28" stroke-width="19" stroke-linecap="round" stroke-linejoin="round" opacity="0.8"/><path d="M749 463C752 464.6 760.2 469.5 767 472.5C773.8 475.5 783.2 478.8 790 481C796.8 483.2 802 484.7 808 485.5C814 486.3 821 486.2 826 486C831 485.8 836 484.3 838 484" fill="none" stroke="#e05a28" stroke-width="24" stroke-linecap="round" stroke-linejoin="round" opacity="0.8"/><path d="M836 488C836.5 490.8 837.8 500.3 839 505C840.2 509.7 840.3 513.1 843 516C845.7 518.9 850 521 855 522.5C860 524 867.5 525.3 873 525C878.5 524.7 882.8 522.9 888 520.5C893.2 518.1 898.8 514 904 510.5C909.2 507 913.8 502.4 919 499.5C924.2 496.6 930.8 494.4 935 493C939.2 491.6 942.5 491.5 944 491.2" fill="none" stroke="#e05a28" stroke-width="20" stroke-linecap="round" stroke-linejoin="round" opacity="0.8"/><path d="M944 491.2C945.8 491.4 950.2 491.8 955 492.5C959.8 493.2 967.3 493.8 973 495.5C978.7 497.2 984.5 499.7 989 502.5C993.5 505.3 996.2 508.3 1000 512.5C1003.8 516.7 1008.2 522.1 1012 527.5C1015.8 532.9 1018.7 539.6 1023 545C1027.3 550.4 1033.5 555.7 1038 560C1042.5 564.3 1048 569.2 1050 571" fill="none" stroke="#e05a28" stroke-width="18" stroke-linecap="round" stroke-linejoin="round" opacity="0.8"/><path d="M1050 571C1051.7 571 1057 571.8 1060 571C1063 570.2 1065.2 567.7 1068 566C1070.8 564.3 1075.5 561.8 1077 561" fill="none" stroke="#e05a28" stroke-width="16" stroke-linecap="round" stroke-linejoin="round" opacity="0.8"/><path d="M818 473C819.3 470.4 825.3 472.2 830 472.5C834.7 472.8 840.7 474.8 846 475C851.3 475.2 858 473.8 862 474C866 474.2 868.1 474.9 870 476.5C871.9 478.1 873.5 480.9 873.5 483.5C873.5 486.1 872.6 490.2 870 492C867.4 493.8 861.2 493.3 858 494.5C854.8 495.7 854 498.4 851 499C848 499.6 843.5 498.8 840 498C836.5 497.2 833 495.7 830 494C827 492.3 824 491.5 822 488C820 484.5 816.7 475.6 818 473Z" fill="#e05a28" stroke="#e05a28" stroke-width="14" stroke-linejoin="round" opacity="0.8"/><ellipse cx="741" cy="457.5" rx="18" ry="12" fill="#e05a28" opacity="0.8"/><path d="M862 477C865 477.3 873.6 478.1 880 479C886.4 479.9 893.6 481.2 900.6 482.5C907.6 483.8 916 485.8 922 487C928 488.2 934.3 489.5 936.8 490" fill="none" stroke="#f08050" stroke-width="9" stroke-linecap="round" stroke-linejoin="round" opacity="0.85"/><path d="M922.3 469C924.1 469.1 929.2 469.2 933 469.4C936.8 469.6 943 469.9 945 470" fill="none" stroke="#b83208" stroke-width="10.6" stroke-linecap="round" stroke-linejoin="round" opacity="0.7"/><path d="M925 469.6C926.7 469.7 931.5 469.8 935 470C938.5 470.2 943.9 470.6 945.7 470.7" fill="none" stroke="#b83208" stroke-width="9" stroke-linecap="round" stroke-linejoin="round" opacity="0.7"/><path d="M960.9 469.6C962.2 470.3 966.3 472.4 969 474C971.7 475.6 975.8 478.4 977.2 479.3" fill="none" stroke="#b83208" stroke-width="9.4" stroke-linecap="round" stroke-linejoin="round" opacity="0.7"/><path d="M1020.7 495.7C1022.2 496.4 1027.1 498.4 1030 500C1032.9 501.6 1034.5 503.1 1038 505.4C1041.5 507.7 1048.8 512.6 1051 514" fill="none" stroke="#b83208" stroke-width="11" stroke-linecap="round" stroke-linejoin="round" opacity="0.7"/><ellipse cx="941" cy="562" rx="10" ry="9" fill="#e05a28" opacity="0.8"/><ellipse cx="990" cy="571" rx="20" ry="14" fill="#e05a28" opacity="0.7" transform="rotate(40 990 571)"/><ellipse cx="1094.6" cy="541" rx="13" ry="13" fill="#e05a28" opacity="0.85"/><ellipse cx="1121" cy="572" rx="12" ry="12" fill="#e05a28" opacity="0.8"/><ellipse cx="1115" cy="625" rx="18" ry="13" fill="#e05a28" opacity="0.8"/><ellipse cx="1061" cy="617" rx="8" ry="12" fill="#e05a28" opacity="0.7"/><ellipse cx="1156" cy="645" rx="9" ry="13" fill="#e05a28" opacity="0.8"/><path d="M727 466C726.6 468.3 724.5 475.2 724.5 480C724.5 484.8 725.9 490.3 727 495C728.1 499.7 729.5 503.8 731 508C732.5 512.2 734.8 516.8 736 520C737.2 523.2 739.3 524.4 738 527.4C736.7 530.4 730.6 533.9 728.3 538.3C726 542.6 724.7 551 724 553.5" fill="none" stroke="#e05a28" stroke-width="9" stroke-linecap="round" stroke-linejoin="round" opacity="0.8"/><path d="M841.3 529.6C842.1 530.7 844.5 533.8 846 536C847.5 538.2 849.3 541.5 850 542.6" fill="none" stroke="#b83208" stroke-width="9.2" stroke-linecap="round" stroke-linejoin="round" opacity="0.7"/></g>
<g filter="url(#bF)"><path d="M778.2 525.4Q800.9 536.5 811.4 559.6M770.4 510.9Q784 522.5 801.8 520.1M833.8 561.7Q848.2 567.2 863.4 570.2M831.8 485.4Q857.5 496.1 883.7 505.5M784.1 526.7Q801.6 531.9 819.5 535.5M792.7 511.8Q816.4 517.6 838.2 528.3M771.6 482.2Q789.4 493 800.3 510.8M748.1 484.9Q767.8 504.7 789.2 522.8M715 481.1Q737.6 486 757.6 497.7M731.6 509.9Q751.2 527.6 777.4 525M751.9 521.8Q778.3 537.5 807.6 546.7" fill="none" stroke="#d04818" stroke-width="1.5" stroke-linecap="round" opacity="0.30"/><path d="M781.4 535.1Q799.9 553.6 822 567.8M794.5 532.5Q811.6 542 829.8 548.8M772.4 565Q794.6 565.7 812.6 578.7M791.1 498.1Q801 516.1 821.2 519.5M756.4 508.9Q772.9 523.3 787.1 539.9M789.7 515.1Q814.4 524.9 834 542.9M781.4 492.2Q805.2 511 828.8 530M790.6 502.8Q803.6 524.7 828.4 530.2M769.9 489Q796.1 487.7 815.3 505.3M764.8 492.4Q778.2 506.9 797.9 507.6M762.2 513.8Q785.5 515.5 806.6 525.5" fill="none" stroke="#d04818" stroke-width="2" stroke-linecap="round" opacity="0.38"/><path d="M744.7 525Q767.2 528.6 786.2 541.2M787 526.9Q801 534.9 815.6 541.9M755.5 464.4Q773.3 474.9 786.7 490.6M756.8 529Q768.9 542.8 784.3 552.7M751.8 501.8Q779.2 513.1 808.1 520.1M795.8 517.8Q805.1 525 816.8 525.6M793 513Q810.6 524.8 829.7 534M825.4 517.1Q833.7 528.5 844.9 537M740.4 548.2Q760.8 562.8 779.2 579.8M722.8 481.2Q746.2 492.5 761.9 513.3M789.5 512.7Q798.3 522.1 809.3 528.5" fill="none" stroke="#d04818" stroke-width="3" stroke-linecap="round" opacity="0.25"/><path d="M807.4 504.6Q819.9 520.9 838.6 529M764.4 516.7Q781.4 518.2 795.7 527.4M735.5 491.7Q753.8 499.9 769.1 512.9M727.1 470Q744.4 480.4 756.5 496.7M757.9 521.4Q780.7 535.3 801.4 552.2M737.8 515.8Q755.5 524 774.9 525.6" fill="none" stroke="#ec7446" stroke-width="1.5" stroke-linecap="round" opacity="0.47"/><path d="M926.8 598.6Q942.4 615 964.8 617.8M869.7 519.5Q884.4 545.3 913.6 550.5M803.6 534.2Q814.9 553.8 836.2 561.6M874.1 556.6Q894 558.7 911 569.3M870.8 540Q904 539 928 561.9M919.8 554.3Q944.1 573.1 968.7 591.6M864.3 561.7Q876.6 574.7 894.4 573.3M845.2 543.7Q858.4 550.4 865.5 563.4M868.4 532.7Q899.6 547.2 917.9 576.4M895.5 560.9Q908.6 570 924.5 571.7M891.4 532.6Q902 541.3 911.4 551.1M877.1 568.8Q900.4 572.9 919.6 586.8M840.4 532.4Q851.6 544.9 865 555M885.8 548.3Q906.5 561.1 928.8 571M905.8 547.9Q928.3 554.2 948.1 566.6M892.6 574.8Q910.3 597.8 938.5 604.6M862.1 551.7Q876.9 568.5 898.8 573.3" fill="none" stroke="#d04818" stroke-width="1.5" stroke-linecap="round" opacity="0.34"/><path d="M874.4 491Q887.6 517.1 914.7 528.4M896.5 550Q922.9 566 953.1 572.3M916.4 538.9Q944.3 556.6 961 585.1M892.8 497.8Q920.1 509 934.2 535M896 520.9Q922.1 548.4 959.2 556.3M920.3 586.3Q934.7 592.5 948.1 600.8M856.3 531.9Q869 538.6 883 542.2M853 554.8Q873.5 585.9 906.6 602.7M845.8 553.3Q852.8 567.4 867.3 573.2M864.7 550.4Q896.9 562.1 920.3 587.3M837.5 519.1Q863.7 533 878.1 559M895.9 567.2Q911.6 572.4 927.2 577.8M898.6 541.1Q918.5 552.3 935.9 567.1M881.1 543.6Q895.4 548.4 900.6 562.6M877.6 557.3Q890.5 565 905.2 568.1M818.3 537.8Q837.9 572 873 589.8M905.7 545.4Q921.3 548.4 935 556.6" fill="none" stroke="#d04818" stroke-width="2" stroke-linecap="round" opacity="0.42"/><path d="M813.2 538.2Q838.1 547.8 859.8 563.2M879.9 549Q893.9 562.8 912.8 568.7M843.9 573.8Q858 589.5 875.2 601.7M897.9 575.5Q913 582.2 923.8 594.7M856.5 545.9Q869.1 561.4 888.1 567.9M907 552Q933 551.3 953.5 567.2M810.4 527.7Q826 528.5 838.4 538M896.3 527.9Q926.5 537.5 951.3 557.3M861.5 547Q880.5 561.2 900.1 574.8M885.2 528.3Q904.3 527 918.6 539.6M899.8 528.3Q922.6 539.9 941.2 557.6M863.3 549.9Q879.9 580.5 912.2 593.6M857 544.2Q883.7 553.4 893.5 579.9M881.7 529.6Q905.4 554.8 932.9 575.9M869.9 549.6Q901.4 563.8 915.6 595.4M886.9 575.7Q908.8 600.1 938.6 614M876.3 527.9Q903 556.5 942.1 559.1" fill="none" stroke="#d04818" stroke-width="3" stroke-linecap="round" opacity="0.27"/><path d="M849.9 584.4Q875.2 609.7 910.8 614.4M830 536.1Q859.4 536.3 877.9 559.1M856.5 528.6Q872 536.1 888.6 540.6M933.2 546.7Q943 562 960 568.1M833.9 527.8Q861.5 544.1 892.2 553.4M856.1 547.6Q873.7 570.3 899.2 583.6M917.8 545.8Q939.4 557 952.7 577.3M885 534.4Q898.8 541.1 912.3 548.2M877.1 552Q902.7 570.1 933.9 572.6" fill="none" stroke="#ec7446" stroke-width="1.5" stroke-linecap="round" opacity="0.53"/><path d="M866.8 478.6Q893.3 482.9 918.4 492.6M877.5 469.8Q907.2 465.8 929.7 485.7M840.8 484.1Q861.1 494.4 883.6 496.9M877 478.8Q902.3 487.5 928.4 481.3M884.8 471.6Q904.4 483.4 926.2 476.6M846.5 472.3Q866.8 474.1 885.8 481.8M838.8 479.5Q860.1 474.4 878.4 486.6M900.6 480.7Q919.2 486.2 938.5 484.1M886.8 475.6Q909.2 473.3 925.7 488.6" fill="none" stroke="#d04818" stroke-width="1.5" stroke-linecap="round" opacity="0.40"/><path d="M868.6 474.7Q898.3 462.2 927.7 475.3M847.1 479.6Q870.7 477.4 894.2 480.9M881.5 474.2Q901.4 483.7 923.2 487.7M901.6 473.9Q920.5 476.3 939.4 478.3M908.2 472.4Q930.4 468.8 951.2 477.2M860.3 480.6Q892 472.3 920.9 487.7M904.9 474.7Q917.5 474.1 930 474.7M890.3 475.8Q911.6 477.2 931.1 485.8M865.5 476Q893.4 489 923.9 492.9" fill="none" stroke="#d04818" stroke-width="2" stroke-linecap="round" opacity="0.50"/><path d="M893.2 484.6Q910.4 493.1 929.6 491.1M869 480.4Q881.4 477.7 892.8 483.5M899.6 475.3Q930.1 479.5 960.9 478.7M902.4 485.4Q915.7 492 929.5 486.5M880.7 486.8Q894 490.5 907.5 487M834.4 481.3Q862 481.2 885.7 495.4M850.8 464.1Q877.6 475 906.4 478.1M891.2 481Q909.1 489.3 927.3 481.8M857.6 473.8Q881.3 484.9 907.3 487.6" fill="none" stroke="#d04818" stroke-width="3" stroke-linecap="round" opacity="0.33"/><path d="M894.2 478.4Q908.9 480.4 923.7 481.5M869.2 479.3Q889.6 485.7 910.7 482.9M847.9 480.3Q862.9 481 877.1 485.9M871.1 472Q891.8 479.3 913.5 475.9" fill="none" stroke="#ec7446" stroke-width="1.5" stroke-linecap="round" opacity="0.62"/><path d="M952.6 442Q975.6 434.3 999.6 431.8M980 450.9Q992.5 451.4 1004 446.2M926.6 465.3Q948.8 481.1 972.9 494M970 479.1Q980.6 476.1 990.4 471.2M964.9 477.3Q974.9 472.8 986 473M988.2 439.8Q1000.3 446.9 1011.4 455.7M975.6 465.3Q998 476.4 1018.6 490.7M990.6 463.6Q1014.5 454.5 1034 438.2" fill="none" stroke="#d04818" stroke-width="1.5" stroke-linecap="round" opacity="0.29"/><path d="M949.2 441.6Q968.9 454 989.1 465.5M948.4 501.8Q967.2 499.4 985.6 495.2M963.2 483.2Q978.3 488.1 993.5 483.6M954 452.8Q964.6 462.9 979.2 461.5M911.7 463.6Q930.6 459.6 949.8 461.8M951.2 463.9Q968.8 456.2 987.9 454.6M940.3 461.9Q955.8 465.8 970.2 472.3M959.2 461.2Q980.6 453.7 1002.9 449.9" fill="none" stroke="#d04818" stroke-width="2" stroke-linecap="round" opacity="0.36"/><path d="M999.4 464.4Q1009.3 470.7 1021 472M988.1 482.9Q1009.5 472.7 1031.4 463.6M949.6 458.3Q963.2 465.4 978.4 463.2M944.5 458.5Q962.2 472 983.7 466.1M941.1 484.4Q959.9 495 980 487.1M948.8 452.3Q961.8 455.8 970.1 466.6M973.5 478.5Q990.8 465.8 1011.3 459.8M956.2 469.5Q965.9 462.1 977.9 465" fill="none" stroke="#d04818" stroke-width="3" stroke-linecap="round" opacity="0.23"/><path d="M981.2 449Q1004.5 453.5 1028.1 450.2M941.3 451.4Q957.9 453.3 971.1 463.5M942.2 469.1Q966.6 479.3 992.3 485.5M960.7 462.1Q980.9 469.5 998.4 482.1M966.3 480.3Q991.2 468.4 1018.7 470.2" fill="none" stroke="#ec7446" stroke-width="1.5" stroke-linecap="round" opacity="0.45"/><path d="M982.5 510.5Q994.5 531.8 997.8 556.1M995.9 536.9Q1003.2 549.3 999.3 563.1M983 519.4Q987.8 535.9 987.9 553.1M1017.3 516.9Q1030.8 531.3 1041.9 547.7M963.7 491.4Q965.5 508.4 970.9 524.7M986.7 492.9Q993.6 519.4 989.6 546.5M953.8 503.4Q970.5 527 972.7 555.8M987.2 523.2Q993.9 534.3 1002.5 543.9M969.2 509.6Q983.4 527 996.1 545.7M1018.1 477.3Q1019.6 488.2 1023.8 498.4M982.6 483.7Q982 500.6 988 516.4" fill="none" stroke="#d04818" stroke-width="1.5" stroke-linecap="round" opacity="0.29"/><path d="M1027.9 500.6Q1025.5 520.3 1031.6 539.3M998.5 520.2Q1002.5 532.6 1001.9 545.7M971.8 526.9Q987.8 547.6 983.2 573.4M980.9 518.4Q983.8 530.4 986.4 542.5M965.9 515.7Q970.7 541.4 993.4 554.6M988.8 493.4Q988.9 506.6 994.6 518.5M988.5 507.3Q994.2 523.1 997.2 539.6M971.2 534Q970.8 556.7 972.9 579.4M967 517.5Q967.7 531.9 976.5 543.3M985.2 523.3Q988.1 545.3 985.8 567.4M982.8 531.8Q980.4 550 985 567.9" fill="none" stroke="#d04818" stroke-width="2" stroke-linecap="round" opacity="0.36"/><path d="M990.6 505Q991.4 518.8 1000.3 529.4M986.1 511.2Q990.8 520.4 994.7 530M935.3 466.3Q943.5 493.2 937.5 520.8M980.6 494.4Q995.9 507 997.2 526.9M991 551Q1001.1 566.8 995.1 584.6M981.4 506.1Q992.1 529.2 991.4 554.7M986.5 513.5Q994.6 524.5 991.7 537.8M983.3 503.6Q984.1 522.4 990.3 540.1M994.2 505.8Q1006.5 523.9 1017.5 542.7M1010.6 505.8Q1002.5 531.5 1014.7 555.4M965.1 521.8Q977 546.2 973.3 573.2" fill="none" stroke="#d04818" stroke-width="3" stroke-linecap="round" opacity="0.23"/><path d="M1018.7 501.7Q1016.1 518.1 1020.6 534.1M969.1 489.8Q967.4 500.3 971.6 510.1M990.4 527.8Q996.5 549.1 1010.9 566.1M977.7 523.3Q972.7 550.2 985.7 574.3M962.3 467.2Q961.1 488.7 963.7 510.1" fill="none" stroke="#ec7446" stroke-width="1.5" stroke-linecap="round" opacity="0.45"/><path d="M1007 483Q1034.9 487.2 1048.8 511.7M1020.8 503.8Q1029.7 515.8 1044.6 515.8M1018.9 495.9Q1037.7 515.3 1063.5 522.8M985.1 507.5Q1008.4 523 1033.5 535.7M1007.4 504.2Q1032.1 509.8 1048.2 529.5M1005.5 492.7Q1022.8 509.4 1046.3 514.6M1018.4 506.5Q1039.3 511.8 1055.5 526M1012.4 472.5Q1028.2 481.3 1036.3 497.5M1011.4 499Q1025.1 503.6 1032.7 515.9" fill="none" stroke="#d04818" stroke-width="1.5" stroke-linecap="round" opacity="0.40"/><path d="M1012 496.3Q1029.1 502.9 1036.9 519.5M1023.5 501.4Q1049.9 502.9 1064.8 524.7M1020.7 498.5Q1036.4 505.5 1050 515.9M1021.8 514.7Q1031.2 518.9 1040.6 523.3M1037.5 469.4Q1055.4 484.6 1069.7 503.2M1008.8 504.3Q1021.2 518.5 1034.7 531.5M1014.7 495.3Q1024.8 509 1041.5 512.5M1016.7 495.6Q1029.8 503.7 1044.3 509M998.6 513.2Q1008.2 522.9 1017.6 532.8" fill="none" stroke="#d04818" stroke-width="2" stroke-linecap="round" opacity="0.50"/><path d="M996.7 497.3Q1014.2 511 1035.2 518.5M1009.5 498.5Q1039 499.3 1058.6 521.4M996.2 511.8Q1007.4 516.5 1018.1 522.2M1014.7 498.1Q1027.3 517.6 1048.3 527.6M1009.7 502.5Q1029.1 525.8 1059.4 525M1019.1 504.8Q1032.4 508.6 1042.1 518.4M1033.6 503.3Q1044.2 510.8 1056.2 516M1033.8 507Q1047.5 516.1 1059.3 527.7M1033.1 517.1Q1050.4 524.3 1064.4 536.9" fill="none" stroke="#d04818" stroke-width="3" stroke-linecap="round" opacity="0.33"/><path d="M1031.7 487.4Q1045 498.4 1058.8 508.8M1000.8 502.7Q1026.2 509.6 1045.8 527.3M1004.1 505.8Q1019 527.4 1044.4 533.5M1015.4 502.2Q1029.9 512.6 1047.2 517.6" fill="none" stroke="#ec7446" stroke-width="1.5" stroke-linecap="round" opacity="0.62"/><path d="M1127.6 588.2Q1143.1 604 1144.3 626M1101.2 584.9Q1107.6 595.7 1115.5 605.4M1099.6 598.4Q1120.8 615.9 1122.4 643.5M1088.7 531.5Q1102.7 552.8 1109.8 577.4M1057.8 604.2Q1078.4 614 1088.9 634.3M1074.5 577.9Q1091 600.5 1116.9 611.1M1064.2 545.6Q1082.1 552.6 1094.1 567.6M1109.2 571.2Q1111.3 584.7 1122.1 593.2M1075.1 592.9Q1083.6 601.8 1095.9 602.7M1012.5 547.3Q1014.7 575.2 1037.4 591.6M1058.9 557.4Q1074.8 575.7 1092.5 592.2M1098.9 548.6Q1111.3 561.7 1119.3 578M1071.6 558.5Q1070 582 1083.8 601.1M1120.9 611.3Q1130.4 619.6 1139.1 628.7M1092.6 570.8Q1115.3 585.8 1133.6 606M1147.7 534.4Q1165.7 553.3 1161.8 579.1M1114.9 589.7Q1126.9 596.1 1133.6 607.8M1109 557.2Q1116.9 572.8 1125.8 587.9M1062.3 533.6Q1084.9 546 1093 570.5M1083.9 610Q1094.4 623.8 1098.1 640.8M1107 595.4Q1119.5 610.3 1125 628.9M1060.2 563.6Q1067.5 576.8 1068.9 591.8" fill="none" stroke="#d04818" stroke-width="1.5" stroke-linecap="round" opacity="0.32"/><path d="M1080.5 539.5Q1100.5 541.6 1111.9 558.1M1051.5 580.8Q1060.1 600.9 1073.8 617.8M1073.1 563.5Q1088.4 588.5 1114.7 601.5M1098.7 605.6Q1112.7 632.1 1133.9 653.4M1054 575.5Q1076.4 596 1104.9 606.6M1109.1 524.2Q1119.6 531.5 1126.2 542.4M1085.3 588.4Q1089.8 615 1112.5 629.3M1049.7 548.3Q1074.7 566.1 1081.2 596.1M1064.5 517.6Q1081.7 541 1085.1 569.9M1027.4 600.8Q1048.6 612.8 1055.6 636.1M1132.8 546.1Q1142.7 562.7 1156.9 575.8M1083.5 574Q1096.5 585.9 1108.7 598.6M1096.6 573Q1104.5 584.2 1118.2 584.6M1114.4 562.4Q1129.4 587.1 1148.1 609.1M1124.7 544.9Q1131.9 557.4 1142.5 567.2M1098.8 514.4Q1105 532.7 1119 545.9M1081.1 606.9Q1099.6 628.9 1121.6 647.3M1061.1 592.5Q1077.1 606.3 1095.6 616.6M1093.4 570.4Q1103.4 596 1115.4 620.9M1058.7 560.3Q1064.2 576.4 1072.2 591.5M1108.6 570Q1122.8 587.1 1137.8 603.5M1035.5 522.9Q1040.5 536 1053 542.5" fill="none" stroke="#d04818" stroke-width="2" stroke-linecap="round" opacity="0.40"/><path d="M1072.8 548Q1084.8 562.2 1085.5 580.8M1094.9 557.1Q1119.9 562.7 1130.6 586M1135.1 601.4Q1145.2 613.1 1158.9 620.3M1077.7 547.7Q1091.8 571.5 1115.6 585.5M1048.5 632.1Q1069.5 651 1096.7 658.3M1043.2 490.6Q1053.1 502.3 1056.1 517.3M1102.3 516.6Q1110.7 539 1130.8 551.9M1108 569.8Q1111 581.8 1119.2 590.9M1126.4 532.1Q1151.2 543 1171.7 560.5M1105.4 621.4Q1129 626 1141.7 646.3M1050.5 581.1Q1060 590.6 1067.7 601.7M1102.6 560.4Q1109.7 574.3 1124.8 578.4M1065.5 544.8Q1070.7 561.8 1077.3 578.4M1099.3 569.1Q1118.5 574.8 1134.3 587.1M1075.1 576.4Q1102.5 590.7 1118.9 616.9M1089.1 565.5Q1105.6 571.2 1115.9 585.3M1095.6 567.2Q1124.6 572.1 1144.9 593.3M1093.1 598.7Q1101.6 608.9 1100.3 622.1M1036.6 510.5Q1049 521.6 1065.1 525.8M1020.4 578.1Q1045.6 589.4 1056.2 614.9M1127 594.6Q1136.1 605.4 1146.3 615.2M1062 570Q1069.9 594.9 1085.2 616.1" fill="none" stroke="#d04818" stroke-width="3" stroke-linecap="round" opacity="0.26"/><path d="M1078.9 548Q1087.8 561.5 1096.3 575.2M1115.3 566.7Q1136.6 582.9 1141.3 609.2M1041.1 595.4Q1053.2 610.7 1066.8 624.6M1092.8 592.2Q1107.9 599.8 1116 614.6M1105.2 548Q1124.6 562.1 1128.6 585.9M1097.8 572.2Q1113.6 575.2 1123.7 587.8M1097.8 533.3Q1123 554.5 1123.3 587.4M1046.3 547.8Q1059.7 551.6 1068.8 562.2M1067.2 526.7Q1070.3 559 1094.6 580.5M1013 613Q1024.1 618.6 1034.3 625.8M1081.5 558.2Q1099.7 573.3 1107.9 595.6M1056.5 552.4Q1072.1 574.4 1097.9 581.8" fill="none" stroke="#ec7446" stroke-width="1.5" stroke-linecap="round" opacity="0.50"/><path d="M994.3 593.9Q1005 598.8 1016 603M972.2 635.8Q986.6 633.5 998 642.4M1046 598.5Q1061.3 614 1077.2 628.9M989.3 592.6Q1005.3 591.6 1020.6 596.4M993.2 589.4Q1004.5 603.4 1019.7 613.1M994.8 611.8Q1008 630.1 1028.3 639.8M995.6 606.6Q1005 618.7 1019.5 623.5M966.5 599.3Q990.4 605.3 1014.8 601.4M955.1 607.2Q969.6 622 990.1 619.4" fill="none" stroke="#d04818" stroke-width="1.5" stroke-linecap="round" opacity="0.24"/><path d="M1026.8 591.9Q1038.1 588.7 1048.8 593.3M974.5 617.5Q999 616 1023.5 614.6M992.4 615.4Q1003.2 611.9 1013.9 615.4M1016.5 594.4Q1028.6 602.2 1042.9 601.6M975.5 588.3Q1001.8 595.2 1028.8 593.1M959.6 636.9Q976.1 642.1 993.2 639.8M1026.9 580.9Q1047.7 590.2 1067.4 601.7M1002.5 582.9Q1015.7 586.6 1029.4 586.5M987.3 614.9Q1005.8 611.7 1021.5 621.9" fill="none" stroke="#d04818" stroke-width="2" stroke-linecap="round" opacity="0.30"/><path d="M998.1 596.7Q1013 610.6 1028.8 623.4M962.6 603.2Q989.4 604.3 1014.4 613.9M1003.9 627.8Q1021 643.6 1042.7 652.3M998.8 605.3Q1009.9 614.3 1021.2 623.1M959.5 597.6Q983.9 597.8 999.2 616.9M974.7 609.1Q989.7 620 1007.2 626M964.7 609.3Q980.1 621.6 999.6 624.4M1051.5 609.4Q1061.1 620.4 1072.8 629.1M952.5 583.1Q968.6 594.7 985 605.7" fill="none" stroke="#d04818" stroke-width="3" stroke-linecap="round" opacity="0.20"/><path d="M943.2 616Q954.3 622 966.9 621.4M1057.6 635.8Q1074.1 634.3 1089.8 639.7M1031.5 633.9Q1043.9 643.4 1058.2 649.6M1016.1 609.7Q1036 615.4 1054 625.7" fill="none" stroke="#ec7446" stroke-width="1.5" stroke-linecap="round" opacity="0.38"/><path d="M1088.5 462.4Q1106.3 496 1143 506M1094.4 474.3Q1109.2 493.8 1132 502.6M1120.4 470.5Q1134.4 476.5 1145 487.5M1107.5 445.4Q1114.7 462.7 1131.2 471.5M1098.8 465.6Q1122.7 487.9 1154.8 482.3M1099.1 470.4Q1117.9 491.3 1146.1 491.4" fill="none" stroke="#d04818" stroke-width="1.5" stroke-linecap="round" opacity="0.18"/><path d="M1137.2 446.8Q1162.2 459 1174.4 483.9M1063.6 440.6Q1086.5 465.5 1113.6 485.8M1097.8 475.5Q1118.9 487.1 1142.7 483.6M1106.9 463.6Q1129.9 491.8 1164.5 503.3M1081.3 445.2Q1104.9 454.7 1116.3 477.5M1080.9 444Q1100.5 468.9 1129.5 481.6" fill="none" stroke="#d04818" stroke-width="2" stroke-linecap="round" opacity="0.22"/><path d="M1034.4 493Q1051.5 509.8 1073.3 520.1M1082 440.7Q1087.3 453.4 1099.6 459.5M1122.4 469.6Q1157.7 482 1175.3 515M1069.2 455Q1099.8 468 1132.6 473.9M1055.8 473.9Q1078.3 483.8 1102.4 489M1089.1 459.1Q1114.9 469 1123.3 495.3" fill="none" stroke="#d04818" stroke-width="3" stroke-linecap="round" opacity="0.14"/><path d="M1064 468.8Q1082 476.2 1099.7 484.4M1126.3 464Q1137.7 473.2 1151.3 478.9M1082.7 484.6Q1103.7 503 1131.5 500.2" fill="none" stroke="#ec7446" stroke-width="1.5" stroke-linecap="round" opacity="0.28"/><path d="M735.1 468.7Q749.9 485.3 771.7 489.2M788.8 473.5Q806.6 473.1 819.5 485.3M768 452.1Q776.5 455.3 779.2 464M732 453.3Q748.9 459 764.8 450.6M747.7 456.9Q758 464.3 765.6 474.5M739.8 473Q752.2 484.3 768.3 489.1M752.3 478.1Q767 482.1 780.2 474.7" fill="none" stroke="#d04818" stroke-width="1.5" stroke-linecap="round" opacity="0.32"/><path d="M731.9 461.6Q748.8 465.9 766.2 467.3M722.8 484.6Q743.4 485.1 763.9 482.4M749.5 452.4Q758.6 455.3 767.4 451.5M763.3 466.3Q775.5 463 787.2 467.8M703.4 473.2Q712.8 478.6 721.5 485M757.8 454.5Q766.6 474.3 787 481.4M711 448Q733.5 450.9 744.9 470.6" fill="none" stroke="#d04818" stroke-width="2" stroke-linecap="round" opacity="0.40"/><path d="M778.1 473.8Q795.8 479.3 814.3 480M743.2 468.7Q757.7 472.5 772.5 469.4M720.1 454Q726.7 460.2 732.8 467.1M764.2 453.8Q785.2 454.5 802 467.1M745.9 451.8Q759.6 455.7 771 464.2M742.1 479.8Q755.5 480.9 766.2 489.1M727.8 466.7Q746.5 470.7 765.1 475.3" fill="none" stroke="#d04818" stroke-width="3" stroke-linecap="round" opacity="0.26"/><path d="M760.1 468.9Q781.3 476.9 801.9 467.5M745.6 474Q752.8 482.8 764.3 483M722.4 457Q731.4 467.8 742.6 476.2M750.2 471.7Q770.3 464.8 791.6 465.7" fill="none" stroke="#ec7446" stroke-width="1.5" stroke-linecap="round" opacity="0.50"/><path d="M767.4 605.5Q768.1 606.8 767.8 608.2M787.9 597.6Q788.1 598.4 788.7 599.1M728.3 578.4Q729.1 579.6 728.9 581M781.8 598.9Q783.1 598.9 784.3 599.2M777 587.8Q777.5 588.1 778.1 587.9M800.6 593.5Q800.9 594.5 800.8 595.5M760.5 610.7Q761 609.5 761.5 608.2M740.4 594.9Q740.3 596 740.5 597.1M771.9 599.8Q772.7 599.6 773.5 599.9M783.6 607.9Q784.1 606.9 784.9 606.2M742 619.9Q743 618.9 744.5 618.8M774.5 613.2Q773.9 613.9 774 614.8" fill="none" stroke="#d04818" stroke-width="3" stroke-linecap="round" opacity="0.11"/><path d="M716.7 622.4Q717.7 621.8 718.8 622.1M758.7 592.1Q758.8 591.1 759.4 590.4M749.8 596.1Q750.1 597.4 749.6 598.6M749.6 615.4Q750.2 615.4 750.6 614.8M776.9 616.8Q777.8 616.4 778.4 615.5M699.7 643.4Q700.7 643.3 701.6 642.9M779 593.1Q779.6 592.4 780 591.6M754.1 610.4Q754.6 609.9 754.8 609.1M754.6 610.2Q755 610.6 755 611.2M733.8 592Q733.8 591.2 734.4 590.7M804.2 604.2Q805.4 603.7 806.7 603.8M822 574.6Q822.6 574.1 823.5 574" fill="none" stroke="#d04818" stroke-width="3.9" stroke-linecap="round" opacity="0.14"/><path d="M744.1 608.8Q745.2 608.9 746.3 608.7M738.3 602.4Q739.1 602 739.3 601.2M752.1 551Q753.2 550.5 754 549.7M799.8 604.2Q800.3 604.9 801.1 605.1M742.3 580.5Q742.8 581.5 743.2 582.5M724.8 619.2Q725.9 619.7 726.2 620.8M761.1 620.3Q762 619.4 763 618.9M749.1 597.4Q749.6 596.4 750.8 595.9M776 599.2Q776.6 598.3 777 597.3M740.8 571.7Q741.5 571.2 742.1 570.7M748.7 600.6Q749.1 601.7 748.8 602.8M768.3 618.9Q768.9 619 769.4 619.1" fill="none" stroke="#d04818" stroke-width="6" stroke-linecap="round" opacity="0.09"/><path d="M768.7 598.5Q769.6 598.8 770.5 598.4M741.2 604.9Q741.4 606.2 742.5 607M709.3 615.1Q710.1 615.1 710.7 614.6M771.6 570.3Q771.5 570.9 771.9 571.5M743 601.1Q743.7 599.9 744.7 598.9M743.2 622.3Q743.8 623.1 744.7 623.7M722.5 590.5Q723.1 590.1 723.2 589.5" fill="none" stroke="#ec7446" stroke-width="3" stroke-linecap="round" opacity="0.18"/><path d="M1072 450Q1072.5 449.4 1073.2 449.1M1010.3 444.3Q1011 444.3 1011.6 444.6M1043.3 433.1Q1043.9 433.1 1044.4 432.8M1017.9 432Q1018.7 431.9 1019.4 431.3M1071.6 447.7Q1072.3 448.3 1072.4 449.3M1065.1 436.4Q1065 437.3 1065.1 438.2M1112.5 448.7Q1112.9 448.6 1113.3 448.8M1055.5 434.4Q1056.1 434.5 1056.4 434.9M1056.2 435.2Q1056.6 435.2 1057 435.5M1095.5 448Q1096 447.7 1096.3 447.2M1135.4 426.6Q1135.6 426 1135.8 425.4M1036.5 435.6Q1037 435.4 1037.7 435.3M1047.6 448.4Q1047.8 447.9 1047.8 447.3M1056.1 438.5Q1056.9 438.1 1057.4 437.4M1031 432.8Q1030.9 433.6 1031.3 434.3" fill="none" stroke="#d04818" stroke-width="2.8" stroke-linecap="round" opacity="0.16"/><path d="M1045.7 444.3Q1045.8 443.5 1046.5 443M1063.8 454.6Q1064.1 453.8 1064.7 453.3M1038 449.7Q1038.9 449.5 1039.5 448.6M1071.3 443.5Q1071.7 443.3 1072.1 443.5M1036.5 434.1Q1037 434.4 1037.3 434.9M1059.1 433.5Q1059.4 433.1 1059.8 433M1032.2 441.8Q1032.7 440.9 1033.4 440.2M1056 433.7Q1056.5 433.1 1057.2 432.8M1090.1 446.9Q1090.9 446.5 1091.8 446.5M1106.7 440.5Q1107.1 440.2 1107.5 440M1094.6 447Q1094.7 446.2 1095.2 445.6M1077.7 441.1Q1078 440.3 1078.5 439.6M1019 445.7Q1019.3 446.2 1019.8 446.3M1020.7 443.8Q1021 443.1 1020.9 442.3M1073.4 442.9Q1073.8 443.8 1074.1 444.7" fill="none" stroke="#d04818" stroke-width="3.6" stroke-linecap="round" opacity="0.20"/><path d="M1064.7 443.6Q1065.7 443.9 1066.6 443.4M1073.6 435.1Q1073.5 435.7 1073.8 436.1M1044.7 446.7Q1044.7 446.1 1044.7 445.6M1074.9 433.4Q1075.7 433.3 1076.5 433.5M1064.1 442.5Q1065 442.2 1065.7 441.4M1042.7 436.4Q1043.1 435.6 1044 435.5M1086.3 434.5Q1086.9 434.1 1087.4 433.6M1033.6 444.8Q1034.6 444.6 1035.4 444.1M1064.6 448.5Q1065.1 448 1065.6 447.6M1085.2 436.9Q1085.6 436.9 1086.1 437.1M1027.2 443.1Q1027.6 443.2 1028 443.4M1085 435.8Q1085.9 436 1086.5 436.8M1060.5 441.2Q1061.4 441.6 1062.2 441.2M1070.6 442.1Q1071.5 442.1 1072.1 441.5M1078.9 445.9Q1079.3 445.5 1079.9 445.6" fill="none" stroke="#d04818" stroke-width="5.6" stroke-linecap="round" opacity="0.13"/><path d="M1062.1 444.7Q1062.7 445.5 1062.9 446.4M1051.3 449Q1051.7 448.9 1052 449.2M1112.2 440.4Q1112.6 441.1 1112.3 441.9M1082.6 438.2Q1083.5 438 1084.2 437.4M1079.6 435.4Q1080.2 435.2 1080.6 435.5M1085.3 442.3Q1086 442.2 1086.7 442.4M1034.1 436Q1034.9 436.1 1035.7 436" fill="none" stroke="#ec7446" stroke-width="2.8" stroke-linecap="round" opacity="0.25"/><path d="M866 478C868.3 478.2 874.2 478.7 880 479.5C885.8 480.3 893.6 481.7 900.6 483C907.6 484.3 916 486.3 922 487.5C928 488.7 934.3 489.6 936.8 490" fill="none" stroke="#ffc8b0" stroke-width="2.2" stroke-linecap="round" stroke-linejoin="round" opacity="0.8"/><path d="M884 470C887.5 470.7 898.2 472.3 905 474C911.8 475.7 919.2 477.8 925 480C930.8 482.2 937.5 485.8 940 487" fill="none" stroke="#ffc8b0" stroke-width="1.4" stroke-linecap="round" stroke-linejoin="round" opacity="0.7"/></g>
<g filter="url(#bS)"><path d="M756 452C756.5 448.7 767.7 447 775 446C782.3 445 793.3 445.3 800 446C806.7 446.7 810.7 445.7 815 450C819.3 454.3 828.5 468.3 826 472C823.5 475.7 809 473 800 472C791 471 779.3 469.3 772 466C764.7 462.7 755.5 455.3 756 452Z" fill="#e88058" opacity="0.95"/><ellipse cx="771" cy="457.5" rx="8.5" ry="6" fill="#8c2408" opacity="0.95" transform="rotate(-20 771 457.5)"/><ellipse cx="799" cy="461" rx="12" ry="6" fill="#8c2408" opacity="0.95" transform="rotate(15 799 461)"/><path d="M751 451C752.7 449.2 757 443.3 761 440.5C765 437.7 770.2 435.3 775 434C779.8 432.7 785.3 432.2 790 432.5C794.7 432.8 799.3 434 803 435.5C806.7 437 810.2 439.8 812 441.5C813.8 443.2 813.7 445.2 814 446" fill="none" stroke="#ffb090" stroke-width="16.5" stroke-linecap="round" stroke-linejoin="round" opacity="0.95"/><path d="M749 463C752 464.6 760.2 469.5 767 472.5C773.8 475.5 783.2 478.8 790 481C796.8 483.2 802 484.7 808 485.5C814 486.3 821 486.2 826 486C831 485.8 836 484.3 838 484" fill="none" stroke="#ffb090" stroke-width="21" stroke-linecap="round" stroke-linejoin="round" opacity="0.95"/><path d="M836 488C836.5 490.8 837.8 500.3 839 505C840.2 509.7 840.3 513.1 843 516C845.7 518.9 850 521 855 522.5C860 524 867.5 525.3 873 525C878.5 524.7 882.8 522.9 888 520.5C893.2 518.1 898.8 514 904 510.5C909.2 507 913.8 502.4 919 499.5C924.2 496.6 930.8 494.4 935 493C939.2 491.6 942.5 491.5 944 491.2" fill="none" stroke="#ffb090" stroke-width="14" stroke-linecap="round" stroke-linejoin="round" opacity="0.95"/><path d="M944 491.2C945.8 491.4 950.2 491.8 955 492.5C959.8 493.2 967.3 493.8 973 495.5C978.7 497.2 984.5 499.7 989 502.5C993.5 505.3 996.2 508.3 1000 512.5C1003.8 516.7 1008.2 522.1 1012 527.5C1015.8 532.9 1018.7 539.6 1023 545C1027.3 550.4 1033.5 555.7 1038 560C1042.5 564.3 1048 569.2 1050 571" fill="none" stroke="#ffb090" stroke-width="12.5" stroke-linecap="round" stroke-linejoin="round" opacity="0.95"/><path d="M1050 571C1051.7 571 1057 571.8 1060 571C1063 570.2 1065.2 567.7 1068 566C1070.8 564.3 1075.5 561.8 1077 561" fill="none" stroke="#ffb090" stroke-width="11" stroke-linecap="round" stroke-linejoin="round" opacity="0.95"/><path d="M818 473C819.3 470.4 825.3 472.2 830 472.5C834.7 472.8 840.7 474.8 846 475C851.3 475.2 858 473.8 862 474C866 474.2 868.1 474.9 870 476.5C871.9 478.1 873.5 480.9 873.5 483.5C873.5 486.1 872.6 490.2 870 492C867.4 493.8 861.2 493.3 858 494.5C854.8 495.7 854 498.4 851 499C848 499.6 843.5 498.8 840 498C836.5 497.2 833 495.7 830 494C827 492.3 824 491.5 822 488C820 484.5 816.7 475.6 818 473Z" fill="#ffb090" stroke="#ffb090" stroke-width="6" stroke-linejoin="round" opacity="0.95"/><ellipse cx="741" cy="457.5" rx="16" ry="10.5" fill="#ffb090" opacity="0.95"/><ellipse cx="882" cy="502" rx="29" ry="10" fill="#8a1400" opacity="0.95" transform="rotate(-10 882 502)"/><ellipse cx="872" cy="507" rx="18" ry="7" fill="#700c00" opacity="0.8" transform="rotate(-5 872 507)"/><ellipse cx="856" cy="487.5" rx="5" ry="3.5" fill="#c03c10" opacity="0.9"/><path d="M866 478C868.3 478.2 874.2 478.7 880 479.5C885.8 480.3 893.6 481.7 900.6 483C907.6 484.3 916 486.3 922 487.5C928 488.7 934.3 489.6 936.8 490" fill="none" stroke="#d04c1c" stroke-width="5" stroke-linecap="round" stroke-linejoin="round" opacity="0.6"/><path d="M884 470C887.5 470.7 898.2 472.3 905 474C911.8 475.7 919.2 477.8 925 480C930.8 482.2 937.5 485.8 940 487" fill="none" stroke="#d04c1c" stroke-width="4" stroke-linecap="round" stroke-linejoin="round" opacity="0.6"/><ellipse cx="878.8" cy="487.5" rx="3.9" ry="3.9" fill="#d8501c" opacity="0.7"/><path d="M922.3 469C924.1 469.1 929.2 469.2 933 469.4C936.8 469.6 943 469.9 945 470" fill="none" stroke="#ff8a5a" stroke-width="5.6" stroke-linecap="round" stroke-linejoin="round" opacity="0.9"/><path d="M925 469.6C926.7 469.7 931.5 469.8 935 470C938.5 470.2 943.9 470.6 945.7 470.7" fill="none" stroke="#ff8a5a" stroke-width="4" stroke-linecap="round" stroke-linejoin="round" opacity="0.9"/><path d="M960.9 469.6C962.2 470.3 966.3 472.4 969 474C971.7 475.6 975.8 478.4 977.2 479.3" fill="none" stroke="#ff8a5a" stroke-width="4.4" stroke-linecap="round" stroke-linejoin="round" opacity="0.9"/><path d="M1020.7 495.7C1022.2 496.4 1027.1 498.4 1030 500C1032.9 501.6 1034.5 503.1 1038 505.4C1041.5 507.7 1048.8 512.6 1051 514" fill="none" stroke="#ff8a5a" stroke-width="6" stroke-linecap="round" stroke-linejoin="round" opacity="0.9"/><path d="M1012 492C1014.2 493.2 1020.3 496 1025 499C1029.7 502 1037.5 508.2 1040 510" fill="none" stroke="#c84010" stroke-width="4.4" stroke-linecap="round" stroke-linejoin="round" opacity="0.65"/><ellipse cx="1155.4" cy="501" rx="5" ry="5" fill="#d8501c" opacity="0.7"/><ellipse cx="957.6" cy="549.1" rx="4.3" ry="4.3" fill="#d8501c" opacity="0.7"/><ellipse cx="951" cy="552" rx="4" ry="4" fill="#d8501c" opacity="0.7"/><ellipse cx="1001" cy="531.3" rx="4.5" ry="6" fill="#e05a28" opacity="0.8"/><ellipse cx="1122.8" cy="561" rx="4.3" ry="4.3" fill="#d8501c" opacity="0.7"/><ellipse cx="1142" cy="557" rx="4" ry="4" fill="#d8501c" opacity="0.7"/><ellipse cx="1109" cy="553" rx="4.1" ry="4.1" fill="#d8501c" opacity="0.7"/><path d="M1098 550C1099.7 551.3 1105 555.3 1108 558C1111 560.7 1114.7 564.7 1116 566" fill="none" stroke="#c84010" stroke-width="4.5" stroke-linecap="round" stroke-linejoin="round" opacity="0.65"/><ellipse cx="1031.5" cy="593.7" rx="5" ry="7.5" fill="#e05a28" opacity="0.8"/><ellipse cx="1025" cy="612.2" rx="3.7" ry="3.7" fill="#d8501c" opacity="0.7"/><path d="M1068 600C1070 601.7 1076.3 605.8 1080 610C1083.7 614.2 1088.3 622.5 1090 625" fill="none" stroke="#d04c1c" stroke-width="2.5" stroke-linecap="round" stroke-linejoin="round" opacity="0.6"/><path d="M1080 590C1083.3 589.2 1093.3 584.2 1100 585C1106.7 585.8 1116.7 593.3 1120 595" fill="none" stroke="#d04c1c" stroke-width="2.5" stroke-linecap="round" stroke-linejoin="round" opacity="0.6"/><path d="M727 466C726.6 468.3 724.5 475.2 724.5 480C724.5 484.8 725.9 490.3 727 495C728.1 499.7 729.5 503.8 731 508C732.5 512.2 735.2 518 736 520" fill="none" stroke="#ffb090" stroke-width="7" stroke-linecap="round" stroke-linejoin="round" opacity="0.9"/><path d="M736 529C734.7 530.5 730.3 534.2 728.3 538.3C726.3 542.4 724.7 551 724 553.5" fill="none" stroke="#c84010" stroke-width="4.6" stroke-linecap="round" stroke-linejoin="round" opacity="0.65"/><path d="M841.3 529.6C842.1 530.7 844.5 533.8 846 536C847.5 538.2 849.3 541.5 850 542.6" fill="none" stroke="#ff8a5a" stroke-width="4.2" stroke-linecap="round" stroke-linejoin="round" opacity="0.9"/><path d="M830 532C835 534.2 850.4 540.2 860 545C869.6 549.8 883 558.1 887.6 560.7" fill="none" stroke="#d04c1c" stroke-width="2.7" stroke-linecap="round" stroke-linejoin="round" opacity="0.6"/><path d="M852 564C855.8 565.8 868.7 570.7 875 575C881.3 579.3 887.5 587.5 890 590" fill="none" stroke="#d04c1c" stroke-width="2.7" stroke-linecap="round" stroke-linejoin="round" opacity="0.6"/><path d="M887 609C888.3 610.2 892.5 613.7 895 616C897.5 618.3 900.8 621.8 902 623" fill="none" stroke="#c84010" stroke-width="4.2" stroke-linecap="round" stroke-linejoin="round" opacity="0.65"/><path d="M950 500C951.7 503.3 957.5 512.5 960 520C962.5 527.5 964.2 540.8 965 545" fill="none" stroke="#d04c1c" stroke-width="2.5" stroke-linecap="round" stroke-linejoin="round" opacity="0.6"/><path d="M1000 585C1002.5 587.5 1009.2 595.8 1015 600C1020.8 604.2 1031.7 608.3 1035 610" fill="none" stroke="#d04c1c" stroke-width="2.5" stroke-linecap="round" stroke-linejoin="round" opacity="0.6"/><path d="M1060 530C1063.3 532.5 1075 540 1080 545C1085 550 1088.3 557.5 1090 560" fill="none" stroke="#d04c1c" stroke-width="2.5" stroke-linecap="round" stroke-linejoin="round" opacity="0.6"/><path d="M1030 520C1032.5 522.5 1041.7 529.2 1045 535C1048.3 540.8 1049.2 551.7 1050 555" fill="none" stroke="#d04c1c" stroke-width="2.5" stroke-linecap="round" stroke-linejoin="round" opacity="0.6"/><ellipse cx="795.7" cy="527.8" rx="3.6" ry="3.6" fill="#d8501c" opacity="0.7"/><ellipse cx="822" cy="548.8" rx="4.1" ry="4.1" fill="#d8501c" opacity="0.7"/><ellipse cx="887.8" cy="560.5" rx="4.1" ry="4.1" fill="#d8501c" opacity="0.7"/><ellipse cx="938.5" cy="533.5" rx="4.7" ry="4.7" fill="#d8501c" opacity="0.7"/><ellipse cx="938.5" cy="604.6" rx="4.9" ry="4.9" fill="#d8501c" opacity="0.7"/><ellipse cx="1054.2" cy="519.3" rx="3.7" ry="3.7" fill="#d8501c" opacity="0.7"/></g>
<g filter="url(#bT)"><ellipse cx="878.8" cy="487.5" rx="1.4" ry="1.4" fill="#fff"/><path d="M922.3 469C924.1 469.1 929.2 469.2 933 469.4C936.8 469.6 943 469.9 945 470" fill="none" stroke="#fff" stroke-width="2.6" stroke-linecap="round" stroke-linejoin="round"/><path d="M925 469.6C926.7 469.7 931.5 469.8 935 470C938.5 470.2 943.9 470.6 945.7 470.7" fill="none" stroke="#fff" stroke-width="1" stroke-linecap="round" stroke-linejoin="round"/><path d="M960.9 469.6C962.2 470.3 966.3 472.4 969 474C971.7 475.6 975.8 478.4 977.2 479.3" fill="none" stroke="#fff" stroke-width="1.4" stroke-linecap="round" stroke-linejoin="round"/><path d="M1020.7 495.7C1022.2 496.4 1027.1 498.4 1030 500C1032.9 501.6 1034.5 503.1 1038 505.4C1041.5 507.7 1048.8 512.6 1051 514" fill="none" stroke="#fff" stroke-width="3" stroke-linecap="round" stroke-linejoin="round"/><path d="M1012 492C1014.2 493.2 1020.3 496 1025 499C1029.7 502 1037.5 508.2 1040 510" fill="none" stroke="#ffd8c4" stroke-width="2.1" stroke-linecap="round" stroke-linejoin="round" opacity="0.95"/><ellipse cx="1155.4" cy="501" rx="2.5" ry="2.5" fill="#fff"/><ellipse cx="957.6" cy="549.1" rx="1.8" ry="1.8" fill="#fff"/><ellipse cx="951" cy="552" rx="1.5" ry="1.5" fill="#fff"/><ellipse cx="1122.8" cy="561" rx="1.8" ry="1.8" fill="#fff"/><ellipse cx="1142" cy="557" rx="1.5" ry="1.5" fill="#fff"/><ellipse cx="1109" cy="553" rx="1.6" ry="1.6" fill="#fff"/><path d="M1098 550C1099.7 551.3 1105 555.3 1108 558C1111 560.7 1114.7 564.7 1116 566" fill="none" stroke="#ffd8c4" stroke-width="2.2" stroke-linecap="round" stroke-linejoin="round" opacity="0.95"/><ellipse cx="1025" cy="612.2" rx="1.2" ry="1.2" fill="#fff"/><path d="M736 529C734.7 530.5 730.3 534.2 728.3 538.3C726.3 542.4 724.7 551 724 553.5" fill="none" stroke="#ffd8c4" stroke-width="2.3" stroke-linecap="round" stroke-linejoin="round" opacity="0.95"/><path d="M841.3 529.6C842.1 530.7 844.5 533.8 846 536C847.5 538.2 849.3 541.5 850 542.6" fill="none" stroke="#fff" stroke-width="1.2" stroke-linecap="round" stroke-linejoin="round"/><path d="M887 609C888.3 610.2 892.5 613.7 895 616C897.5 618.3 900.8 621.8 902 623" fill="none" stroke="#ffd8c4" stroke-width="1.9" stroke-linecap="round" stroke-linejoin="round" opacity="0.95"/><ellipse cx="795.7" cy="527.8" rx="1.1" ry="1.1" fill="#fff"/><ellipse cx="822" cy="548.8" rx="1.6" ry="1.6" fill="#fff"/><ellipse cx="887.8" cy="560.5" rx="1.6" ry="1.6" fill="#fff"/><ellipse cx="938.5" cy="533.5" rx="2.2" ry="2.2" fill="#fff"/><ellipse cx="938.5" cy="604.6" rx="2.4" ry="2.4" fill="#fff"/><ellipse cx="1054.2" cy="519.3" rx="1.2" ry="1.2" fill="#ffc8b0"/></g>
<g filter="url(#wigW)"><ellipse cx="741" cy="457.5" rx="14" ry="8.5" fill="#fff"/><path d="M751 451C752.7 449.2 757 443.3 761 440.5C765 437.7 770.2 435.3 775 434C779.8 432.7 785.3 432.2 790 432.5C794.7 432.8 799.3 434 803 435.5C806.7 437 810.2 439.8 812 441.5C813.8 443.2 813.7 445.2 814 446" fill="none" stroke="#fff" stroke-width="13" stroke-linecap="round" stroke-linejoin="round"/><path d="M749 463C752 464.6 760.2 469.5 767 472.5C773.8 475.5 786.2 479.6 790 481" fill="none" stroke="#fff" stroke-width="14" stroke-linecap="round" stroke-linejoin="round"/><path d="M767 472.5C770.8 473.9 783.2 478.8 790 481C796.8 483.2 802 484.7 808 485.5C814 486.3 821 486.2 826 486C831 485.8 836 484.3 838 484" fill="none" stroke="#fff" stroke-width="19" stroke-linecap="round" stroke-linejoin="round"/><path d="M786 445C786.7 447.2 789.7 453.8 790 458C790.3 462.2 788.3 468 788 470" fill="none" stroke="#fff" stroke-width="5" stroke-linecap="round" stroke-linejoin="round"/><path d="M818 473C819.3 470.4 825.3 472.2 830 472.5C834.7 472.8 840.7 474.8 846 475C851.3 475.2 858 473.8 862 474C866 474.2 868.1 474.9 870 476.5C871.9 478.1 873.5 480.9 873.5 483.5C873.5 486.1 872.6 490.2 870 492C867.4 493.8 861.2 493.3 858 494.5C854.8 495.7 854 498.4 851 499C848 499.6 843.5 498.8 840 498C836.5 497.2 833 495.7 830 494C827 492.3 824 491.5 822 488C820 484.5 816.7 475.6 818 473Z" fill="#fff" stroke="#fff" stroke-width="2" stroke-linejoin="round"/><path d="M839 489C839.5 491.3 840.8 498.8 842 503C843.2 507.2 843.7 510.9 846 514C848.3 517.1 854.3 520.2 856 521.5" fill="none" stroke="#fff" stroke-width="15" stroke-linecap="round" stroke-linejoin="round"/><path d="M843 516C845 517.1 850 521 855 522.5C860 524 867.5 525.3 873 525C878.5 524.7 882.8 522.9 888 520.5C893.2 518.1 898.8 514 904 510.5C909.2 507 916.5 501.3 919 499.5" fill="none" stroke="#fff" stroke-width="11" stroke-linecap="round" stroke-linejoin="round"/><path d="M904 510.5C906.5 508.7 913.8 502.4 919 499.5C924.2 496.6 930.8 494.4 935 493C939.2 491.6 942.5 491.5 944 491.2" fill="none" stroke="#fff" stroke-width="6.5" stroke-linecap="round" stroke-linejoin="round"/><path d="M944 491.2C945.8 491.4 950.2 491.8 955 492.5C959.8 493.2 967.3 493.8 973 495.5C978.7 497.2 986.3 501.3 989 502.5" fill="none" stroke="#fff" stroke-width="8" stroke-linecap="round" stroke-linejoin="round"/><path d="M973 495.5C975.7 496.7 984.5 499.7 989 502.5C993.5 505.3 996.2 508.3 1000 512.5C1003.8 516.7 1008.2 522.1 1012 527.5C1015.8 532.9 1018.7 539.6 1023 545C1027.3 550.4 1033.5 555.7 1038 560C1042.5 564.3 1048 569.2 1050 571" fill="none" stroke="#fff" stroke-width="9.5" stroke-linecap="round" stroke-linejoin="round"/><path d="M1042.4 564.3C1043.3 562.7 1048.2 562.7 1050 562C1051.8 561.3 1051.7 559.4 1053 560C1054.3 560.6 1055.8 563.6 1057.6 565.4C1059.4 567.2 1064 569.3 1064 570.9C1064 572.5 1060.1 574.1 1057.6 575.2C1055.1 576.3 1051.2 578 1049 577.4C1046.8 576.8 1045.7 573.9 1044.6 571.7C1043.5 569.5 1041.5 565.9 1042.4 564.3Z" fill="#fff" stroke="#fff" stroke-width="3" stroke-linejoin="round"/><path d="M1050 571C1051.7 571 1057 571.8 1060 571C1063 570.2 1065.2 567.7 1068 566C1070.8 564.3 1075.5 561.8 1077 561" fill="none" stroke="#fff" stroke-width="7" stroke-linecap="round" stroke-linejoin="round"/><path d="M869.8 463.5C870.5 462.3 873.7 462.4 875 463C876.3 463.6 877.3 465.7 877.5 467C877.7 468.3 877.1 470.5 876 471C874.9 471.5 872 471.2 871 470C870 468.8 869.1 464.7 869.8 463.5Z" fill="#fff" stroke="#fff" stroke-width="1.5" stroke-linejoin="round"/><path d="M936 557C937.1 556.2 939.3 555.3 941 555.5C942.7 555.7 944.8 556.8 946 558C947.2 559.2 947.9 561.2 948 563C948.1 564.8 947.7 568.2 946.7 568.7C945.7 569.2 943.6 566.7 942 566C940.4 565.3 938.2 565.4 937 564.5C935.8 563.6 934.7 561.8 934.5 560.5C934.3 559.2 934.9 557.8 936 557Z" fill="#fff" stroke="#fff" stroke-width="2" stroke-linejoin="round"/><ellipse cx="1001" cy="531.3" rx="2" ry="3.6" fill="#fff"/><path d="M973.9 554.6C975 554.4 978.4 557.3 981.5 558.9C984.6 560.5 989.5 561.6 992.4 564.3C995.3 567 996.4 571.8 998.9 575.2C1001.4 578.7 1008 583.5 1007.6 585C1007.2 586.5 1000.1 584.8 996.7 583.9C993.3 583 989.7 581.4 987 579.6C984.3 577.8 981.1 575.4 980.4 573C979.7 570.6 983.5 567.6 982.6 565.4C981.7 563.2 976.5 561.8 975 560C973.5 558.2 972.8 554.8 973.9 554.6Z" fill="#fff" stroke="#fff" stroke-width="2" stroke-linejoin="round"/><ellipse cx="1094.6" cy="541" rx="7" ry="7.5" fill="#fff"/><path d="M1114 566C1114.3 564.3 1118 563.5 1120 564C1122 564.5 1124.7 566.8 1126 569C1127.3 571.2 1128.3 575.2 1128 577C1127.7 578.8 1125.7 580.5 1124 580C1122.3 579.5 1119.7 576.3 1118 574C1116.3 571.7 1113.7 567.7 1114 566Z" fill="#fff" stroke="#fff" stroke-width="2" stroke-linejoin="round"/><ellipse cx="1031.5" cy="593.7" rx="2.4" ry="5" fill="#fff"/><ellipse cx="958.7" cy="602.4" rx="1.4" ry="2.6" fill="#fff"/><path d="M1101 622C1101.3 620 1105.2 617.2 1108 616C1110.8 614.8 1115 613.8 1118 614.5C1121 615.2 1124.2 617.8 1126 620C1127.8 622.2 1129.7 625.8 1129 628C1128.3 630.2 1124.8 632 1122 633C1119.2 634 1115 633.5 1112 634C1109 634.5 1105 637 1104 636C1103 635 1106.5 630.3 1106 628C1105.5 625.7 1100.7 624 1101 622Z" fill="#fff" stroke="#fff" stroke-width="1.5" stroke-linejoin="round"/><path d="M1056 606C1056.5 603.8 1058.3 609.7 1060 612C1061.7 614.3 1065.3 617.7 1066 620C1066.7 622.3 1065.5 625.2 1064 626C1062.5 626.8 1058.3 628.3 1057 625C1055.7 621.7 1055.5 608.2 1056 606Z" fill="#fff" stroke="#fff" stroke-width="1" stroke-linejoin="round"/><path d="M1151 636C1152 634.3 1154.6 633.3 1156 634C1157.4 634.7 1158.9 636.3 1159.5 640C1160.1 643.7 1160.6 654 1159.5 656C1158.4 658 1154.6 654 1153 652C1151.4 650 1150.3 646.7 1150 644C1149.7 641.3 1150 637.7 1151 636Z" fill="#fff" stroke="#fff" stroke-width="2" stroke-linejoin="round"/><path d="M727 466C726.6 468.3 724.5 475.2 724.5 480C724.5 484.8 725.9 490.3 727 495C728.1 499.7 730.3 505.8 731 508" fill="none" stroke="#fff" stroke-width="4.2" stroke-linecap="round" stroke-linejoin="round"/><path d="M732.6 510C733.2 511.7 735.1 517.1 736 520C736.9 522.9 737.7 526.2 738 527.4" fill="none" stroke="#fff" stroke-width="3" stroke-linecap="round" stroke-linejoin="round"/><ellipse cx="735.9" cy="526.3" rx="3.2" ry="3.2" fill="#fff"/></g>
<g><ellipse cx="847.8" cy="490.2" rx="2.8" ry="2.6" fill="#000" transform="rotate(35 847.8 490.2)"/><ellipse cx="718.5" cy="446" rx="4" ry="1.6" fill="#000" transform="rotate(-15 718.5 446)"/><ellipse cx="764.1" cy="522.4" rx="3" ry="2" fill="#000"/><path d="M799.5 554.3L813.5 551.3L807.9 561.3L805.1 559.3Z" fill="#000"/><ellipse cx="906" cy="602" rx="3.6" ry="2.2" fill="#000"/><ellipse cx="1117.8" cy="446.3" rx="5" ry="2.3" fill="#000" transform="rotate(-50 1117.8 446.3)"/><ellipse cx="1145" cy="405.9" rx="3.5" ry="1.3" fill="#000" transform="rotate(10 1145 405.9)"/><ellipse cx="1150" cy="568.3" rx="7" ry="4" fill="#000"/><ellipse cx="987" cy="543.7" rx="1.8" ry="1.5" fill="#000"/><ellipse cx="1022" cy="644.5" rx="1.2" ry="1" fill="#000"/></g>
<g><ellipse cx="1031.5" cy="592.5" rx="1.6" ry="1.6" fill="#1eff1e"/><ellipse cx="1111.3" cy="632.8" rx="1.3" ry="1.3" fill="#1eff1e"/><ellipse cx="728.3" cy="499" rx="1.3" ry="1.3" fill="#1eff1e"/><ellipse cx="795.2" cy="527.3" rx="1.3" ry="1.3" fill="#1eff1e"/><ellipse cx="1054.5" cy="519.6" rx="1.2" ry="2" fill="#1eff1e" transform="rotate(30 1054.5 519.6)"/><ellipse cx="940.5" cy="491" rx="1.2" ry="1.2" fill="#1eff1e"/><ellipse cx="944" cy="490.3" rx="1.1" ry="1.1" fill="#1eff1e"/></g>
<g filter="url(#wigG)"><path d="M727.5 458.5C727.8 456.7 729.6 453.4 732 452C734.4 450.6 738.7 450.6 742 450C745.3 449.4 749.5 449.5 752 448.5C754.5 447.5 754.5 445.4 757 444C759.5 442.6 765.5 441.6 767 440C768.5 438.4 764.8 435.8 766 434.5C767.2 433.2 771.2 433.7 774 432.5C776.8 431.3 779.4 427.6 782.6 427.2C785.9 426.8 789.9 429.6 793.5 430.4C797.1 431.2 800.8 430.7 804 432C807.2 433.3 811.2 436.3 813 438C814.8 439.7 815.2 440.6 815 442.4C814.8 444.2 813.2 448.3 812 448.9C810.8 449.4 809.3 446.1 807.6 445.7C805.9 445.3 804 447.6 802 446.7C800 445.8 798.2 441.5 795.7 440.2C793.2 438.9 790.3 438.8 787 439C783.7 439.2 779.2 440.3 776 441.5C772.8 442.7 771.2 444.8 768 446C764.8 447.2 760 447.3 757 449C754 450.7 750 453.8 750 456C750 458.2 754.5 460.2 757 462C759.5 463.8 762.5 464.8 765 466.5C767.5 468.2 768.3 470.8 772 472C775.7 473.2 782.3 472.5 787 473.5C791.7 474.5 795.8 477.6 800 478C804.2 478.4 808 476.6 812 476C816 475.4 820.8 474.4 824 474.5C827.2 474.6 831.3 475.4 831 476.5C830.7 477.6 825.2 479.6 822 481C818.8 482.4 815.7 483.8 812 485C808.3 486.2 803.7 487.8 800 488C796.3 488.2 793.3 487.3 790 486C786.7 484.7 783.8 481.7 780 480C776.2 478.3 770.8 477.7 767 476C763.2 474.3 760.2 472.2 757 470C753.8 467.8 751.2 463.8 748 463C744.8 462.2 741 465 738 465C735 465 731.8 464.1 730 463C728.2 461.9 727.2 460.3 727.5 458.5Z" fill="none" stroke="#1eff1e" stroke-width="1.5" stroke-linecap="round" stroke-linejoin="round"/><path d="M781 437.5C781.2 437.1 785.7 435.4 788 435.5C790.3 435.6 793 437.1 795 438C797 438.9 800.2 440.8 800 441C799.8 441.2 796.2 440 794 439.5C791.8 439 789.2 438.3 787 438C784.8 437.7 780.8 437.9 781 437.5Z" fill="none" stroke="#1eff1e" stroke-width="1.4" stroke-linecap="round" stroke-linejoin="round"/><path d="M851.3 479.8C851.3 479.3 853.3 478.3 854.3 478.3C855.3 478.3 857.3 479.3 857.3 479.8C857.3 480.3 855.3 481.3 854.3 481.3C853.3 481.3 851.3 480.3 851.3 479.8Z" fill="none" stroke="#1eff1e" stroke-width="1.4" stroke-linecap="round" stroke-linejoin="round"/><path d="M830 489C830 490.2 832.3 491.7 833 494C833.7 496.3 833.2 500 834 503C834.8 506 837.1 508.8 838 512C838.9 515.2 838.8 521.5 839.5 522C840.2 522.5 840.6 516.5 842 515C843.4 513.5 845.8 512.3 848 513C850.2 513.7 852 516.8 855 519C858 521.2 861.8 524.6 866 526C870.2 527.4 876 528.2 880 527.5C884 526.8 887 523.8 890 522C893 520.2 895.3 519.1 898 517C900.7 514.9 903.2 511.8 906 509.5C908.8 507.2 911.8 504.9 915 503C918.2 501.1 921.8 499 925 498C928.2 497 932 498 934 497C936 496 937.2 493.2 937 492C936.8 490.8 935.3 489.4 933 489.5C930.7 489.6 926.5 490.9 923 492.5C919.5 494.1 915.3 497.1 912 499C908.7 500.9 905.5 502.2 903 504C900.5 505.8 899.5 508.3 897 510C894.5 511.7 890.8 512.7 888 514C885.2 515.3 883 517.2 880 518C877 518.8 873.7 519.2 870 519C866.3 518.8 861.2 518.2 858 517C854.8 515.8 853.2 513.8 851 512C848.8 510.2 846.5 508.3 845 506C843.5 503.7 843.2 500.5 842 498C840.8 495.5 839.5 492.8 838 491C836.5 489.2 834.3 487.3 833 487C831.7 486.7 830 487.8 830 489Z" fill="none" stroke="#1eff1e" stroke-width="1.5" stroke-linecap="round" stroke-linejoin="round"/><path d="M955 492C955 491.4 958 491 959.5 491.2C961 491.4 964 492.4 964 493C964 493.6 961 494.7 959.5 494.5C958 494.3 955 492.6 955 492Z" fill="none" stroke="#1eff1e" stroke-width="1.4" stroke-linecap="round" stroke-linejoin="round"/><path d="M967.6 494C968.4 493 972.3 492.2 975 492.5C977.7 492.8 981.3 494.2 984 495.5C986.7 496.8 990.3 499 991 500.5C991.7 502 990.2 504.2 988 504.5C985.8 504.8 981 503 978 502C975 501 971.7 499.8 970 498.5C968.3 497.2 966.8 495 967.6 494Z" fill="none" stroke="#1eff1e" stroke-width="1.4" stroke-linecap="round" stroke-linejoin="round"/><path d="M995.7 503.1C995.9 502.5 997.5 502.1 998.1 502.5C998.7 502.9 999.5 504.9 999.3 505.5C999.1 506.1 997.5 506.5 996.9 506.1C996.3 505.7 995.5 503.7 995.7 503.1Z" fill="none" stroke="#1eff1e" stroke-width="1.4" stroke-linecap="round" stroke-linejoin="round"/><path d="M1001.2 509.3C1001.4 508.7 1003 508.3 1003.6 508.7C1004.2 509.1 1005 511.1 1004.8 511.7C1004.6 512.3 1003 512.7 1002.4 512.3C1001.8 511.9 1001 509.9 1001.2 509.3Z" fill="none" stroke="#1eff1e" stroke-width="1.4" stroke-linecap="round" stroke-linejoin="round"/><path d="M1005.5 517.3C1005.7 516.7 1007.3 516.3 1007.9 516.7C1008.5 517.1 1009.3 519.1 1009.1 519.7C1008.9 520.3 1007.3 520.7 1006.7 520.3C1006.1 519.9 1005.3 517.9 1005.5 517.3Z" fill="none" stroke="#1eff1e" stroke-width="1.4" stroke-linecap="round" stroke-linejoin="round"/><path d="M1012.3 528.4C1012.5 527.8 1014.1 527.4 1014.7 527.8C1015.3 528.2 1016.1 530.2 1015.9 530.8C1015.7 531.4 1014.1 531.8 1013.5 531.4C1012.9 531 1012.1 529 1012.3 528.4Z" fill="none" stroke="#1eff1e" stroke-width="1.4" stroke-linecap="round" stroke-linejoin="round"/><path d="M1016.7 536C1016.9 535.4 1018.5 535 1019.1 535.4C1019.7 535.8 1020.5 537.8 1020.3 538.4C1020.1 539 1018.5 539.4 1017.9 539C1017.3 538.6 1016.5 536.6 1016.7 536Z" fill="none" stroke="#1eff1e" stroke-width="1.4" stroke-linecap="round" stroke-linejoin="round"/><path d="M1022.1 542.5C1022.3 541.9 1023.9 541.5 1024.5 541.9C1025.1 542.3 1025.9 544.3 1025.7 544.9C1025.5 545.5 1023.9 545.9 1023.3 545.5C1022.7 545.1 1021.9 543.1 1022.1 542.5Z" fill="none" stroke="#1eff1e" stroke-width="1.4" stroke-linecap="round" stroke-linejoin="round"/><path d="M1025.4 549C1025.6 548.4 1027.2 548 1027.8 548.4C1028.4 548.8 1029.2 550.8 1029 551.4C1028.8 552 1027.2 552.4 1026.6 552C1026 551.6 1025.2 549.6 1025.4 549Z" fill="none" stroke="#1eff1e" stroke-width="1.4" stroke-linecap="round" stroke-linejoin="round"/><path d="M1030.8 551.2C1031 550.6 1032.6 550.2 1033.2 550.6C1033.8 551 1034.6 553 1034.4 553.6C1034.2 554.2 1032.6 554.6 1032 554.2C1031.4 553.8 1030.6 551.8 1030.8 551.2Z" fill="none" stroke="#1eff1e" stroke-width="1.4" stroke-linecap="round" stroke-linejoin="round"/><path d="M1042.4 564.3C1043.3 562.7 1048.2 562.7 1050 562C1051.8 561.3 1052.1 559.8 1053 560C1053.9 560.2 1054.3 563.1 1055.5 563.5C1056.7 563.9 1059.5 561.9 1060 562.5C1060.5 563.1 1057.8 565.6 1058.5 567C1059.2 568.4 1064.2 569.5 1064 570.9C1063.8 572.3 1060.1 574.1 1057.6 575.2C1055.1 576.3 1051.2 578 1049 577.4C1046.8 576.8 1045.7 573.9 1044.6 571.7C1043.5 569.5 1041.5 565.9 1042.4 564.3Z" fill="none" stroke="#1eff1e" stroke-width="1.5" stroke-linecap="round" stroke-linejoin="round"/><path d="M973.9 554.6C975 554.4 979.5 558.2 981.5 558.9C983.5 559.6 984.2 558.1 986 559C987.8 559.9 991.1 562.3 992.4 564.3C993.7 566.3 992.9 569.2 994 571C995.1 572.8 997.2 573.4 998.9 575.2C1000.6 577 1003.8 580.5 1004 582C1004.2 583.5 1002 584.5 1000 584.5C998 584.5 994.2 582.8 992 582C989.8 581.2 988.9 581.1 987 579.6C985.1 578.1 981.1 575.4 980.4 573C979.7 570.6 983.5 567.6 982.6 565.4C981.7 563.2 976.5 561.8 975 560C973.5 558.2 972.8 554.8 973.9 554.6Z" fill="none" stroke="#1eff1e" stroke-width="1.5" stroke-linecap="round" stroke-linejoin="round"/><path d="M1099.5 558.3C1099.5 557.4 1100.8 555.5 1101.5 555.5C1102.2 555.5 1103.5 557.4 1103.5 558.3C1103.5 559.2 1102.2 561 1101.5 561C1100.8 561 1099.5 559.2 1099.5 558.3Z" fill="none" stroke="#1eff1e" stroke-width="1.4" stroke-linecap="round" stroke-linejoin="round"/><path d="M1109 618.7C1109 617.9 1111 616.2 1112 616.2C1113 616.2 1115 617.9 1115 618.7C1115 619.5 1113 621 1112 621C1111 621 1109 619.5 1109 618.7Z" fill="none" stroke="#1eff1e" stroke-width="1.4" stroke-linecap="round" stroke-linejoin="round"/><path d="M1057 625.2C1057 624.7 1058.1 623.7 1058.7 623.7C1059.3 623.7 1060.4 624.7 1060.4 625.2C1060.4 625.7 1059.3 626.7 1058.7 626.7C1058.1 626.7 1057 625.7 1057 625.2Z" fill="none" stroke="#1eff1e" stroke-width="1.4" stroke-linecap="round" stroke-linejoin="round"/><path d="M1060.9 626.5C1060.9 626 1062 625 1062.6 625C1063.2 625 1064.3 626 1064.3 626.5C1064.3 627 1063.2 628 1062.6 628C1062 628 1060.9 627 1060.9 626.5Z" fill="none" stroke="#1eff1e" stroke-width="1.4" stroke-linecap="round" stroke-linejoin="round"/><path d="M1157.5 638C1157 638.8 1154.9 640.8 1154.5 643C1154.1 645.2 1154.4 649 1155 651C1155.6 653 1157.5 654.3 1158 655" fill="none" stroke="#1eff1e" stroke-width="1.5" stroke-linecap="round" stroke-linejoin="round"/><path d="M733 508C733.7 507.7 735.9 511 736.5 513C737.1 515 737.1 518.6 736.8 520C736.5 521.4 735.2 522.3 734.5 521.5C733.8 520.7 732.8 517.2 732.5 515C732.2 512.8 732.3 508.3 733 508Z" fill="none" stroke="#1eff1e" stroke-width="1.4" stroke-linecap="round" stroke-linejoin="round"/></g></g>
</g>
<line x1="272.6" y1="19.8" x2="272.6" y2="293.5" stroke="#1a0300" stroke-width="1.2" opacity="0.6"/>
<line x1="272.6" y1="20.5" x2="272.6" y2="293.5" stroke="#fff" stroke-width="2" stroke-dasharray="16.6 15.6"/>
<g transform="translate(-665.5,-363.5)"><path d="M786.1 527.8L795.7 518.2L805.3 527.8L795.7 537.4Z" fill="none" stroke="#0a0ae6" stroke-width="2" stroke-linejoin="miter"/><path d="M812.1 549.1L821.7 539.5L831.3 549.1L821.7 558.7Z" fill="none" stroke="#0a0ae6" stroke-width="2" stroke-linejoin="miter"/><path d="M878 560.7L887.6 551.1L897.2 560.7L887.6 570.3Z" fill="none" stroke="#0a0ae6" stroke-width="2" stroke-linejoin="miter"/><path d="M928.4 533.9L938 524.3L947.6 533.9L938 543.5Z" fill="none" stroke="#0a0ae6" stroke-width="2" stroke-linejoin="miter"/><path d="M928.4 604.6L938 595L947.6 604.6L938 614.2Z" fill="none" stroke="#0a0ae6" stroke-width="2" stroke-linejoin="miter"/><path d="M1044.1 519.1L1053.7 509.5L1063.3 519.1L1053.7 528.7Z" fill="none" stroke="#0a0ae6" stroke-width="2" stroke-linejoin="miter"/><text x="903.3" y="538.3" font-size="12.8" fill="#fff" textLength="25.2" lengthAdjust="spacing">EE3</text><text x="903.3" y="603" font-size="12.8" fill="#fff" textLength="25.2" lengthAdjust="spacing">EE4</text><text x="986.5" y="458.7" font-size="12.8" fill="#fff" textLength="15.7" lengthAdjust="spacing">R1</text><text x="967" y="617.6" font-size="12.8" fill="#fff" textLength="14.1" lengthAdjust="spacing">L1</text><path d="M978.3 459.8L944.6 488M944.6 488L947.7 481.7M944.6 488L951.3 486.1" fill="none" stroke="#1ee61e" stroke-width="1.3" stroke-linecap="round"/><path d="M971.7 602.4L945 574.1M945 574.1L951.5 576.8M945 574.1L947.3 580.7" fill="none" stroke="#1ee61e" stroke-width="1.3" stroke-linecap="round"/></g>
<rect x="45.0" y="19.8" width="449.0" height="273.7" fill="none" stroke="#000" stroke-width="1.2"/>
<rect x="499.5" y="19.8" width="77.5" height="273.7" fill="#fff" stroke="none"/>
<g clip-path="url(#clipS)"><g transform="translate(-665.5,-363.5)"><g filter="url(#bSp)"><ellipse cx="1202.8" cy="467.7" rx="8" ry="3" fill="#ff8a28" opacity="0.3"/><ellipse cx="1204.8" cy="494.5" rx="6" ry="3.5" fill="#ff8a28" opacity="0.7"/><ellipse cx="1204.3" cy="490" rx="3" ry="7" fill="#ff8a28" opacity="0.5"/><ellipse cx="1200" cy="533.8" rx="14" ry="1.7" fill="#ff8a28" opacity="0.5"/><ellipse cx="1204.8" cy="560.6" rx="4" ry="4.5" fill="#ff8a28" opacity="0.75"/><ellipse cx="1203.3" cy="551" rx="1.8" ry="7" fill="#ff8a28" opacity="0.25"/><ellipse cx="1202.8" cy="604.4" rx="6.5" ry="3.2" fill="#ff8a28" opacity="0.75"/></g><g filter="url(#bT)"><ellipse cx="1204.8" cy="494.6" rx="3.2" ry="2.2" fill="#d63a00" opacity="0.95"/><ellipse cx="1204.8" cy="560.8" rx="2.2" ry="2.4" fill="#d63a00" opacity="0.9"/><ellipse cx="1202.8" cy="604.6" rx="3" ry="1.6" fill="#d63a00" opacity="0.8"/><ellipse cx="1197" cy="533.8" rx="4" ry="1" fill="#d63a00" opacity="0.5"/></g><line x1="1173.7" y1="494.9" x2="1234" y2="494.9" stroke="#1a1aff" stroke-width="1.7" stroke-dasharray="3.6 7.6"/><line x1="1173.7" y1="533.8" x2="1234" y2="533.8" stroke="#1a1aff" stroke-width="1.7" stroke-dasharray="3.6 7.6"/><line x1="1173.7" y1="560.6" x2="1234" y2="560.6" stroke="#1a1aff" stroke-width="1.7" stroke-dasharray="3.6 7.6"/><line x1="1173.7" y1="604.8" x2="1234" y2="604.8" stroke="#1a1aff" stroke-width="1.7" stroke-dasharray="3.6 7.6"/></g></g>
<line x1="537.8" y1="20.5" x2="537.8" y2="293.5" stroke="#0c0c0c" stroke-width="1.9" stroke-dasharray="16.6 15.6"/>
<rect x="499.5" y="19.8" width="77.5" height="273.7" fill="none" stroke="#111" stroke-width="1.5"/>
<line x1="500.5" y1="21.8" x2="500.5" y2="293.5" stroke="#111" stroke-width="1.4" stroke-dasharray="1 4.2"/>
<line x1="576.0" y1="21.8" x2="576.0" y2="293.5" stroke="#111" stroke-width="1.4" stroke-dasharray="1 4.2"/>
<line x1="543.8" y1="289.5" x2="543.8" y2="293.5" stroke="#111" stroke-width="1"/>
<text x="174.8" y="14.4" font-size="13.6" text-anchor="start" fill="#222" textLength="18.8" lengthAdjust="spacingAndGlyphs">SJI</text>
<text x="202.6" y="14.4" font-size="13.6" text-anchor="start" fill="#222" textLength="33" lengthAdjust="spacingAndGlyphs">1400</text>
<text x="242.8" y="14.4" font-size="13.6" text-anchor="start" fill="#222" textLength="8.8" lengthAdjust="spacingAndGlyphs">Å</text>
<text x="256.3" y="14.4" font-size="13.6" text-anchor="start" fill="#222" textLength="82.8" lengthAdjust="spacingAndGlyphs">02:55:00.22</text>
<text x="346.6" y="14.4" font-size="13.6" text-anchor="start" fill="#222" textLength="15.6" lengthAdjust="spacingAndGlyphs">UT</text>
<text x="41" y="88.6" font-size="11.3" text-anchor="end" fill="#222" textLength="20.8" lengthAdjust="spacing">600</text>
<line x1="45.0" y1="84.6" x2="49.0" y2="84.6" stroke="#000" stroke-width="1"/>
<text x="41" y="163.3" font-size="11.3" text-anchor="end" fill="#222" textLength="20.8" lengthAdjust="spacing">580</text>
<line x1="45.0" y1="159.3" x2="49.0" y2="159.3" stroke="#000" stroke-width="1"/>
<text x="41" y="238" font-size="11.3" text-anchor="end" fill="#222" textLength="20.8" lengthAdjust="spacing">560</text>
<line x1="45.0" y1="234" x2="49.0" y2="234" stroke="#000" stroke-width="1"/>
<text x="81.1" y="310.3" font-size="11.3" text-anchor="middle" fill="#222" textLength="20.8" lengthAdjust="spacing">280</text>
<line x1="81.1" y1="293.5" x2="81.1" y2="289.5" stroke="#000" stroke-width="1"/>
<text x="161.8" y="310.3" font-size="11.3" text-anchor="middle" fill="#222" textLength="20.8" lengthAdjust="spacing">300</text>
<line x1="161.8" y1="293.5" x2="161.8" y2="289.5" stroke="#000" stroke-width="1"/>
<text x="242.5" y="310.3" font-size="11.3" text-anchor="middle" fill="#222" textLength="20.8" lengthAdjust="spacing">320</text>
<line x1="242.5" y1="293.5" x2="242.5" y2="289.5" stroke="#000" stroke-width="1"/>
<text x="323.2" y="310.3" font-size="11.3" text-anchor="middle" fill="#222" textLength="20.8" lengthAdjust="spacing">340</text>
<line x1="323.2" y1="293.5" x2="323.2" y2="289.5" stroke="#000" stroke-width="1"/>
<text x="403.9" y="310.3" font-size="11.3" text-anchor="middle" fill="#222" textLength="20.8" lengthAdjust="spacing">360</text>
<line x1="403.9" y1="293.5" x2="403.9" y2="289.5" stroke="#000" stroke-width="1"/>
<text x="484.6" y="310.3" font-size="11.3" text-anchor="middle" fill="#222" textLength="20.8" lengthAdjust="spacing">380</text>
<line x1="484.6" y1="293.5" x2="484.6" y2="289.5" stroke="#000" stroke-width="1"/>
<text x="222" y="323.4" font-size="11" text-anchor="start" fill="#222" textLength="42.8" lengthAdjust="spacingAndGlyphs">Position</text>
<text x="270.9" y="323.4" font-size="11" text-anchor="start" fill="#222" textLength="45" lengthAdjust="spacingAndGlyphs">(arcsec)</text>
<g transform="translate(11.4,204) rotate(-90)"><text x="0" y="0" font-size="11" fill="#222" textLength="42" lengthAdjust="spacingAndGlyphs">Position</text><text x="49.3" y="0" font-size="11" fill="#222" textLength="45" lengthAdjust="spacingAndGlyphs">(arcsec)</text></g>
<text x="544.6" y="310.3" font-size="11.3" text-anchor="middle" fill="#222" textLength="27.6" lengthAdjust="spacing">1403</text>
<text x="498.4" y="323.4" font-size="11" text-anchor="start" fill="#222" textLength="58.3" lengthAdjust="spacingAndGlyphs">wavelength</text>
<text x="564.2" y="323.4" font-size="11" text-anchor="start" fill="#222" textLength="12.9" lengthAdjust="spacingAndGlyphs">(Å)</text>
<text x="51.2" y="284.4" font-size="15.5" text-anchor="start" fill="#fff" textLength="21.5" lengthAdjust="spacing">(d)</text>
</g>
</svg>
</body></html>
